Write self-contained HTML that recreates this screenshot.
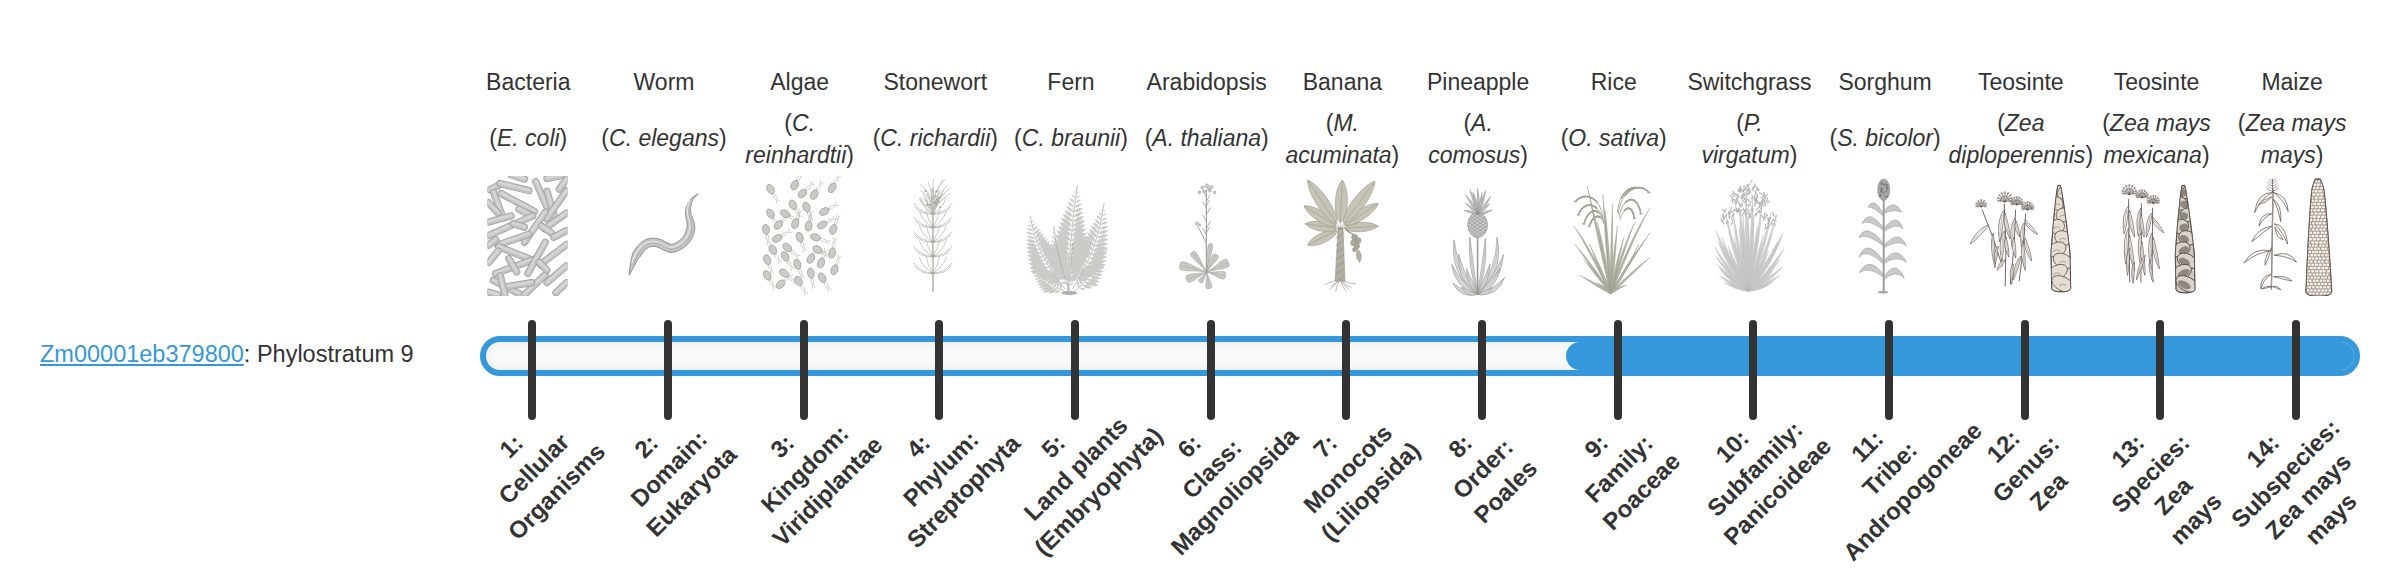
<!DOCTYPE html>
<html><head><meta charset="utf-8"><style>
html,body{margin:0;padding:0;background:#fff;width:2400px;height:580px;overflow:hidden;position:relative}
body{font-family:"Liberation Sans",sans-serif;color:#333}
.nm{position:absolute;top:66px;width:200px;margin-left:-100px;text-align:center;font-size:23px;line-height:32px;white-space:nowrap}
.sp{position:absolute;width:200px;margin-left:-100px;text-align:center;font-size:23px;line-height:32px;white-space:nowrap}
.sp i{font-style:italic}
.im{position:absolute;top:176px;width:136px;height:120px;margin-left:-68px}
.im svg{display:block}
.bar{position:absolute;left:480px;top:336px;width:1868px;height:28px;border:6px solid #3498db;border-radius:20px;background:#f9f9f9;box-shadow:inset 0 0 7px rgba(0,0,0,.09);overflow:hidden}
.fill{position:absolute;left:1080px;top:0;right:-2px;height:28px;background:#3498db;border-radius:14px 0 0 14px}
.tk{position:absolute;top:320px;width:8px;height:100px;margin-left:-4px;background:#333;border-radius:4px}
.lb{position:absolute;width:300px;text-align:center;font-size:24px;font-weight:bold;line-height:32px;white-space:nowrap;transform:rotate(-45deg);color:#333}
.gene{position:absolute;left:40px;top:338px;font-size:23.5px;line-height:32px;white-space:nowrap}
.gene a{color:#3498db;text-decoration:underline}
</style></head><body>
<div class="gene"><a>Zm00001eb379800</a>: Phylostratum 9</div>
<div class="nm" style="left:528.3px">Bacteria</div>
<div class="sp" style="left:528.3px;top:122px">(<i>E. coli</i>)</div>
<div class="im" style="left:528.3px"><svg width="136" height="120" viewBox="-68.0 0 136 120"><defs><clipPath id="cb"><rect x="-40.5" y="0" width="80" height="120"/></clipPath></defs><g clip-path="url(#cb)" stroke-linecap="round"><line x1="-16.9" y1="-1.1" x2="-3.5" y2="3.0" stroke="#9f9f9f" stroke-width="7.2"/><line x1="-16.9" y1="-1.1" x2="-3.5" y2="3.0" stroke="#c3c3c3" stroke-width="5.8"/><line x1="-16.9" y1="-1.7" x2="-3.5" y2="2.4" stroke="#d5d5d5" stroke-width="2.6"/><line x1="19.0" y1="2.5" x2="36.5" y2="-1.1" stroke="#9f9f9f" stroke-width="7.2"/><line x1="19.0" y1="2.5" x2="36.5" y2="-1.1" stroke="#c3c3c3" stroke-width="5.8"/><line x1="19.0" y1="1.9" x2="36.5" y2="-1.7" stroke="#d5d5d5" stroke-width="2.6"/><line x1="31.3" y1="13.1" x2="38.7" y2="3.0" stroke="#9f9f9f" stroke-width="7.2"/><line x1="31.3" y1="13.1" x2="38.7" y2="3.0" stroke="#c3c3c3" stroke-width="5.8"/><line x1="31.3" y1="12.5" x2="38.7" y2="2.4" stroke="#d5d5d5" stroke-width="2.6"/><line x1="-38.2" y1="13.7" x2="-29.2" y2="9.2" stroke="#9f9f9f" stroke-width="7.2"/><line x1="-38.2" y1="13.7" x2="-29.2" y2="9.2" stroke="#c3c3c3" stroke-width="5.8"/><line x1="-38.2" y1="13.1" x2="-29.2" y2="8.6" stroke="#d5d5d5" stroke-width="2.6"/><line x1="-28.1" y1="7.5" x2="1.0" y2="14.6" stroke="#9f9f9f" stroke-width="7.2"/><line x1="-28.1" y1="7.5" x2="1.0" y2="14.6" stroke="#c3c3c3" stroke-width="5.8"/><line x1="-28.1" y1="6.9" x2="1.0" y2="14.0" stroke="#d5d5d5" stroke-width="2.6"/><line x1="-34.4" y1="16.4" x2="-24.8" y2="42.2" stroke="#9f9f9f" stroke-width="7.2"/><line x1="-34.4" y1="16.4" x2="-24.8" y2="42.2" stroke="#c3c3c3" stroke-width="5.8"/><line x1="-34.4" y1="15.8" x2="-24.8" y2="41.6" stroke="#d5d5d5" stroke-width="2.6"/><line x1="-27.0" y1="17.5" x2="6.6" y2="35.5" stroke="#9f9f9f" stroke-width="7.2"/><line x1="-27.0" y1="17.5" x2="6.6" y2="35.5" stroke="#c3c3c3" stroke-width="5.8"/><line x1="-27.0" y1="16.9" x2="6.6" y2="34.9" stroke="#d5d5d5" stroke-width="2.6"/><line x1="-39.8" y1="26.5" x2="-29.9" y2="37.0" stroke="#9f9f9f" stroke-width="7.2"/><line x1="-39.8" y1="26.5" x2="-29.9" y2="37.0" stroke="#c3c3c3" stroke-width="5.8"/><line x1="-39.8" y1="25.9" x2="-29.9" y2="36.4" stroke="#d5d5d5" stroke-width="2.6"/><line x1="7.8" y1="5.7" x2="19.0" y2="31.0" stroke="#9f9f9f" stroke-width="7.2"/><line x1="7.8" y1="5.7" x2="19.0" y2="31.0" stroke="#c3c3c3" stroke-width="5.8"/><line x1="7.8" y1="5.1" x2="19.0" y2="30.4" stroke="#d5d5d5" stroke-width="2.6"/><line x1="19.0" y1="15.3" x2="26.1" y2="40.0" stroke="#9f9f9f" stroke-width="7.2"/><line x1="19.0" y1="15.3" x2="26.1" y2="40.0" stroke="#c3c3c3" stroke-width="5.8"/><line x1="19.0" y1="14.7" x2="26.1" y2="39.4" stroke="#d5d5d5" stroke-width="2.6"/><line x1="38.7" y1="14.6" x2="18.5" y2="42.9" stroke="#9f9f9f" stroke-width="7.2"/><line x1="38.7" y1="14.6" x2="18.5" y2="42.9" stroke="#c3c3c3" stroke-width="5.8"/><line x1="38.7" y1="14.0" x2="18.5" y2="42.3" stroke="#d5d5d5" stroke-width="2.6"/><line x1="-9.1" y1="33.2" x2="2.1" y2="38.8" stroke="#9f9f9f" stroke-width="7.2"/><line x1="-9.1" y1="33.2" x2="2.1" y2="38.8" stroke="#c3c3c3" stroke-width="5.8"/><line x1="-9.1" y1="32.6" x2="2.1" y2="38.2" stroke="#d5d5d5" stroke-width="2.6"/><line x1="-39.3" y1="46.0" x2="-16.9" y2="40.0" stroke="#9f9f9f" stroke-width="7.2"/><line x1="-39.3" y1="46.0" x2="-16.9" y2="40.0" stroke="#c3c3c3" stroke-width="5.8"/><line x1="-39.3" y1="45.4" x2="-16.9" y2="39.4" stroke="#d5d5d5" stroke-width="2.6"/><line x1="-39.3" y1="59.5" x2="4.6" y2="40.0" stroke="#9f9f9f" stroke-width="7.2"/><line x1="-39.3" y1="59.5" x2="4.6" y2="40.0" stroke="#c3c3c3" stroke-width="5.8"/><line x1="-39.3" y1="58.9" x2="4.6" y2="39.4" stroke="#d5d5d5" stroke-width="2.6"/><line x1="-3.5" y1="66.2" x2="17.2" y2="36.2" stroke="#9f9f9f" stroke-width="7.2"/><line x1="-3.5" y1="66.2" x2="17.2" y2="36.2" stroke="#c3c3c3" stroke-width="5.8"/><line x1="-3.5" y1="65.6" x2="17.2" y2="35.6" stroke="#d5d5d5" stroke-width="2.6"/><line x1="16.3" y1="52.7" x2="38.7" y2="37.0" stroke="#9f9f9f" stroke-width="7.2"/><line x1="16.3" y1="52.7" x2="38.7" y2="37.0" stroke="#c3c3c3" stroke-width="5.8"/><line x1="16.3" y1="52.1" x2="38.7" y2="36.4" stroke="#d5d5d5" stroke-width="2.6"/><line x1="13.4" y1="50.1" x2="23.9" y2="57.2" stroke="#9f9f9f" stroke-width="7.2"/><line x1="13.4" y1="50.1" x2="23.9" y2="57.2" stroke="#c3c3c3" stroke-width="5.8"/><line x1="13.4" y1="49.5" x2="23.9" y2="56.6" stroke="#d5d5d5" stroke-width="2.6"/><line x1="-30.4" y1="69.1" x2="0.6" y2="58.3" stroke="#9f9f9f" stroke-width="7.2"/><line x1="-30.4" y1="69.1" x2="0.6" y2="58.3" stroke="#c3c3c3" stroke-width="5.8"/><line x1="-30.4" y1="68.5" x2="0.6" y2="57.7" stroke="#d5d5d5" stroke-width="2.6"/><line x1="-39.3" y1="69.1" x2="-32.2" y2="63.5" stroke="#9f9f9f" stroke-width="7.2"/><line x1="-39.3" y1="69.1" x2="-32.2" y2="63.5" stroke="#c3c3c3" stroke-width="5.8"/><line x1="-39.3" y1="68.5" x2="-32.2" y2="62.9" stroke="#d5d5d5" stroke-width="2.6"/><line x1="-29.2" y1="70.7" x2="4.6" y2="84.1" stroke="#9f9f9f" stroke-width="7.2"/><line x1="-29.2" y1="70.7" x2="4.6" y2="84.1" stroke="#c3c3c3" stroke-width="5.8"/><line x1="-29.2" y1="70.1" x2="4.6" y2="83.5" stroke="#d5d5d5" stroke-width="2.6"/><line x1="-39.3" y1="86.4" x2="-29.9" y2="75.2" stroke="#9f9f9f" stroke-width="7.2"/><line x1="-39.3" y1="86.4" x2="-29.9" y2="75.2" stroke="#c3c3c3" stroke-width="5.8"/><line x1="-39.3" y1="85.8" x2="-29.9" y2="74.6" stroke="#d5d5d5" stroke-width="2.6"/><line x1="-32.6" y1="97.6" x2="6.9" y2="83.0" stroke="#9f9f9f" stroke-width="7.2"/><line x1="-32.6" y1="97.6" x2="6.9" y2="83.0" stroke="#c3c3c3" stroke-width="5.8"/><line x1="-32.6" y1="97.0" x2="6.9" y2="82.4" stroke="#d5d5d5" stroke-width="2.6"/><line x1="-0.1" y1="97.6" x2="17.2" y2="66.2" stroke="#9f9f9f" stroke-width="7.2"/><line x1="-0.1" y1="97.6" x2="17.2" y2="66.2" stroke="#c3c3c3" stroke-width="5.8"/><line x1="-0.1" y1="97.0" x2="17.2" y2="65.6" stroke="#d5d5d5" stroke-width="2.6"/><line x1="12.2" y1="88.6" x2="38.7" y2="68.4" stroke="#9f9f9f" stroke-width="7.2"/><line x1="12.2" y1="88.6" x2="38.7" y2="68.4" stroke="#c3c3c3" stroke-width="5.8"/><line x1="12.2" y1="88.0" x2="38.7" y2="67.8" stroke="#d5d5d5" stroke-width="2.6"/><line x1="19.0" y1="106.6" x2="38.7" y2="89.7" stroke="#9f9f9f" stroke-width="7.2"/><line x1="19.0" y1="106.6" x2="38.7" y2="89.7" stroke="#c3c3c3" stroke-width="5.8"/><line x1="19.0" y1="106.0" x2="38.7" y2="89.1" stroke="#d5d5d5" stroke-width="2.6"/><line x1="-34.8" y1="104.3" x2="-8.8" y2="117.8" stroke="#9f9f9f" stroke-width="7.2"/><line x1="-34.8" y1="104.3" x2="-8.8" y2="117.8" stroke="#c3c3c3" stroke-width="5.8"/><line x1="-34.8" y1="103.7" x2="-8.8" y2="117.2" stroke="#d5d5d5" stroke-width="2.6"/><line x1="-3.5" y1="118.7" x2="17.2" y2="98.7" stroke="#9f9f9f" stroke-width="7.2"/><line x1="-3.5" y1="118.7" x2="17.2" y2="98.7" stroke="#c3c3c3" stroke-width="5.8"/><line x1="-3.5" y1="118.1" x2="17.2" y2="98.1" stroke="#d5d5d5" stroke-width="2.6"/><line x1="-23.6" y1="111.0" x2="3.7" y2="106.6" stroke="#9f9f9f" stroke-width="7.2"/><line x1="-23.6" y1="111.0" x2="3.7" y2="106.6" stroke="#c3c3c3" stroke-width="5.8"/><line x1="-23.6" y1="110.4" x2="3.7" y2="106.0" stroke="#d5d5d5" stroke-width="2.6"/><line x1="27.9" y1="116.6" x2="38.7" y2="106.6" stroke="#9f9f9f" stroke-width="7.2"/><line x1="27.9" y1="116.6" x2="38.7" y2="106.6" stroke="#c3c3c3" stroke-width="5.8"/><line x1="27.9" y1="116.0" x2="38.7" y2="106.0" stroke="#d5d5d5" stroke-width="2.6"/><line x1="11.1" y1="86.4" x2="19.0" y2="94.2" stroke="#9f9f9f" stroke-width="7.2"/><line x1="11.1" y1="86.4" x2="19.0" y2="94.2" stroke="#c3c3c3" stroke-width="5.8"/><line x1="11.1" y1="85.8" x2="19.0" y2="93.6" stroke="#d5d5d5" stroke-width="2.6"/><line x1="-27.7" y1="99.8" x2="-23.2" y2="118.7" stroke="#9f9f9f" stroke-width="7.2"/><line x1="-27.7" y1="99.8" x2="-23.2" y2="118.7" stroke="#c3c3c3" stroke-width="5.8"/><line x1="-27.7" y1="99.2" x2="-23.2" y2="118.1" stroke="#d5d5d5" stroke-width="2.6"/><line x1="-39.3" y1="116.2" x2="-30.4" y2="118.7" stroke="#9f9f9f" stroke-width="7.2"/><line x1="-39.3" y1="116.2" x2="-30.4" y2="118.7" stroke="#c3c3c3" stroke-width="5.8"/><line x1="-39.3" y1="115.6" x2="-30.4" y2="118.1" stroke="#d5d5d5" stroke-width="2.6"/><line x1="-14.7" y1="47.8" x2="-3.5" y2="51.2" stroke="#9f9f9f" stroke-width="7.2"/><line x1="-14.7" y1="47.8" x2="-3.5" y2="51.2" stroke="#c3c3c3" stroke-width="5.8"/><line x1="-14.7" y1="47.2" x2="-3.5" y2="50.6" stroke="#d5d5d5" stroke-width="2.6"/><line x1="25.7" y1="61.3" x2="38.7" y2="54.5" stroke="#9f9f9f" stroke-width="7.2"/><line x1="25.7" y1="61.3" x2="38.7" y2="54.5" stroke="#c3c3c3" stroke-width="5.8"/><line x1="25.7" y1="60.7" x2="38.7" y2="53.9" stroke="#d5d5d5" stroke-width="2.6"/><line x1="-19.2" y1="82.6" x2="-11.3" y2="96.0" stroke="#9f9f9f" stroke-width="7.2"/><line x1="-19.2" y1="82.6" x2="-11.3" y2="96.0" stroke="#c3c3c3" stroke-width="5.8"/><line x1="-19.2" y1="82.0" x2="-11.3" y2="95.4" stroke="#d5d5d5" stroke-width="2.6"/></g></svg></div>
<div class="nm" style="left:664.0px">Worm</div>
<div class="sp" style="left:664.0px;top:122px">(<i>C. elegans</i>)</div>
<div class="im" style="left:664.0px"><svg width="136" height="120" viewBox="-68.0 0 136 120"><polygon points="-34.4,99.0 -34.0,97.8 -33.2,96.4 -32.2,94.7 -31.3,92.7 -30.2,90.7 -29.1,88.6 -28.0,86.5 -26.9,84.6 -25.8,83.0 -24.7,81.6 -23.7,80.5 -23.0,79.2 -22.2,78.0 -21.3,76.8 -20.5,75.8 -19.7,74.8 -18.8,73.9 -18.0,73.2 -17.2,72.5 -16.4,72.0 -15.7,71.5 -14.9,71.2 -14.2,70.9 -13.4,70.7 -12.7,70.6 -11.9,70.5 -11.0,70.4 -10.0,70.5 -8.9,70.5 -8.0,70.7 -7.1,70.9 -6.0,71.3 -4.7,71.9 -3.2,72.6 -1.6,73.5 0.1,74.3 1.9,75.1 3.8,75.8 5.9,76.3 8.1,76.4 10.2,76.1 12.1,75.6 13.9,75.0 15.6,74.1 17.3,73.2 18.9,72.2 20.4,71.1 21.8,69.9 23.1,68.7 24.3,67.5 25.4,66.2 26.4,64.7 27.3,63.3 28.1,61.7 28.9,60.2 29.5,58.5 30.0,56.9 30.4,55.2 30.7,53.5 30.8,51.7 30.7,49.8 30.4,47.9 29.9,46.2 29.4,44.5 28.8,42.8 28.2,41.3 27.7,39.8 27.2,38.5 26.9,37.3 26.7,36.2 26.6,35.1 26.5,33.9 26.6,32.8 26.6,31.7 26.8,30.6 26.9,29.5 27.2,28.4 27.4,27.4 27.7,26.4 28.1,25.5 28.4,24.6 29.0,23.7 29.6,22.9 30.3,22.0 31.0,21.1 31.8,20.3 32.5,19.6 33.2,19.0 33.8,18.6 34.2,18.1 33.7,17.6 33.2,17.9 32.7,18.4 32.0,19.0 31.1,19.5 30.2,20.2 29.2,20.8 28.3,21.6 27.4,22.4 26.5,23.3 25.8,24.2 25.2,25.2 24.6,26.2 24.0,27.3 23.5,28.4 23.0,29.6 22.6,30.8 22.2,32.1 21.9,33.4 21.6,34.8 21.5,36.3 21.5,38.0 21.6,39.7 21.9,41.3 22.2,43.0 22.5,44.6 22.9,46.2 23.1,47.7 23.2,49.0 23.2,50.1 23.0,51.1 22.8,52.2 22.5,53.4 22.1,54.6 21.8,55.8 21.3,57.0 20.8,58.1 20.2,59.2 19.6,60.2 18.9,61.1 18.2,62.0 17.3,62.8 16.4,63.7 15.3,64.6 14.2,65.4 13.0,66.2 11.9,66.9 10.7,67.4 9.6,67.8 8.6,68.1 7.8,68.2 7.0,68.2 6.1,68.0 5.0,67.5 3.6,66.9 2.1,66.2 0.5,65.4 -1.1,64.5 -2.8,63.7 -4.7,63.0 -6.5,62.6 -8.1,62.4 -9.6,62.3 -11.0,62.2 -12.5,62.3 -13.9,62.4 -15.3,62.7 -16.7,63.1 -18.1,63.6 -19.5,64.3 -20.8,65.1 -22.1,66.0 -23.4,67.0 -24.6,68.1 -25.7,69.3 -26.8,70.5 -27.9,71.9 -28.9,73.3 -29.9,74.8 -30.8,76.4 -31.5,78.2 -32.0,80.2 -32.5,82.4 -33.0,84.7 -33.4,87.1 -33.8,89.5 -34.2,91.8 -34.4,94.0 -34.6,96.0 -34.7,97.6 -35.1,98.8" fill="#c4c4c4" stroke="#8a8a8a" stroke-width="0.9"/><polyline points="-32.1,87.1 -31.3,84.8 -30.5,82.7 -29.7,80.8 -28.9,79.1 -28.1,77.6 -27.2,76.2 -26.3,74.8 -25.4,73.5 -24.5,72.3 -23.5,71.2 -22.5,70.2 -21.5,69.3 -20.5,68.4 -19.4,67.7 -18.4,67.1 -17.3,66.6 -16.3,66.2 -15.2,65.9 -14.1,65.7 -13.0,65.6 -11.8,65.5 -10.6,65.6 -9.3,65.7 -8.0,65.8 -6.7,66.1 -5.2,66.7 -3.7,67.4 -2.1,68.2 -0.6,69.0 1.0,69.8 2.6,70.5 4.2,71.1 5.7,71.4 7.1,71.5 8.6,71.3 10.0,70.9 11.5,70.4 13.0,69.7 14.4,68.9 15.8,68.0 17.1,67.0 18.3,66.0 19.4,65.0 20.4,63.9 21.3,62.8 22.2,61.7 23.0,60.4 23.7,59.1 24.3,57.8 24.8,56.4 25.3,54.9 25.7,53.5 25.9,52.1 26.1,50.6 26.2,49.2 26.0,47.7 25.7,46.1 25.3,44.5 24.9,42.9 24.4,41.3 24.0,39.8 23.6,38.3 23.4,36.8 23.3,35.5 23.3,34.1 23.4,32.9 23.6,31.6 23.8,30.4 24.1,29.3 24.4,28.1 24.8,27.0 25.2,26.0 25.6,25.0 26.1,24.1" fill="none" stroke="#e2e2e2" stroke-width="1.4"/><polyline points="-30.4,88.8 -29.6,86.5 -28.8,84.4 -28.0,82.5 -27.2,80.8 -26.4,79.3 -25.5,77.9 -24.6,76.5 -23.7,75.2 -22.8,74.0 -21.8,72.9 -20.8,71.9 -19.8,71.0 -18.8,70.1 -17.7,69.4 -16.7,68.8 -15.6,68.3 -14.6,67.9 -13.5,67.6 -12.4,67.4 -11.3,67.3 -10.1,67.2 -8.9,67.3 -7.6,67.4 -6.3,67.5 -5.0,67.8 -3.5,68.4 -2.0,69.1 -0.4,69.9 1.1,70.7 2.7,71.5 4.3,72.2 5.9,72.8 7.4,73.1 8.8,73.2 10.3,73.0 11.7,72.6 13.2,72.1 14.7,71.4 16.1,70.6 17.5,69.7 18.8,68.7 20.0,67.7 21.1,66.7 22.1,65.6 23.0,64.5 23.9,63.4 24.7,62.1 25.4,60.8 26.0,59.5 26.5,58.1 27.0,56.6 27.4,55.2 27.6,53.8 27.8,52.3 27.9,50.9 27.7,49.4 27.4,47.8 27.0,46.2 26.6,44.6 26.1,43.0 25.7,41.5 25.3,40.0 25.1,38.5 25.0,37.2 25.0,35.8 25.1,34.6 25.3,33.3 25.5,32.1 25.8,31.0 26.1,29.8 26.5,28.7 26.9,27.7 27.3,26.7 27.8,25.8" fill="none" stroke="#a8a8a8" stroke-width="0.8"/></svg></div>
<div class="nm" style="left:799.7px">Algae</div>
<div class="sp" style="left:799.7px;top:107px">(<i>C.</i><br><i>reinhardtii</i>)</div>
<div class="im" style="left:799.7px"><svg width="136" height="120" viewBox="-68.0 0 136 120"><path d="M-27.2 17.0C-22.2 18.7 -25.0 23.8 -20.0 25.5" fill="none" stroke="#a3a39f" stroke-width="0.55"/><path d="M-27.2 17.0C-28.3 22.2 -22.4 22.3 -23.5 27.5" fill="none" stroke="#a3a39f" stroke-width="0.55"/><path d="M-3.0 5.3C-4.0 0.1 1.8 0.0 0.8 -5.2" fill="none" stroke="#a3a39f" stroke-width="0.55"/><path d="M-3.0 5.3C2.0 3.6 -0.8 -1.5 4.2 -3.2" fill="none" stroke="#a3a39f" stroke-width="0.55"/><path d="M5.5 14.4C5.9 9.1 11.6 10.5 11.9 5.2" fill="none" stroke="#a3a39f" stroke-width="0.55"/><path d="M5.5 14.4C10.8 14.0 9.4 8.4 14.7 8.0" fill="none" stroke="#a3a39f" stroke-width="0.55"/><path d="M16.5 14.8C15.5 9.6 21.3 9.5 20.3 4.2" fill="none" stroke="#a3a39f" stroke-width="0.55"/><path d="M16.5 14.8C21.5 13.1 18.7 8.0 23.7 6.2" fill="none" stroke="#a3a39f" stroke-width="0.55"/><path d="M34.4 8.0C33.4 2.8 39.2 2.7 38.2 -2.5" fill="none" stroke="#a3a39f" stroke-width="0.55"/><path d="M34.4 8.0C39.5 6.3 36.6 1.2 41.7 -0.5" fill="none" stroke="#a3a39f" stroke-width="0.55"/><path d="M-4.8 32.7C0.2 34.4 -2.6 39.5 2.4 41.2" fill="none" stroke="#a3a39f" stroke-width="0.55"/><path d="M-4.8 32.7C-5.8 37.9 -0.0 38.0 -1.0 43.2" fill="none" stroke="#a3a39f" stroke-width="0.55"/><path d="M7.9 35.2C12.6 37.8 8.9 42.3 13.6 44.9" fill="none" stroke="#a3a39f" stroke-width="0.55"/><path d="M7.9 35.2C6.0 40.2 11.7 41.3 9.8 46.2" fill="none" stroke="#a3a39f" stroke-width="0.55"/><path d="M-27.2 41.6C-22.2 43.3 -25.0 48.4 -20.0 50.1" fill="none" stroke="#a3a39f" stroke-width="0.55"/><path d="M-27.2 41.6C-28.3 46.8 -22.4 46.9 -23.5 52.1" fill="none" stroke="#a3a39f" stroke-width="0.55"/><path d="M-11.0 40.0C-5.8 38.9 -5.7 44.8 -0.5 43.7" fill="none" stroke="#a3a39f" stroke-width="0.55"/><path d="M-11.0 40.0C-9.3 45.0 -4.2 42.2 -2.5 47.2" fill="none" stroke="#a3a39f" stroke-width="0.55"/><path d="M28.2 33.2C29.9 28.2 35.0 31.0 36.8 26.0" fill="none" stroke="#a3a39f" stroke-width="0.55"/><path d="M28.2 33.2C33.4 34.3 33.5 28.4 38.8 29.5" fill="none" stroke="#a3a39f" stroke-width="0.55"/><path d="M-18.5 45.8C-18.1 40.4 -12.4 41.9 -12.1 36.6" fill="none" stroke="#a3a39f" stroke-width="0.55"/><path d="M-18.5 45.8C-13.1 45.4 -14.6 39.7 -9.3 39.4" fill="none" stroke="#a3a39f" stroke-width="0.55"/><path d="M-3.3 43.6C-5.2 38.6 0.5 37.5 -1.4 32.6" fill="none" stroke="#a3a39f" stroke-width="0.55"/><path d="M-3.3 43.6C1.4 41.0 -2.3 36.5 2.4 33.9" fill="none" stroke="#a3a39f" stroke-width="0.55"/><path d="M9.4 45.6C6.7 41.1 12.1 39.0 9.4 34.4" fill="none" stroke="#a3a39f" stroke-width="0.55"/><path d="M9.4 45.6C13.6 42.3 9.2 38.5 13.3 35.1" fill="none" stroke="#a3a39f" stroke-width="0.55"/><path d="M26.0 46.7C27.7 41.7 32.8 44.5 34.5 39.5" fill="none" stroke="#a3a39f" stroke-width="0.55"/><path d="M26.0 46.7C31.2 47.7 31.3 41.9 36.5 42.9" fill="none" stroke="#a3a39f" stroke-width="0.55"/><path d="M34.8 49.2C32.9 44.2 38.6 43.1 36.7 38.2" fill="none" stroke="#a3a39f" stroke-width="0.55"/><path d="M34.8 49.2C39.5 46.6 35.8 42.1 40.5 39.5" fill="none" stroke="#a3a39f" stroke-width="0.55"/><path d="M-33.2 57.8C-29.0 61.2 -33.4 65.0 -29.3 68.3" fill="none" stroke="#a3a39f" stroke-width="0.55"/><path d="M-33.2 57.8C-35.9 62.4 -30.5 64.5 -33.2 69.0" fill="none" stroke="#a3a39f" stroke-width="0.55"/><path d="M-18.9 60.1C-17.1 55.1 -12.0 57.9 -10.3 52.9" fill="none" stroke="#a3a39f" stroke-width="0.55"/><path d="M-18.9 60.1C-13.6 61.2 -13.5 55.3 -8.3 56.4" fill="none" stroke="#a3a39f" stroke-width="0.55"/><path d="M1.2 65.5C5.9 68.1 2.2 72.6 6.8 75.1" fill="none" stroke="#a3a39f" stroke-width="0.55"/><path d="M1.2 65.5C-0.7 70.4 5.0 71.6 3.1 76.5" fill="none" stroke="#a3a39f" stroke-width="0.55"/><path d="M19.6 62.8C24.5 60.9 25.7 66.6 30.6 64.7" fill="none" stroke="#a3a39f" stroke-width="0.55"/><path d="M19.6 62.8C22.2 67.5 26.7 63.8 29.2 68.4" fill="none" stroke="#a3a39f" stroke-width="0.55"/><path d="M-25.0 77.5C-20.0 79.2 -22.8 84.3 -17.8 86.0" fill="none" stroke="#a3a39f" stroke-width="0.55"/><path d="M-25.0 77.5C-26.0 82.7 -20.2 82.8 -21.2 88.0" fill="none" stroke="#a3a39f" stroke-width="0.55"/><path d="M-9.2 74.2C-3.9 74.1 -4.8 79.9 0.5 79.8" fill="none" stroke="#a3a39f" stroke-width="0.55"/><path d="M-9.2 74.2C-8.4 79.5 -2.9 77.6 -2.1 82.8" fill="none" stroke="#a3a39f" stroke-width="0.55"/><path d="M21.5 75.8C26.7 74.8 26.8 80.6 32.0 79.6" fill="none" stroke="#a3a39f" stroke-width="0.55"/><path d="M21.5 75.8C23.2 80.9 28.3 78.0 30.0 83.1" fill="none" stroke="#a3a39f" stroke-width="0.55"/><path d="M33.0 72.5C30.2 68.0 35.7 65.9 32.9 61.3" fill="none" stroke="#a3a39f" stroke-width="0.55"/><path d="M33.0 72.5C37.1 69.2 32.7 65.4 36.8 62.0" fill="none" stroke="#a3a39f" stroke-width="0.55"/><path d="M-12.7 84.2C-7.6 85.9 -10.5 91.0 -5.4 92.7" fill="none" stroke="#a3a39f" stroke-width="0.55"/><path d="M-12.7 84.2C-13.7 89.4 -7.9 89.5 -8.9 94.7" fill="none" stroke="#a3a39f" stroke-width="0.55"/><path d="M13.1 78.7C12.1 73.5 17.9 73.4 16.9 68.1" fill="none" stroke="#a3a39f" stroke-width="0.55"/><path d="M13.1 78.7C18.2 77.0 15.3 71.9 20.4 70.1" fill="none" stroke="#a3a39f" stroke-width="0.55"/><path d="M-31.3 87.9C-26.6 90.5 -30.3 95.0 -25.7 97.6" fill="none" stroke="#a3a39f" stroke-width="0.55"/><path d="M-31.3 87.9C-33.2 92.9 -27.5 94.0 -29.4 98.9" fill="none" stroke="#a3a39f" stroke-width="0.55"/><path d="M-1.0 92.4C3.6 95.0 -0.1 99.5 4.6 102.1" fill="none" stroke="#a3a39f" stroke-width="0.55"/><path d="M-1.0 92.4C-3.0 97.4 2.8 98.5 0.8 103.4" fill="none" stroke="#a3a39f" stroke-width="0.55"/><path d="M22.5 82.8C20.6 77.9 26.3 76.8 24.4 71.8" fill="none" stroke="#a3a39f" stroke-width="0.55"/><path d="M22.5 82.8C27.2 80.3 23.5 75.7 28.1 73.2" fill="none" stroke="#a3a39f" stroke-width="0.55"/><path d="M36.0 89.5C34.0 84.6 39.8 83.5 37.8 78.5" fill="none" stroke="#a3a39f" stroke-width="0.55"/><path d="M36.0 89.5C40.6 87.0 36.9 82.5 41.6 79.9" fill="none" stroke="#a3a39f" stroke-width="0.55"/><path d="M-12.6 100.0C-7.3 99.9 -8.2 105.7 -2.9 105.6" fill="none" stroke="#a3a39f" stroke-width="0.55"/><path d="M-12.6 100.0C-11.8 105.3 -6.3 103.4 -5.4 108.6" fill="none" stroke="#a3a39f" stroke-width="0.55"/><path d="M11.7 101.6C15.8 104.9 11.4 108.7 15.5 112.1" fill="none" stroke="#a3a39f" stroke-width="0.55"/><path d="M11.7 101.6C8.9 106.1 14.4 108.2 11.6 112.8" fill="none" stroke="#a3a39f" stroke-width="0.55"/><path d="M-30.6 103.3C-25.6 105.0 -28.4 110.1 -23.4 111.8" fill="none" stroke="#a3a39f" stroke-width="0.55"/><path d="M-30.6 103.3C-31.6 108.5 -25.8 108.6 -26.8 113.8" fill="none" stroke="#a3a39f" stroke-width="0.55"/><path d="M0.8 108.9C5.8 110.6 3.0 115.7 8.0 117.4" fill="none" stroke="#a3a39f" stroke-width="0.55"/><path d="M0.8 108.9C-0.2 114.1 5.6 114.2 4.6 119.4" fill="none" stroke="#a3a39f" stroke-width="0.55"/><path d="M24.3 105.5C29.4 107.2 26.5 112.3 31.6 114.0" fill="none" stroke="#a3a39f" stroke-width="0.55"/><path d="M24.3 105.5C23.3 110.7 29.1 110.8 28.1 116.0" fill="none" stroke="#a3a39f" stroke-width="0.55"/><path d="M-16.2 105.2C-15.9 99.9 -10.2 101.3 -9.8 96.0" fill="none" stroke="#a3a39f" stroke-width="0.55"/><path d="M-16.2 105.2C-10.9 104.8 -12.3 99.2 -7.0 98.8" fill="none" stroke="#a3a39f" stroke-width="0.55"/><ellipse cx="-29.5" cy="13.1" rx="5.1" ry="3.4" transform="rotate(60 -29.5 13.1)" fill="#cbcbc6" stroke="#8f8f8a" stroke-width="0.6"/><ellipse cx="-5.3" cy="9.2" rx="5.1" ry="3.4" transform="rotate(120 -5.3 9.2)" fill="#cbcbc6" stroke="#8f8f8a" stroke-width="0.6"/><ellipse cx="2.4" cy="17.5" rx="5.1" ry="3.4" transform="rotate(135 2.4 17.5)" fill="#cbcbc6" stroke="#8f8f8a" stroke-width="0.6"/><ellipse cx="14.2" cy="18.7" rx="5.1" ry="3.4" transform="rotate(120 14.2 18.7)" fill="#cbcbc6" stroke="#8f8f8a" stroke-width="0.6"/><ellipse cx="32.2" cy="11.9" rx="5.1" ry="3.4" transform="rotate(120 32.2 11.9)" fill="#cbcbc6" stroke="#8f8f8a" stroke-width="0.6"/><ellipse cx="-7.1" cy="28.8" rx="5.1" ry="3.4" transform="rotate(60 -7.1 28.8)" fill="#cbcbc6" stroke="#8f8f8a" stroke-width="0.6"/><ellipse cx="6.4" cy="31.0" rx="5.1" ry="3.4" transform="rotate(70 6.4 31.0)" fill="#cbcbc6" stroke="#8f8f8a" stroke-width="0.6"/><ellipse cx="-29.5" cy="37.7" rx="5.1" ry="3.4" transform="rotate(60 -29.5 37.7)" fill="#cbcbc6" stroke="#8f8f8a" stroke-width="0.6"/><ellipse cx="-14.9" cy="37.7" rx="5.1" ry="3.4" transform="rotate(30 -14.9 37.7)" fill="#cbcbc6" stroke="#8f8f8a" stroke-width="0.6"/><ellipse cx="24.3" cy="35.5" rx="5.1" ry="3.4" transform="rotate(150 24.3 35.5)" fill="#cbcbc6" stroke="#8f8f8a" stroke-width="0.6"/><ellipse cx="-21.6" cy="48.9" rx="5.1" ry="3.4" transform="rotate(135 -21.6 48.9)" fill="#cbcbc6" stroke="#8f8f8a" stroke-width="0.6"/><ellipse cx="-4.8" cy="47.8" rx="5.1" ry="3.4" transform="rotate(110 -4.8 47.8)" fill="#cbcbc6" stroke="#8f8f8a" stroke-width="0.6"/><ellipse cx="8.6" cy="50.1" rx="5.1" ry="3.4" transform="rotate(100 8.6 50.1)" fill="#cbcbc6" stroke="#8f8f8a" stroke-width="0.6"/><ellipse cx="22.1" cy="48.9" rx="5.1" ry="3.4" transform="rotate(150 22.1 48.9)" fill="#cbcbc6" stroke="#8f8f8a" stroke-width="0.6"/><ellipse cx="33.3" cy="53.4" rx="5.1" ry="3.4" transform="rotate(110 33.3 53.4)" fill="#cbcbc6" stroke="#8f8f8a" stroke-width="0.6"/><ellipse cx="-34.0" cy="53.4" rx="5.1" ry="3.4" transform="rotate(80 -34.0 53.4)" fill="#cbcbc6" stroke="#8f8f8a" stroke-width="0.6"/><ellipse cx="-22.8" cy="62.4" rx="5.1" ry="3.4" transform="rotate(150 -22.8 62.4)" fill="#cbcbc6" stroke="#8f8f8a" stroke-width="0.6"/><ellipse cx="-0.3" cy="61.3" rx="5.1" ry="3.4" transform="rotate(70 -0.3 61.3)" fill="#cbcbc6" stroke="#8f8f8a" stroke-width="0.6"/><ellipse cx="15.4" cy="61.3" rx="5.1" ry="3.4" transform="rotate(20 15.4 61.3)" fill="#cbcbc6" stroke="#8f8f8a" stroke-width="0.6"/><ellipse cx="-27.2" cy="73.6" rx="5.1" ry="3.4" transform="rotate(60 -27.2 73.6)" fill="#cbcbc6" stroke="#8f8f8a" stroke-width="0.6"/><ellipse cx="-12.7" cy="71.4" rx="5.1" ry="3.4" transform="rotate(40 -12.7 71.4)" fill="#cbcbc6" stroke="#8f8f8a" stroke-width="0.6"/><ellipse cx="17.6" cy="73.6" rx="5.1" ry="3.4" transform="rotate(30 17.6 73.6)" fill="#cbcbc6" stroke="#8f8f8a" stroke-width="0.6"/><ellipse cx="32.2" cy="77.0" rx="5.1" ry="3.4" transform="rotate(100 32.2 77.0)" fill="#cbcbc6" stroke="#8f8f8a" stroke-width="0.6"/><ellipse cx="-14.9" cy="80.3" rx="5.1" ry="3.4" transform="rotate(60 -14.9 80.3)" fill="#cbcbc6" stroke="#8f8f8a" stroke-width="0.6"/><ellipse cx="10.9" cy="82.6" rx="5.1" ry="3.4" transform="rotate(120 10.9 82.6)" fill="#cbcbc6" stroke="#8f8f8a" stroke-width="0.6"/><ellipse cx="-32.8" cy="83.7" rx="5.1" ry="3.4" transform="rotate(70 -32.8 83.7)" fill="#cbcbc6" stroke="#8f8f8a" stroke-width="0.6"/><ellipse cx="-2.6" cy="88.2" rx="5.1" ry="3.4" transform="rotate(70 -2.6 88.2)" fill="#cbcbc6" stroke="#8f8f8a" stroke-width="0.6"/><ellipse cx="21.0" cy="87.0" rx="5.1" ry="3.4" transform="rotate(110 21.0 87.0)" fill="#cbcbc6" stroke="#8f8f8a" stroke-width="0.6"/><ellipse cx="34.4" cy="93.8" rx="5.1" ry="3.4" transform="rotate(110 34.4 93.8)" fill="#cbcbc6" stroke="#8f8f8a" stroke-width="0.6"/><ellipse cx="-16.0" cy="97.1" rx="5.1" ry="3.4" transform="rotate(40 -16.0 97.1)" fill="#cbcbc6" stroke="#8f8f8a" stroke-width="0.6"/><ellipse cx="10.9" cy="97.1" rx="5.1" ry="3.4" transform="rotate(80 10.9 97.1)" fill="#cbcbc6" stroke="#8f8f8a" stroke-width="0.6"/><ellipse cx="-32.8" cy="99.4" rx="5.1" ry="3.4" transform="rotate(60 -32.8 99.4)" fill="#cbcbc6" stroke="#8f8f8a" stroke-width="0.6"/><ellipse cx="-1.5" cy="105.0" rx="5.1" ry="3.4" transform="rotate(60 -1.5 105.0)" fill="#cbcbc6" stroke="#8f8f8a" stroke-width="0.6"/><ellipse cx="22.1" cy="101.6" rx="5.1" ry="3.4" transform="rotate(60 22.1 101.6)" fill="#cbcbc6" stroke="#8f8f8a" stroke-width="0.6"/><ellipse cx="-19.4" cy="108.3" rx="5.1" ry="3.4" transform="rotate(135 -19.4 108.3)" fill="#cbcbc6" stroke="#8f8f8a" stroke-width="0.6"/></svg></div>
<div class="nm" style="left:935.3px">Stonewort</div>
<div class="sp" style="left:935.3px;top:122px">(<i>C. richardii</i>)</div>
<div class="im" style="left:935.3px"><svg width="136" height="120" viewBox="-68.0 0 136 120"><path d="M-2.1 115.1Q-2.1 71.4 -2.1 27.6" fill="none" stroke="#c3c3bb" stroke-width="2.0" stroke-linecap="round" opacity="1.0"/><path d="M-2.1 97.1Q-14.2 96.9 -21.2 87.0" fill="none" stroke="#c3c3bb" stroke-width="0.9" stroke-linecap="round" opacity="1.0"/><path d="M-2.1 97.1Q-12.0 92.0 -15.6 81.4" fill="none" stroke="#c3c3bb" stroke-width="0.9" stroke-linecap="round" opacity="1.0"/><path d="M-2.1 97.1Q-7.5 89.5 -8.9 80.3" fill="none" stroke="#c3c3bb" stroke-width="0.9" stroke-linecap="round" opacity="1.0"/><path d="M-2.1 97.1Q3.2 89.5 4.6 80.3" fill="none" stroke="#c3c3bb" stroke-width="0.9" stroke-linecap="round" opacity="1.0"/><path d="M-2.1 97.1Q7.7 92.0 11.3 81.4" fill="none" stroke="#c3c3bb" stroke-width="0.9" stroke-linecap="round" opacity="1.0"/><path d="M-2.1 97.1Q9.9 96.9 16.9 87.0" fill="none" stroke="#c3c3bb" stroke-width="0.9" stroke-linecap="round" opacity="1.0"/><path d="M-2.1 97.1Q-13.1 99.2 -20.1 90.4" fill="none" stroke="#c3c3bb" stroke-width="0.9" stroke-linecap="round" opacity="1.0"/><path d="M-2.1 97.1Q8.9 99.2 15.8 90.4" fill="none" stroke="#c3c3bb" stroke-width="0.9" stroke-linecap="round" opacity="1.0"/><ellipse cx="-2.1" cy="97.1" rx="2.6" ry="1.2" fill="#aaa9a2"/><path d="M-2.1 80.3Q-14.2 80.0 -21.2 70.2" fill="none" stroke="#c3c3bb" stroke-width="0.9" stroke-linecap="round" opacity="1.0"/><path d="M-2.1 80.3Q-12.0 75.2 -15.6 64.6" fill="none" stroke="#c3c3bb" stroke-width="0.9" stroke-linecap="round" opacity="1.0"/><path d="M-2.1 80.3Q-7.5 72.7 -8.9 63.5" fill="none" stroke="#c3c3bb" stroke-width="0.9" stroke-linecap="round" opacity="1.0"/><path d="M-2.1 80.3Q3.2 72.7 4.6 63.5" fill="none" stroke="#c3c3bb" stroke-width="0.9" stroke-linecap="round" opacity="1.0"/><path d="M-2.1 80.3Q7.7 75.2 11.3 64.6" fill="none" stroke="#c3c3bb" stroke-width="0.9" stroke-linecap="round" opacity="1.0"/><path d="M-2.1 80.3Q9.9 80.0 16.9 70.2" fill="none" stroke="#c3c3bb" stroke-width="0.9" stroke-linecap="round" opacity="1.0"/><path d="M-2.1 80.3Q-13.1 82.3 -20.1 73.6" fill="none" stroke="#c3c3bb" stroke-width="0.9" stroke-linecap="round" opacity="1.0"/><path d="M-2.1 80.3Q8.9 82.3 15.8 73.6" fill="none" stroke="#c3c3bb" stroke-width="0.9" stroke-linecap="round" opacity="1.0"/><ellipse cx="-2.1" cy="80.3" rx="2.6" ry="1.2" fill="#aaa9a2"/><path d="M-2.1 65.7Q-14.2 65.5 -21.2 55.7" fill="none" stroke="#c3c3bb" stroke-width="0.9" stroke-linecap="round" opacity="1.0"/><path d="M-2.1 65.7Q-12.0 60.6 -15.6 50.1" fill="none" stroke="#c3c3bb" stroke-width="0.9" stroke-linecap="round" opacity="1.0"/><path d="M-2.1 65.7Q-7.5 58.1 -8.9 48.9" fill="none" stroke="#c3c3bb" stroke-width="0.9" stroke-linecap="round" opacity="1.0"/><path d="M-2.1 65.7Q3.2 58.1 4.6 48.9" fill="none" stroke="#c3c3bb" stroke-width="0.9" stroke-linecap="round" opacity="1.0"/><path d="M-2.1 65.7Q7.7 60.6 11.3 50.1" fill="none" stroke="#c3c3bb" stroke-width="0.9" stroke-linecap="round" opacity="1.0"/><path d="M-2.1 65.7Q9.9 65.5 16.9 55.7" fill="none" stroke="#c3c3bb" stroke-width="0.9" stroke-linecap="round" opacity="1.0"/><path d="M-2.1 65.7Q-13.1 67.8 -20.1 59.0" fill="none" stroke="#c3c3bb" stroke-width="0.9" stroke-linecap="round" opacity="1.0"/><path d="M-2.1 65.7Q8.9 67.8 15.8 59.0" fill="none" stroke="#c3c3bb" stroke-width="0.9" stroke-linecap="round" opacity="1.0"/><ellipse cx="-2.1" cy="65.7" rx="2.6" ry="1.2" fill="#aaa9a2"/><path d="M-2.1 51.2Q-14.2 50.9 -21.2 41.1" fill="none" stroke="#c3c3bb" stroke-width="0.9" stroke-linecap="round" opacity="1.0"/><path d="M-2.1 51.2Q-12.0 46.0 -15.6 35.5" fill="none" stroke="#c3c3bb" stroke-width="0.9" stroke-linecap="round" opacity="1.0"/><path d="M-2.1 51.2Q-7.5 43.6 -8.9 34.4" fill="none" stroke="#c3c3bb" stroke-width="0.9" stroke-linecap="round" opacity="1.0"/><path d="M-2.1 51.2Q3.2 43.6 4.6 34.4" fill="none" stroke="#c3c3bb" stroke-width="0.9" stroke-linecap="round" opacity="1.0"/><path d="M-2.1 51.2Q7.7 46.0 11.3 35.5" fill="none" stroke="#c3c3bb" stroke-width="0.9" stroke-linecap="round" opacity="1.0"/><path d="M-2.1 51.2Q9.9 50.9 16.9 41.1" fill="none" stroke="#c3c3bb" stroke-width="0.9" stroke-linecap="round" opacity="1.0"/><path d="M-2.1 51.2Q-13.1 53.2 -20.1 44.4" fill="none" stroke="#c3c3bb" stroke-width="0.9" stroke-linecap="round" opacity="1.0"/><path d="M-2.1 51.2Q8.9 53.2 15.8 44.4" fill="none" stroke="#c3c3bb" stroke-width="0.9" stroke-linecap="round" opacity="1.0"/><ellipse cx="-2.1" cy="51.2" rx="2.6" ry="1.2" fill="#aaa9a2"/><path d="M-2.1 37.7Q-14.2 37.4 -21.2 27.6" fill="none" stroke="#c3c3bb" stroke-width="0.9" stroke-linecap="round" opacity="1.0"/><path d="M-2.1 37.7Q-12.0 32.6 -15.6 22.0" fill="none" stroke="#c3c3bb" stroke-width="0.9" stroke-linecap="round" opacity="1.0"/><path d="M-2.1 37.7Q-7.5 30.1 -8.9 20.9" fill="none" stroke="#c3c3bb" stroke-width="0.9" stroke-linecap="round" opacity="1.0"/><path d="M-2.1 37.7Q3.2 30.1 4.6 20.9" fill="none" stroke="#c3c3bb" stroke-width="0.9" stroke-linecap="round" opacity="1.0"/><path d="M-2.1 37.7Q7.7 32.6 11.3 22.0" fill="none" stroke="#c3c3bb" stroke-width="0.9" stroke-linecap="round" opacity="1.0"/><path d="M-2.1 37.7Q9.9 37.4 16.9 27.6" fill="none" stroke="#c3c3bb" stroke-width="0.9" stroke-linecap="round" opacity="1.0"/><path d="M-2.1 37.7Q-13.1 39.7 -20.1 31.0" fill="none" stroke="#c3c3bb" stroke-width="0.9" stroke-linecap="round" opacity="1.0"/><path d="M-2.1 37.7Q8.9 39.7 15.8 31.0" fill="none" stroke="#c3c3bb" stroke-width="0.9" stroke-linecap="round" opacity="1.0"/><ellipse cx="-2.1" cy="37.7" rx="2.6" ry="1.2" fill="#aaa9a2"/><path d="M-0.9 34.3Q2.7 24.4 3.5 14.0" fill="none" stroke="#b9b9b1" stroke-width="0.7" stroke-linecap="round" opacity="1.0"/><path d="M-0.9 28.7Q2.8 25.4 5.9 21.5" fill="none" stroke="#b9b9b1" stroke-width="0.7" stroke-linecap="round" opacity="1.0"/><path d="M-2.8 28.8Q1.0 24.7 4.5 20.4" fill="none" stroke="#b9b9b1" stroke-width="0.7" stroke-linecap="round" opacity="1.0"/><path d="M-2.7 24.6Q-0.8 19.6 -1.4 14.4" fill="none" stroke="#b9b9b1" stroke-width="0.7" stroke-linecap="round" opacity="1.0"/><path d="M-3.1 34.3Q0.0 29.1 2.4 23.5" fill="none" stroke="#b9b9b1" stroke-width="0.7" stroke-linecap="round" opacity="1.0"/><path d="M-2.9 35.6Q-6.6 32.3 -8.9 27.9" fill="none" stroke="#b9b9b1" stroke-width="0.7" stroke-linecap="round" opacity="1.0"/><path d="M-0.9 25.8Q7.5 19.1 15.5 12.1" fill="none" stroke="#b9b9b1" stroke-width="0.7" stroke-linecap="round" opacity="1.0"/><path d="M-1.6 36.7Q2.1 31.1 2.3 24.4" fill="none" stroke="#b9b9b1" stroke-width="0.7" stroke-linecap="round" opacity="1.0"/><path d="M-3.0 27.0Q0.3 20.8 5.9 16.5" fill="none" stroke="#b9b9b1" stroke-width="0.7" stroke-linecap="round" opacity="1.0"/><path d="M-3.5 31.0Q-7.8 25.7 -13.1 21.3" fill="none" stroke="#b9b9b1" stroke-width="0.7" stroke-linecap="round" opacity="1.0"/><path d="M-2.2 34.7Q-5.0 27.9 -6.2 20.8" fill="none" stroke="#b9b9b1" stroke-width="0.7" stroke-linecap="round" opacity="1.0"/><path d="M-0.9 21.9Q-3.8 12.7 -1.5 3.4" fill="none" stroke="#b9b9b1" stroke-width="0.7" stroke-linecap="round" opacity="1.0"/><path d="M-1.4 21.2Q2.6 11.9 7.9 3.4" fill="none" stroke="#b9b9b1" stroke-width="0.7" stroke-linecap="round" opacity="1.0"/><path d="M-3.0 21.7Q-0.9 16.8 -1.6 11.6" fill="none" stroke="#b9b9b1" stroke-width="0.7" stroke-linecap="round" opacity="1.0"/><path d="M-0.9 36.5Q-7.0 28.2 -11.4 18.9" fill="none" stroke="#b9b9b1" stroke-width="0.7" stroke-linecap="round" opacity="1.0"/><path d="M-3.2 33.9Q-4.1 25.1 -7.6 16.9" fill="none" stroke="#b9b9b1" stroke-width="0.7" stroke-linecap="round" opacity="1.0"/><path d="M-0.9 21.5Q2.3 11.1 10.1 3.4" fill="none" stroke="#b9b9b1" stroke-width="0.7" stroke-linecap="round" opacity="1.0"/><path d="M-2.6 36.3Q-2.8 26.6 -7.7 18.2" fill="none" stroke="#b9b9b1" stroke-width="0.7" stroke-linecap="round" opacity="1.0"/><path d="M-3.0 26.2Q-4.3 18.8 -1.9 11.6" fill="none" stroke="#b9b9b1" stroke-width="0.7" stroke-linecap="round" opacity="1.0"/><path d="M-3.0 37.7Q-10.8 31.3 -14.4 21.9" fill="none" stroke="#b9b9b1" stroke-width="0.7" stroke-linecap="round" opacity="1.0"/><path d="M-2.8 27.7Q3.9 22.8 10.1 17.1" fill="none" stroke="#b9b9b1" stroke-width="0.7" stroke-linecap="round" opacity="1.0"/><path d="M-3.3 28.0Q2.8 22.3 5.5 14.4" fill="none" stroke="#b9b9b1" stroke-width="0.7" stroke-linecap="round" opacity="1.0"/><path d="M-3.1 35.0Q-8.5 28.8 -15.3 24.2" fill="none" stroke="#b9b9b1" stroke-width="0.7" stroke-linecap="round" opacity="1.0"/><path d="M-3.2 34.2Q3.2 27.6 10.0 21.6" fill="none" stroke="#b9b9b1" stroke-width="0.7" stroke-linecap="round" opacity="1.0"/><path d="M-2.3 25.9Q-5.9 15.2 -14.8 8.4" fill="none" stroke="#b9b9b1" stroke-width="0.7" stroke-linecap="round" opacity="1.0"/><path d="M-2.2 28.5Q6.0 20.0 11.5 9.6" fill="none" stroke="#b9b9b1" stroke-width="0.7" stroke-linecap="round" opacity="1.0"/><path d="M-3.1 27.7Q-3.9 20.6 -3.6 13.4" fill="none" stroke="#b9b9b1" stroke-width="0.7" stroke-linecap="round" opacity="1.0"/><path d="M-2.1 31.4Q5.9 23.5 15.3 17.2" fill="none" stroke="#b9b9b1" stroke-width="0.7" stroke-linecap="round" opacity="1.0"/><path d="M-1.1 34.1Q-6.0 29.5 -10.1 24.1" fill="none" stroke="#b9b9b1" stroke-width="0.7" stroke-linecap="round" opacity="1.0"/><path d="M-1.7 32.6Q4.8 24.2 8.4 14.3" fill="none" stroke="#b9b9b1" stroke-width="0.7" stroke-linecap="round" opacity="1.0"/><path d="M-2.2 25.6Q-3.0 15.4 -6.9 6.0" fill="none" stroke="#b9b9b1" stroke-width="0.7" stroke-linecap="round" opacity="1.0"/><path d="M-1.7 36.8Q0.9 30.2 2.9 23.4" fill="none" stroke="#b9b9b1" stroke-width="0.7" stroke-linecap="round" opacity="1.0"/><path d="M-1.7 25.1Q-8.3 19.9 -14.8 14.4" fill="none" stroke="#b9b9b1" stroke-width="0.7" stroke-linecap="round" opacity="1.0"/><path d="M-2.5 34.3Q3.2 26.7 7.5 18.3" fill="none" stroke="#b9b9b1" stroke-width="0.7" stroke-linecap="round" opacity="1.0"/><circle cx="1.6" cy="28.6" r="1.1" fill="#a9a9a2"/><circle cx="-4.5" cy="28.9" r="1.1" fill="#a9a9a2"/><circle cx="3.7" cy="25.8" r="1.1" fill="#a9a9a2"/><circle cx="5.3" cy="31.2" r="1.1" fill="#a9a9a2"/><circle cx="-1.8" cy="22.6" r="1.1" fill="#a9a9a2"/><circle cx="-7.4" cy="28.8" r="1.1" fill="#a9a9a2"/><circle cx="4.7" cy="21.6" r="1.1" fill="#a9a9a2"/><circle cx="0.9" cy="26.5" r="1.1" fill="#a9a9a2"/><circle cx="1.5" cy="15.4" r="1.1" fill="#a9a9a2"/><circle cx="2.3" cy="23.7" r="1.1" fill="#a9a9a2"/><circle cx="0.5" cy="20.4" r="1.1" fill="#a9a9a2"/><circle cx="-0.2" cy="27.6" r="1.1" fill="#a9a9a2"/><circle cx="0.0" cy="26.5" r="1.1" fill="#a9a9a2"/><circle cx="-9.5" cy="15.2" r="1.1" fill="#a9a9a2"/></svg></div>
<div class="nm" style="left:1071.0px">Fern</div>
<div class="sp" style="left:1071.0px;top:122px">(<i>C. braunii</i>)</div>
<div class="im" style="left:1071.0px"><svg width="136" height="120" viewBox="-68.0 0 136 120"><path d="M-5.1 116.2Q-26.0 106.4 -40.3 88.2" fill="none" stroke="#a6a7a2" stroke-width="0.7" stroke-linecap="round" opacity="1.0"/><path d="M-10.0 113.7Q-8.1 109.9 -10.5 106.5Q-12.4 110.2 -10.0 113.7Z" fill="#cbccc7" stroke="none" stroke-width="0.5" opacity="1"/><path d="M-10.0 113.7Q-14.2 113.6 -16.3 117.3Q-12.1 117.4 -10.0 113.7Z" fill="#cbccc7" stroke="none" stroke-width="0.5" opacity="1"/><path d="M-12.8 112.2Q-9.6 106.5 -13.2 101.1Q-16.3 106.8 -12.8 112.2Z" fill="#cbccc7" stroke="none" stroke-width="0.5" opacity="1"/><path d="M-12.8 112.2Q-19.2 111.8 -22.6 117.4Q-16.1 117.7 -12.8 112.2Z" fill="#cbccc7" stroke="none" stroke-width="0.5" opacity="1"/><path d="M-15.5 110.5Q-11.3 103.5 -15.5 96.4Q-19.7 103.5 -15.5 110.5Z" fill="#cbccc7" stroke="none" stroke-width="0.5" opacity="1"/><path d="M-15.5 110.5Q-23.7 109.8 -28.2 116.7Q-20.0 117.4 -15.5 110.5Z" fill="#cbccc7" stroke="none" stroke-width="0.5" opacity="1"/><path d="M-18.2 108.8Q-14.0 102.4 -17.7 95.8Q-21.9 102.2 -18.2 108.8Z" fill="#cbccc7" stroke="none" stroke-width="0.5" opacity="1"/><path d="M-18.2 108.8Q-25.7 107.9 -30.0 114.1Q-22.5 115.0 -18.2 108.8Z" fill="#cbccc7" stroke="none" stroke-width="0.5" opacity="1"/><path d="M-20.8 107.0Q-16.8 101.3 -20.0 95.1Q-23.9 100.8 -20.8 107.0Z" fill="#cbccc7" stroke="none" stroke-width="0.5" opacity="1"/><path d="M-20.8 107.0Q-27.6 106.0 -31.8 111.5Q-24.9 112.6 -20.8 107.0Z" fill="#cbccc7" stroke="none" stroke-width="0.5" opacity="1"/><path d="M-23.3 105.1Q-19.5 100.1 -22.2 94.4Q-26.0 99.4 -23.3 105.1Z" fill="#cbccc7" stroke="none" stroke-width="0.5" opacity="1"/><path d="M-23.3 105.1Q-29.5 104.0 -33.4 108.9Q-27.2 110.0 -23.3 105.1Z" fill="#cbccc7" stroke="none" stroke-width="0.5" opacity="1"/><path d="M-25.7 103.2Q-22.2 98.8 -24.5 93.6Q-28.0 98.0 -25.7 103.2Z" fill="#cbccc7" stroke="none" stroke-width="0.5" opacity="1"/><path d="M-25.7 103.2Q-31.2 101.9 -34.9 106.2Q-29.4 107.4 -25.7 103.2Z" fill="#cbccc7" stroke="none" stroke-width="0.5" opacity="1"/><path d="M-28.1 101.1Q-24.9 97.4 -26.7 92.8Q-29.9 96.5 -28.1 101.1Z" fill="#cbccc7" stroke="none" stroke-width="0.5" opacity="1"/><path d="M-28.1 101.1Q-32.9 99.9 -36.2 103.5Q-31.5 104.7 -28.1 101.1Z" fill="#cbccc7" stroke="none" stroke-width="0.5" opacity="1"/><path d="M-30.5 99.0Q-27.6 95.9 -29.0 91.9Q-31.9 95.0 -30.5 99.0Z" fill="#cbccc7" stroke="none" stroke-width="0.5" opacity="1"/><path d="M-30.5 99.0Q-34.5 97.8 -37.4 100.8Q-33.4 102.0 -30.5 99.0Z" fill="#cbccc7" stroke="none" stroke-width="0.5" opacity="1"/><path d="M-32.7 96.8Q-30.3 94.3 -31.4 91.0Q-33.8 93.5 -32.7 96.8Z" fill="#cbccc7" stroke="none" stroke-width="0.5" opacity="1"/><path d="M-32.7 96.8Q-36.0 95.7 -38.5 98.1Q-35.2 99.1 -32.7 96.8Z" fill="#cbccc7" stroke="none" stroke-width="0.5" opacity="1"/><path d="M-34.9 94.5Q-33.0 92.6 -33.7 90.1Q-35.6 91.9 -34.9 94.5Z" fill="#cbccc7" stroke="none" stroke-width="0.5" opacity="1"/><path d="M-34.9 94.5Q-37.4 93.5 -39.4 95.3Q-36.9 96.2 -34.9 94.5Z" fill="#cbccc7" stroke="none" stroke-width="0.5" opacity="1"/><path d="M-37.0 92.1Q-35.7 90.9 -36.1 89.1Q-37.5 90.3 -37.0 92.1Z" fill="#cbccc7" stroke="none" stroke-width="0.5" opacity="1"/><path d="M-37.0 92.1Q-38.7 91.4 -40.1 92.6Q-38.4 93.2 -37.0 92.1Z" fill="#cbccc7" stroke="none" stroke-width="0.5" opacity="1"/><path d="M-39.1 89.6Q-38.5 89.1 -38.7 88.3Q-39.3 88.8 -39.1 89.6Z" fill="#cbccc7" stroke="none" stroke-width="0.5" opacity="1"/><path d="M-39.1 89.6Q-39.8 89.3 -40.5 89.8Q-39.7 90.1 -39.1 89.6Z" fill="#cbccc7" stroke="none" stroke-width="0.5" opacity="1"/><path d="M2.8 116.2Q24.6 98.5 36.0 72.9" fill="none" stroke="#a6a7a2" stroke-width="0.7" stroke-linecap="round" opacity="1.0"/><path d="M7.9 111.8Q10.8 114.9 14.9 113.8Q12.0 110.7 7.9 111.8Z" fill="#cbccc7" stroke="none" stroke-width="0.5" opacity="1"/><path d="M7.9 111.8Q9.4 107.9 6.6 104.7Q5.1 108.6 7.9 111.8Z" fill="#cbccc7" stroke="none" stroke-width="0.5" opacity="1"/><path d="M10.7 109.2Q15.3 113.8 21.4 111.9Q16.9 107.3 10.7 109.2Z" fill="#cbccc7" stroke="none" stroke-width="0.5" opacity="1"/><path d="M10.7 109.2Q12.8 103.1 8.4 98.4Q6.3 104.5 10.7 109.2Z" fill="#cbccc7" stroke="none" stroke-width="0.5" opacity="1"/><path d="M13.4 106.5Q19.4 112.1 27.2 109.4Q21.2 103.8 13.4 106.5Z" fill="#cbccc7" stroke="none" stroke-width="0.5" opacity="1"/><path d="M13.4 106.5Q15.8 98.6 10.0 92.8Q7.6 100.7 13.4 106.5Z" fill="#cbccc7" stroke="none" stroke-width="0.5" opacity="1"/><path d="M16.0 103.7Q21.8 108.7 28.9 106.0Q23.1 101.0 16.0 103.7Z" fill="#cbccc7" stroke="none" stroke-width="0.5" opacity="1"/><path d="M16.0 103.7Q18.0 96.3 12.5 91.2Q10.5 98.5 16.0 103.7Z" fill="#cbccc7" stroke="none" stroke-width="0.5" opacity="1"/><path d="M18.6 100.8Q23.9 105.2 30.4 102.5Q25.0 98.1 18.6 100.8Z" fill="#cbccc7" stroke="none" stroke-width="0.5" opacity="1"/><path d="M18.6 100.8Q20.1 94.0 14.9 89.4Q13.3 96.2 18.6 100.8Z" fill="#cbccc7" stroke="none" stroke-width="0.5" opacity="1"/><path d="M21.0 97.8Q26.0 101.7 31.7 99.0Q26.7 95.2 21.0 97.8Z" fill="#cbccc7" stroke="none" stroke-width="0.5" opacity="1"/><path d="M21.0 97.8Q22.2 91.7 17.3 87.7Q16.1 93.9 21.0 97.8Z" fill="#cbccc7" stroke="none" stroke-width="0.5" opacity="1"/><path d="M23.3 94.8Q27.9 98.1 32.9 95.5Q28.3 92.3 23.3 94.8Z" fill="#cbccc7" stroke="none" stroke-width="0.5" opacity="1"/><path d="M23.3 94.8Q24.2 89.3 19.7 85.8Q18.8 91.4 23.3 94.8Z" fill="#cbccc7" stroke="none" stroke-width="0.5" opacity="1"/><path d="M25.5 91.7Q29.6 94.4 33.9 92.1Q29.8 89.3 25.5 91.7Z" fill="#cbccc7" stroke="none" stroke-width="0.5" opacity="1"/><path d="M25.5 91.7Q26.1 86.8 22.1 84.0Q21.5 88.8 25.5 91.7Z" fill="#cbccc7" stroke="none" stroke-width="0.5" opacity="1"/><path d="M27.6 88.5Q31.2 90.7 34.8 88.6Q31.2 86.4 27.6 88.5Z" fill="#cbccc7" stroke="none" stroke-width="0.5" opacity="1"/><path d="M27.6 88.5Q28.0 84.3 24.5 82.0Q24.1 86.2 27.6 88.5Z" fill="#cbccc7" stroke="none" stroke-width="0.5" opacity="1"/><path d="M29.6 85.2Q32.6 86.9 35.5 85.1Q32.5 83.4 29.6 85.2Z" fill="#cbccc7" stroke="none" stroke-width="0.5" opacity="1"/><path d="M29.6 85.2Q29.8 81.8 26.9 80.0Q26.7 83.4 29.6 85.2Z" fill="#cbccc7" stroke="none" stroke-width="0.5" opacity="1"/><path d="M31.5 81.9Q33.9 83.1 36.1 81.6Q33.7 80.4 31.5 81.9Z" fill="#cbccc7" stroke="none" stroke-width="0.5" opacity="1"/><path d="M31.5 81.9Q31.6 79.2 29.3 77.9Q29.2 80.6 31.5 81.9Z" fill="#cbccc7" stroke="none" stroke-width="0.5" opacity="1"/><path d="M33.3 78.5Q35.0 79.2 36.4 78.2Q34.8 77.4 33.3 78.5Z" fill="#cbccc7" stroke="none" stroke-width="0.5" opacity="1"/><path d="M33.3 78.5Q33.3 76.7 31.8 75.8Q31.8 77.6 33.3 78.5Z" fill="#cbccc7" stroke="none" stroke-width="0.5" opacity="1"/><path d="M35.0 75.0Q35.8 75.3 36.4 74.8Q35.7 74.5 35.0 75.0Z" fill="#cbccc7" stroke="none" stroke-width="0.5" opacity="1"/><path d="M35.0 75.0Q35.0 74.2 34.3 73.8Q34.3 74.6 35.0 75.0Z" fill="#cbccc7" stroke="none" stroke-width="0.5" opacity="1"/><path d="M-6.2 112.8Q-34.5 81.6 -40.9 40.0" fill="none" stroke="#a6a7a2" stroke-width="0.7" stroke-linecap="round" opacity="1.0"/><path d="M-12.7 105.2Q-7.7 101.1 -9.0 94.9Q-13.9 98.9 -12.7 105.2Z" fill="#cbccc7" stroke="none" stroke-width="0.5" opacity="1"/><path d="M-12.7 105.2Q-18.4 102.5 -23.5 106.4Q-17.7 109.1 -12.7 105.2Z" fill="#cbccc7" stroke="none" stroke-width="0.5" opacity="1"/><path d="M-15.2 101.9Q-8.2 96.5 -9.7 87.9Q-16.6 93.3 -15.2 101.9Z" fill="#cbccc7" stroke="none" stroke-width="0.5" opacity="1"/><path d="M-15.2 101.9Q-23.0 98.0 -30.2 103.2Q-22.3 107.0 -15.2 101.9Z" fill="#cbccc7" stroke="none" stroke-width="0.5" opacity="1"/><path d="M-17.6 98.6Q-8.7 92.2 -10.3 81.3Q-19.1 87.8 -17.6 98.6Z" fill="#cbccc7" stroke="none" stroke-width="0.5" opacity="1"/><path d="M-17.6 98.6Q-27.2 93.5 -36.3 99.6Q-26.6 104.7 -17.6 98.6Z" fill="#cbccc7" stroke="none" stroke-width="0.5" opacity="1"/><path d="M-19.9 95.2Q-9.8 88.3 -11.1 76.2Q-21.2 83.1 -19.9 95.2Z" fill="#cbccc7" stroke="none" stroke-width="0.5" opacity="1"/><path d="M-19.9 95.2Q-30.5 89.2 -40.8 95.7Q-30.2 101.7 -19.9 95.2Z" fill="#cbccc7" stroke="none" stroke-width="0.5" opacity="1"/><path d="M-22.1 91.8Q-12.4 85.6 -13.3 74.1Q-23.0 80.3 -22.1 91.8Z" fill="#cbccc7" stroke="none" stroke-width="0.5" opacity="1"/><path d="M-22.1 91.8Q-31.9 85.8 -41.8 91.7Q-32.0 97.7 -22.1 91.8Z" fill="#cbccc7" stroke="none" stroke-width="0.5" opacity="1"/><path d="M-24.1 88.3Q-14.8 82.7 -15.4 71.9Q-24.7 77.5 -24.1 88.3Z" fill="#cbccc7" stroke="none" stroke-width="0.5" opacity="1"/><path d="M-24.1 88.3Q-33.2 82.4 -42.7 87.6Q-33.6 93.5 -24.1 88.3Z" fill="#cbccc7" stroke="none" stroke-width="0.5" opacity="1"/><path d="M-26.1 84.8Q-17.2 79.8 -17.5 69.7Q-26.3 74.6 -26.1 84.8Z" fill="#cbccc7" stroke="none" stroke-width="0.5" opacity="1"/><path d="M-26.1 84.8Q-34.4 79.0 -43.5 83.6Q-35.1 89.4 -26.1 84.8Z" fill="#cbccc7" stroke="none" stroke-width="0.5" opacity="1"/><path d="M-28.0 81.2Q-19.6 76.8 -19.5 67.4Q-27.9 71.7 -28.0 81.2Z" fill="#cbccc7" stroke="none" stroke-width="0.5" opacity="1"/><path d="M-28.0 81.2Q-35.6 75.6 -44.1 79.6Q-36.5 85.2 -28.0 81.2Z" fill="#cbccc7" stroke="none" stroke-width="0.5" opacity="1"/><path d="M-29.7 77.5Q-21.9 73.7 -21.5 65.0Q-29.4 68.8 -29.7 77.5Z" fill="#cbccc7" stroke="none" stroke-width="0.5" opacity="1"/><path d="M-29.7 77.5Q-36.6 72.2 -44.5 75.7Q-37.7 81.1 -29.7 77.5Z" fill="#cbccc7" stroke="none" stroke-width="0.5" opacity="1"/><path d="M-31.3 73.9Q-24.1 70.6 -23.5 62.6Q-30.8 65.9 -31.3 73.9Z" fill="#cbccc7" stroke="none" stroke-width="0.5" opacity="1"/><path d="M-31.3 73.9Q-37.5 68.7 -44.9 71.7Q-38.7 76.9 -31.3 73.9Z" fill="#cbccc7" stroke="none" stroke-width="0.5" opacity="1"/><path d="M-32.9 70.1Q-26.2 67.4 -25.5 60.2Q-32.2 62.9 -32.9 70.1Z" fill="#cbccc7" stroke="none" stroke-width="0.5" opacity="1"/><path d="M-32.9 70.1Q-38.3 65.3 -45.1 67.8Q-39.7 72.6 -32.9 70.1Z" fill="#cbccc7" stroke="none" stroke-width="0.5" opacity="1"/><path d="M-34.3 66.3Q-28.3 64.0 -27.4 57.6Q-33.5 59.9 -34.3 66.3Z" fill="#cbccc7" stroke="none" stroke-width="0.5" opacity="1"/><path d="M-34.3 66.3Q-39.0 61.9 -45.1 64.0Q-40.4 68.4 -34.3 66.3Z" fill="#cbccc7" stroke="none" stroke-width="0.5" opacity="1"/><path d="M-35.6 62.5Q-30.2 60.6 -29.4 55.0Q-34.7 56.9 -35.6 62.5Z" fill="#cbccc7" stroke="none" stroke-width="0.5" opacity="1"/><path d="M-35.6 62.5Q-39.6 58.5 -45.0 60.1Q-41.0 64.1 -35.6 62.5Z" fill="#cbccc7" stroke="none" stroke-width="0.5" opacity="1"/><path d="M-36.8 58.6Q-32.2 57.1 -31.3 52.4Q-35.9 53.8 -36.8 58.6Z" fill="#cbccc7" stroke="none" stroke-width="0.5" opacity="1"/><path d="M-36.8 58.6Q-40.1 55.0 -44.8 56.3Q-41.5 59.8 -36.8 58.6Z" fill="#cbccc7" stroke="none" stroke-width="0.5" opacity="1"/><path d="M-37.9 54.6Q-34.1 53.5 -33.2 49.7Q-37.0 50.7 -37.9 54.6Z" fill="#cbccc7" stroke="none" stroke-width="0.5" opacity="1"/><path d="M-37.9 54.6Q-40.5 51.6 -44.4 52.6Q-41.8 55.6 -37.9 54.6Z" fill="#cbccc7" stroke="none" stroke-width="0.5" opacity="1"/><path d="M-38.9 50.6Q-35.9 49.9 -35.2 46.9Q-38.1 47.6 -38.9 50.6Z" fill="#cbccc7" stroke="none" stroke-width="0.5" opacity="1"/><path d="M-38.9 50.6Q-40.9 48.3 -43.9 48.9Q-41.9 51.3 -38.9 50.6Z" fill="#cbccc7" stroke="none" stroke-width="0.5" opacity="1"/><path d="M-39.8 46.6Q-37.7 46.1 -37.2 44.1Q-39.2 44.6 -39.8 46.6Z" fill="#cbccc7" stroke="none" stroke-width="0.5" opacity="1"/><path d="M-39.8 46.6Q-41.1 44.9 -43.1 45.3Q-41.8 46.9 -39.8 46.6Z" fill="#cbccc7" stroke="none" stroke-width="0.5" opacity="1"/><path d="M-40.5 42.5Q-39.6 42.3 -39.3 41.4Q-40.2 41.5 -40.5 42.5Z" fill="#cbccc7" stroke="none" stroke-width="0.5" opacity="1"/><path d="M-40.5 42.5Q-41.1 41.7 -42.0 41.8Q-41.5 42.6 -40.5 42.5Z" fill="#cbccc7" stroke="none" stroke-width="0.5" opacity="1"/><path d="M1.7 112.8Q27.6 74.0 33.1 27.6" fill="none" stroke="#a6a7a2" stroke-width="0.7" stroke-linecap="round" opacity="1.0"/><path d="M7.6 103.4Q12.9 106.4 18.1 103.1Q12.8 100.1 7.6 103.4Z" fill="#cbccc7" stroke="none" stroke-width="0.5" opacity="1"/><path d="M7.6 103.4Q8.0 97.3 2.8 94.1Q2.4 100.2 7.6 103.4Z" fill="#cbccc7" stroke="none" stroke-width="0.5" opacity="1"/><path d="M9.9 99.4Q17.3 103.4 24.3 98.7Q16.9 94.7 9.9 99.4Z" fill="#cbccc7" stroke="none" stroke-width="0.5" opacity="1"/><path d="M9.9 99.4Q10.2 91.0 2.9 86.8Q2.6 95.2 9.9 99.4Z" fill="#cbccc7" stroke="none" stroke-width="0.5" opacity="1"/><path d="M12.1 95.4Q21.4 100.1 30.0 94.1Q20.7 89.4 12.1 95.4Z" fill="#cbccc7" stroke="none" stroke-width="0.5" opacity="1"/><path d="M12.1 95.4Q12.2 84.9 3.1 79.8Q2.9 90.3 12.1 95.4Z" fill="#cbccc7" stroke="none" stroke-width="0.5" opacity="1"/><path d="M14.2 91.3Q24.7 96.3 34.1 89.4Q23.6 84.4 14.2 91.3Z" fill="#cbccc7" stroke="none" stroke-width="0.5" opacity="1"/><path d="M14.2 91.3Q14.1 79.6 3.7 74.2Q3.8 85.9 14.2 91.3Z" fill="#cbccc7" stroke="none" stroke-width="0.5" opacity="1"/><path d="M16.2 87.2Q26.2 91.7 35.0 85.0Q24.9 80.4 16.2 87.2Z" fill="#cbccc7" stroke="none" stroke-width="0.5" opacity="1"/><path d="M16.2 87.2Q15.8 76.2 5.9 71.3Q6.3 82.3 16.2 87.2Z" fill="#cbccc7" stroke="none" stroke-width="0.5" opacity="1"/><path d="M18.1 83.1Q27.6 87.1 35.7 80.5Q26.1 76.5 18.1 83.1Z" fill="#cbccc7" stroke="none" stroke-width="0.5" opacity="1"/><path d="M18.1 83.1Q17.5 72.7 8.0 68.3Q8.6 78.7 18.1 83.1Z" fill="#cbccc7" stroke="none" stroke-width="0.5" opacity="1"/><path d="M19.8 78.9Q28.9 82.4 36.3 76.1Q27.2 72.6 19.8 78.9Z" fill="#cbccc7" stroke="none" stroke-width="0.5" opacity="1"/><path d="M19.8 78.9Q19.1 69.2 10.1 65.3Q10.9 75.0 19.8 78.9Z" fill="#cbccc7" stroke="none" stroke-width="0.5" opacity="1"/><path d="M21.5 74.7Q30.0 77.8 36.8 71.7Q28.3 68.6 21.5 74.7Z" fill="#cbccc7" stroke="none" stroke-width="0.5" opacity="1"/><path d="M21.5 74.7Q20.6 65.7 12.2 62.3Q13.1 71.3 21.5 74.7Z" fill="#cbccc7" stroke="none" stroke-width="0.5" opacity="1"/><path d="M23.1 70.4Q31.0 73.1 37.1 67.3Q29.2 64.7 23.1 70.4Z" fill="#cbccc7" stroke="none" stroke-width="0.5" opacity="1"/><path d="M23.1 70.4Q22.0 62.1 14.2 59.2Q15.3 67.5 23.1 70.4Z" fill="#cbccc7" stroke="none" stroke-width="0.5" opacity="1"/><path d="M24.6 66.1Q31.9 68.4 37.3 63.0Q30.0 60.7 24.6 66.1Z" fill="#cbccc7" stroke="none" stroke-width="0.5" opacity="1"/><path d="M24.6 66.1Q23.4 58.6 16.2 56.0Q17.4 63.6 24.6 66.1Z" fill="#cbccc7" stroke="none" stroke-width="0.5" opacity="1"/><path d="M26.0 61.8Q32.6 63.7 37.4 58.7Q30.8 56.8 26.0 61.8Z" fill="#cbccc7" stroke="none" stroke-width="0.5" opacity="1"/><path d="M26.0 61.8Q24.7 55.0 18.1 52.8Q19.4 59.6 26.0 61.8Z" fill="#cbccc7" stroke="none" stroke-width="0.5" opacity="1"/><path d="M27.2 57.4Q33.2 59.0 37.4 54.4Q31.4 52.9 27.2 57.4Z" fill="#cbccc7" stroke="none" stroke-width="0.5" opacity="1"/><path d="M27.2 57.4Q26.0 51.3 20.1 49.6Q21.3 55.6 27.2 57.4Z" fill="#cbccc7" stroke="none" stroke-width="0.5" opacity="1"/><path d="M28.4 53.0Q33.7 54.2 37.3 50.2Q32.0 48.9 28.4 53.0Z" fill="#cbccc7" stroke="none" stroke-width="0.5" opacity="1"/><path d="M28.4 53.0Q27.2 47.7 21.9 46.3Q23.2 51.6 28.4 53.0Z" fill="#cbccc7" stroke="none" stroke-width="0.5" opacity="1"/><path d="M29.5 48.6Q34.0 49.5 37.0 46.0Q32.4 45.0 29.5 48.6Z" fill="#cbccc7" stroke="none" stroke-width="0.5" opacity="1"/><path d="M29.5 48.6Q28.3 44.1 23.8 43.0Q25.0 47.5 29.5 48.6Z" fill="#cbccc7" stroke="none" stroke-width="0.5" opacity="1"/><path d="M30.4 44.1Q34.2 44.8 36.6 41.8Q32.8 41.1 30.4 44.1Z" fill="#cbccc7" stroke="none" stroke-width="0.5" opacity="1"/><path d="M30.4 44.1Q29.4 40.4 25.7 39.6Q26.7 43.3 30.4 44.1Z" fill="#cbccc7" stroke="none" stroke-width="0.5" opacity="1"/><path d="M31.3 39.6Q34.2 40.0 36.0 37.7Q33.1 37.2 31.3 39.6Z" fill="#cbccc7" stroke="none" stroke-width="0.5" opacity="1"/><path d="M31.3 39.6Q30.4 36.7 27.6 36.2Q28.4 39.0 31.3 39.6Z" fill="#cbccc7" stroke="none" stroke-width="0.5" opacity="1"/><path d="M32.1 35.0Q34.0 35.3 35.2 33.7Q33.2 33.4 32.1 35.0Z" fill="#cbccc7" stroke="none" stroke-width="0.5" opacity="1"/><path d="M32.1 35.0Q31.4 33.1 29.5 32.8Q30.1 34.7 32.1 35.0Z" fill="#cbccc7" stroke="none" stroke-width="0.5" opacity="1"/><path d="M32.7 30.4Q33.6 30.5 34.1 29.8Q33.2 29.7 32.7 30.4Z" fill="#cbccc7" stroke="none" stroke-width="0.5" opacity="1"/><path d="M32.7 30.4Q32.4 29.6 31.5 29.4Q31.8 30.3 32.7 30.4Z" fill="#cbccc7" stroke="none" stroke-width="0.5" opacity="1"/><path d="M-2.8 116.2Q-1.5 62.7 6.2 9.7" fill="none" stroke="#a6a7a2" stroke-width="0.7" stroke-linecap="round" opacity="1.0"/><path d="M-2.4 103.4Q4.8 103.5 8.3 97.2Q1.1 97.1 -2.4 103.4Z" fill="#cbccc7" stroke="none" stroke-width="0.5" opacity="1"/><path d="M-2.4 103.4Q-5.4 96.9 -12.6 96.4Q-9.6 103.0 -2.4 103.4Z" fill="#cbccc7" stroke="none" stroke-width="0.5" opacity="1"/><path d="M-2.2 98.6Q7.4 98.8 12.2 90.4Q2.5 90.2 -2.2 98.6Z" fill="#cbccc7" stroke="none" stroke-width="0.5" opacity="1"/><path d="M-2.2 98.6Q-6.2 89.8 -15.8 89.2Q-11.8 98.0 -2.2 98.6Z" fill="#cbccc7" stroke="none" stroke-width="0.5" opacity="1"/><path d="M-2.0 93.7Q9.8 94.1 15.7 83.8Q3.9 83.5 -2.0 93.7Z" fill="#cbccc7" stroke="none" stroke-width="0.5" opacity="1"/><path d="M-2.0 93.7Q-6.8 82.9 -18.7 82.1Q-13.8 92.9 -2.0 93.7Z" fill="#cbccc7" stroke="none" stroke-width="0.5" opacity="1"/><path d="M-1.7 88.9Q12.1 89.4 19.0 77.5Q5.2 77.0 -1.7 88.9Z" fill="#cbccc7" stroke="none" stroke-width="0.5" opacity="1"/><path d="M-1.7 88.9Q-7.3 76.3 -21.1 75.3Q-15.5 87.9 -1.7 88.9Z" fill="#cbccc7" stroke="none" stroke-width="0.5" opacity="1"/><path d="M-1.5 84.1Q11.8 84.7 18.5 73.3Q5.3 72.7 -1.5 84.1Z" fill="#cbccc7" stroke="none" stroke-width="0.5" opacity="1"/><path d="M-1.5 84.1Q-6.8 72.0 -20.0 70.9Q-14.7 83.1 -1.5 84.1Z" fill="#cbccc7" stroke="none" stroke-width="0.5" opacity="1"/><path d="M-1.2 79.3Q11.4 79.9 17.8 69.1Q5.3 68.5 -1.2 79.3Z" fill="#cbccc7" stroke="none" stroke-width="0.5" opacity="1"/><path d="M-1.2 79.3Q-6.1 67.8 -18.7 66.7Q-13.7 78.3 -1.2 79.3Z" fill="#cbccc7" stroke="none" stroke-width="0.5" opacity="1"/><path d="M-0.8 74.5Q11.0 75.2 17.2 65.0Q5.3 64.4 -0.8 74.5Z" fill="#cbccc7" stroke="none" stroke-width="0.5" opacity="1"/><path d="M-0.8 74.5Q-5.5 63.6 -17.3 62.5Q-12.7 73.5 -0.8 74.5Z" fill="#cbccc7" stroke="none" stroke-width="0.5" opacity="1"/><path d="M-0.5 69.7Q10.7 70.4 16.5 60.8Q5.3 60.2 -0.5 69.7Z" fill="#cbccc7" stroke="none" stroke-width="0.5" opacity="1"/><path d="M-0.5 69.7Q-4.8 59.4 -15.9 58.4Q-11.6 68.7 -0.5 69.7Z" fill="#cbccc7" stroke="none" stroke-width="0.5" opacity="1"/><path d="M-0.1 64.9Q10.3 65.6 15.8 56.7Q5.4 56.0 -0.1 64.9Z" fill="#cbccc7" stroke="none" stroke-width="0.5" opacity="1"/><path d="M-0.1 64.9Q-4.1 55.3 -14.5 54.2Q-10.5 63.9 -0.1 64.9Z" fill="#cbccc7" stroke="none" stroke-width="0.5" opacity="1"/><path d="M0.3 60.1Q10.0 60.8 15.2 52.6Q5.5 51.9 0.3 60.1Z" fill="#cbccc7" stroke="none" stroke-width="0.5" opacity="1"/><path d="M0.3 60.1Q-3.4 51.1 -13.0 50.1Q-9.4 59.1 0.3 60.1Z" fill="#cbccc7" stroke="none" stroke-width="0.5" opacity="1"/><path d="M0.7 55.4Q9.7 56.0 14.5 48.4Q5.5 47.8 0.7 55.4Z" fill="#cbccc7" stroke="none" stroke-width="0.5" opacity="1"/><path d="M0.7 55.4Q-2.6 47.0 -11.5 46.0Q-8.2 54.4 0.7 55.4Z" fill="#cbccc7" stroke="none" stroke-width="0.5" opacity="1"/><path d="M1.2 50.6Q9.4 51.2 13.8 44.3Q5.6 43.6 1.2 50.6Z" fill="#cbccc7" stroke="none" stroke-width="0.5" opacity="1"/><path d="M1.2 50.6Q-1.8 42.9 -10.0 42.0Q-7.0 49.6 1.2 50.6Z" fill="#cbccc7" stroke="none" stroke-width="0.5" opacity="1"/><path d="M1.7 45.8Q9.1 46.4 13.1 40.2Q5.7 39.5 1.7 45.8Z" fill="#cbccc7" stroke="none" stroke-width="0.5" opacity="1"/><path d="M1.7 45.8Q-1.0 38.8 -8.4 37.9Q-5.7 44.9 1.7 45.8Z" fill="#cbccc7" stroke="none" stroke-width="0.5" opacity="1"/><path d="M2.2 41.0Q8.8 41.6 12.4 36.0Q5.8 35.4 2.2 41.0Z" fill="#cbccc7" stroke="none" stroke-width="0.5" opacity="1"/><path d="M2.2 41.0Q-0.2 34.8 -6.8 33.9Q-4.4 40.2 2.2 41.0Z" fill="#cbccc7" stroke="none" stroke-width="0.5" opacity="1"/><path d="M2.7 36.2Q8.5 36.8 11.7 31.9Q5.9 31.4 2.7 36.2Z" fill="#cbccc7" stroke="none" stroke-width="0.5" opacity="1"/><path d="M2.7 36.2Q0.7 30.8 -5.1 30.0Q-3.1 35.5 2.7 36.2Z" fill="#cbccc7" stroke="none" stroke-width="0.5" opacity="1"/><path d="M3.3 31.4Q8.2 31.9 11.0 27.8Q6.0 27.3 3.3 31.4Z" fill="#cbccc7" stroke="none" stroke-width="0.5" opacity="1"/><path d="M3.3 31.4Q1.6 26.8 -3.4 26.1Q-1.6 30.8 3.3 31.4Z" fill="#cbccc7" stroke="none" stroke-width="0.5" opacity="1"/><path d="M3.9 26.7Q7.9 27.1 10.2 23.7Q6.2 23.3 3.9 26.7Z" fill="#cbccc7" stroke="none" stroke-width="0.5" opacity="1"/><path d="M3.9 26.7Q2.5 22.8 -1.6 22.3Q-0.2 26.1 3.9 26.7Z" fill="#cbccc7" stroke="none" stroke-width="0.5" opacity="1"/><path d="M4.5 21.9Q7.6 22.2 9.4 19.7Q6.2 19.3 4.5 21.9Z" fill="#cbccc7" stroke="none" stroke-width="0.5" opacity="1"/><path d="M4.5 21.9Q3.4 18.9 0.3 18.5Q1.4 21.4 4.5 21.9Z" fill="#cbccc7" stroke="none" stroke-width="0.5" opacity="1"/><path d="M5.1 17.1Q7.2 17.4 8.4 15.6Q6.3 15.4 5.1 17.1Z" fill="#cbccc7" stroke="none" stroke-width="0.5" opacity="1"/><path d="M5.1 17.1Q4.4 15.1 2.3 14.8Q3.0 16.8 5.1 17.1Z" fill="#cbccc7" stroke="none" stroke-width="0.5" opacity="1"/><path d="M5.8 12.3Q6.7 12.5 7.2 11.7Q6.3 11.6 5.8 12.3Z" fill="#cbccc7" stroke="none" stroke-width="0.5" opacity="1"/><path d="M5.8 12.3Q5.5 11.5 4.6 11.3Q4.9 12.2 5.8 12.3Z" fill="#cbccc7" stroke="none" stroke-width="0.5" opacity="1"/><path d="M-3.9 115.1Q1.3 91.3 1.7 66.9" fill="none" stroke="#a6a7a2" stroke-width="0.7" stroke-linecap="round" opacity="1.0"/><path d="M-2.8 109.4Q0.9 110.0 3.2 107.1Q-0.5 106.4 -2.8 109.4Z" fill="#cbccc7" stroke="none" stroke-width="0.5" opacity="1"/><path d="M-2.8 109.4Q-3.8 105.8 -7.4 105.0Q-6.4 108.6 -2.8 109.4Z" fill="#cbccc7" stroke="none" stroke-width="0.5" opacity="1"/><path d="M-2.0 105.5Q3.8 106.4 7.3 101.7Q1.5 100.8 -2.0 105.5Z" fill="#cbccc7" stroke="none" stroke-width="0.5" opacity="1"/><path d="M-2.0 105.5Q-3.8 99.9 -9.5 98.8Q-7.8 104.4 -2.0 105.5Z" fill="#cbccc7" stroke="none" stroke-width="0.5" opacity="1"/><path d="M-1.4 101.7Q5.6 102.7 9.7 97.0Q2.8 96.0 -1.4 101.7Z" fill="#cbccc7" stroke="none" stroke-width="0.5" opacity="1"/><path d="M-1.4 101.7Q-3.6 95.0 -10.5 93.8Q-8.3 100.4 -1.4 101.7Z" fill="#cbccc7" stroke="none" stroke-width="0.5" opacity="1"/><path d="M-0.8 97.9Q5.5 98.7 9.2 93.4Q2.9 92.6 -0.8 97.9Z" fill="#cbccc7" stroke="none" stroke-width="0.5" opacity="1"/><path d="M-0.8 97.9Q-2.9 91.8 -9.2 90.8Q-7.1 96.8 -0.8 97.9Z" fill="#cbccc7" stroke="none" stroke-width="0.5" opacity="1"/><path d="M-0.3 94.0Q5.4 94.6 8.7 89.9Q3.0 89.3 -0.3 94.0Z" fill="#cbccc7" stroke="none" stroke-width="0.5" opacity="1"/><path d="M-0.3 94.0Q-2.2 88.6 -7.9 87.7Q-6.0 93.2 -0.3 94.0Z" fill="#cbccc7" stroke="none" stroke-width="0.5" opacity="1"/><path d="M0.2 90.1Q5.2 90.6 8.1 86.4Q3.0 85.9 0.2 90.1Z" fill="#cbccc7" stroke="none" stroke-width="0.5" opacity="1"/><path d="M0.2 90.1Q-1.6 85.4 -6.7 84.7Q-4.9 89.5 0.2 90.1Z" fill="#cbccc7" stroke="none" stroke-width="0.5" opacity="1"/><path d="M0.6 86.3Q5.0 86.6 7.3 82.9Q2.9 82.6 0.6 86.3Z" fill="#cbccc7" stroke="none" stroke-width="0.5" opacity="1"/><path d="M0.6 86.3Q-1.0 82.2 -5.4 81.7Q-3.8 85.8 0.6 86.3Z" fill="#cbccc7" stroke="none" stroke-width="0.5" opacity="1"/><path d="M0.9 82.4Q4.6 82.6 6.5 79.5Q2.9 79.3 0.9 82.4Z" fill="#cbccc7" stroke="none" stroke-width="0.5" opacity="1"/><path d="M0.9 82.4Q-0.5 79.0 -4.1 78.7Q-2.7 82.1 0.9 82.4Z" fill="#cbccc7" stroke="none" stroke-width="0.5" opacity="1"/><path d="M1.2 78.5Q4.1 78.7 5.6 76.2Q2.7 76.0 1.2 78.5Z" fill="#cbccc7" stroke="none" stroke-width="0.5" opacity="1"/><path d="M1.2 78.5Q0.0 75.9 -2.9 75.6Q-1.7 78.3 1.2 78.5Z" fill="#cbccc7" stroke="none" stroke-width="0.5" opacity="1"/><path d="M1.4 74.7Q3.5 74.7 4.6 72.9Q2.5 72.8 1.4 74.7Z" fill="#cbccc7" stroke="none" stroke-width="0.5" opacity="1"/><path d="M1.4 74.7Q0.6 72.7 -1.6 72.6Q-0.7 74.5 1.4 74.7Z" fill="#cbccc7" stroke="none" stroke-width="0.5" opacity="1"/><path d="M1.6 70.8Q2.8 70.8 3.4 69.7Q2.2 69.7 1.6 70.8Z" fill="#cbccc7" stroke="none" stroke-width="0.5" opacity="1"/><path d="M1.6 70.8Q1.1 69.7 -0.2 69.6Q0.4 70.7 1.6 70.8Z" fill="#cbccc7" stroke="none" stroke-width="0.5" opacity="1"/><path d="M-0.6 115.1Q-14.2 83.9 -17.4 50.1" fill="none" stroke="#a6a7a2" stroke-width="0.7" stroke-linecap="round" opacity="1.0"/><path d="M-3.7 107.6Q0.2 105.9 0.7 101.7Q-3.3 103.3 -3.7 107.6Z" fill="#cbccc7" stroke="none" stroke-width="0.5" opacity="1"/><path d="M-3.7 107.6Q-6.9 104.7 -10.9 106.2Q-7.7 109.0 -3.7 107.6Z" fill="#cbccc7" stroke="none" stroke-width="0.5" opacity="1"/><path d="M-5.4 103.1Q0.6 100.8 1.4 94.4Q-4.6 96.7 -5.4 103.1Z" fill="#cbccc7" stroke="none" stroke-width="0.5" opacity="1"/><path d="M-5.4 103.1Q-10.1 98.8 -16.2 100.9Q-11.5 105.2 -5.4 103.1Z" fill="#cbccc7" stroke="none" stroke-width="0.5" opacity="1"/><path d="M-6.9 98.7Q0.8 95.9 1.9 87.7Q-5.8 90.6 -6.9 98.7Z" fill="#cbccc7" stroke="none" stroke-width="0.5" opacity="1"/><path d="M-6.9 98.7Q-12.9 93.0 -20.7 95.5Q-14.8 101.2 -6.9 98.7Z" fill="#cbccc7" stroke="none" stroke-width="0.5" opacity="1"/><path d="M-8.4 94.2Q-1.2 91.8 0.0 84.3Q-7.2 86.7 -8.4 94.2Z" fill="#cbccc7" stroke="none" stroke-width="0.5" opacity="1"/><path d="M-8.4 94.2Q-13.8 88.8 -21.0 91.0Q-15.7 96.4 -8.4 94.2Z" fill="#cbccc7" stroke="none" stroke-width="0.5" opacity="1"/><path d="M-9.8 89.7Q-3.2 87.6 -1.9 80.8Q-8.5 82.9 -9.8 89.7Z" fill="#cbccc7" stroke="none" stroke-width="0.5" opacity="1"/><path d="M-9.8 89.7Q-14.6 84.7 -21.3 86.5Q-16.5 91.5 -9.8 89.7Z" fill="#cbccc7" stroke="none" stroke-width="0.5" opacity="1"/><path d="M-11.1 85.2Q-5.0 83.4 -3.7 77.3Q-9.8 79.0 -11.1 85.2Z" fill="#cbccc7" stroke="none" stroke-width="0.5" opacity="1"/><path d="M-11.1 85.2Q-15.3 80.5 -21.4 82.0Q-17.2 86.7 -11.1 85.2Z" fill="#cbccc7" stroke="none" stroke-width="0.5" opacity="1"/><path d="M-12.2 80.6Q-6.8 79.2 -5.5 73.7Q-10.9 75.2 -12.2 80.6Z" fill="#cbccc7" stroke="none" stroke-width="0.5" opacity="1"/><path d="M-12.2 80.6Q-15.9 76.4 -21.4 77.6Q-17.7 81.9 -12.2 80.6Z" fill="#cbccc7" stroke="none" stroke-width="0.5" opacity="1"/><path d="M-13.3 76.1Q-8.5 74.9 -7.3 70.1Q-12.1 71.3 -13.3 76.1Z" fill="#cbccc7" stroke="none" stroke-width="0.5" opacity="1"/><path d="M-13.3 76.1Q-16.4 72.3 -21.3 73.2Q-18.1 77.0 -13.3 76.1Z" fill="#cbccc7" stroke="none" stroke-width="0.5" opacity="1"/><path d="M-14.3 71.4Q-10.2 70.6 -9.0 66.5Q-13.1 67.4 -14.3 71.4Z" fill="#cbccc7" stroke="none" stroke-width="0.5" opacity="1"/><path d="M-14.3 71.4Q-16.9 68.1 -21.0 68.9Q-18.4 72.2 -14.3 71.4Z" fill="#cbccc7" stroke="none" stroke-width="0.5" opacity="1"/><path d="M-15.1 66.8Q-11.7 66.2 -10.7 62.9Q-14.1 63.5 -15.1 66.8Z" fill="#cbccc7" stroke="none" stroke-width="0.5" opacity="1"/><path d="M-15.1 66.8Q-17.2 64.1 -20.6 64.6Q-18.5 67.3 -15.1 66.8Z" fill="#cbccc7" stroke="none" stroke-width="0.5" opacity="1"/><path d="M-15.9 62.2Q-13.3 61.7 -12.4 59.2Q-15.1 59.6 -15.9 62.2Z" fill="#cbccc7" stroke="none" stroke-width="0.5" opacity="1"/><path d="M-15.9 62.2Q-17.4 60.0 -20.1 60.4Q-18.5 62.5 -15.9 62.2Z" fill="#cbccc7" stroke="none" stroke-width="0.5" opacity="1"/><path d="M-16.6 57.5Q-14.8 57.2 -14.2 55.5Q-16.0 55.8 -16.6 57.5Z" fill="#cbccc7" stroke="none" stroke-width="0.5" opacity="1"/><path d="M-16.6 57.5Q-17.6 56.0 -19.3 56.2Q-18.3 57.7 -16.6 57.5Z" fill="#cbccc7" stroke="none" stroke-width="0.5" opacity="1"/><path d="M-17.1 52.8Q-16.3 52.7 -16.0 51.9Q-16.8 52.0 -17.1 52.8Z" fill="#cbccc7" stroke="none" stroke-width="0.5" opacity="1"/><path d="M-17.1 52.8Q-17.6 52.1 -18.3 52.2Q-17.9 52.8 -17.1 52.8Z" fill="#cbccc7" stroke="none" stroke-width="0.5" opacity="1"/><ellipse cx="-1.7" cy="116.9" rx="8" ry="2" fill="#aeafa9"/></svg></div>
<div class="nm" style="left:1206.7px">Arabidopsis</div>
<div class="sp" style="left:1206.7px;top:122px">(<i>A. thaliana</i>)</div>
<div class="im" style="left:1206.7px"><svg width="136" height="120" viewBox="-68.0 0 136 120"><path d="M-0.6 96.0Q-0.6 55.3 -0.6 14.6" fill="none" stroke="#a5a5a0" stroke-width="1.3" stroke-linecap="round" opacity="1.0"/><path d="M-0.6 68.0Q-4.2 58.6 -9.5 50.1" fill="none" stroke="#a5a5a0" stroke-width="1.0" stroke-linecap="round" opacity="1.0"/><line x1="-0.6" y1="20.9" x2="-4.0" y2="14.6" stroke="#9e9e99" stroke-width="0.8"/><line x1="-0.6" y1="25.4" x2="3.1" y2="18.7" stroke="#9e9e99" stroke-width="0.8"/><line x1="-0.6" y1="32.1" x2="-4.3" y2="25.4" stroke="#9e9e99" stroke-width="0.8"/><line x1="-0.6" y1="38.8" x2="3.4" y2="31.7" stroke="#9e9e99" stroke-width="0.8"/><line x1="-0.6" y1="45.6" x2="-4.3" y2="38.8" stroke="#9e9e99" stroke-width="0.8"/><line x1="-0.6" y1="52.3" x2="3.6" y2="44.7" stroke="#9e9e99" stroke-width="0.8"/><line x1="-0.6" y1="59.0" x2="-4.5" y2="51.8" stroke="#9e9e99" stroke-width="0.8"/><line x1="-0.6" y1="29.9" x2="2.6" y2="24.0" stroke="#9e9e99" stroke-width="0.8"/><line x1="-0.6" y1="56.8" x2="2.9" y2="50.5" stroke="#9e9e99" stroke-width="0.8"/><circle cx="-4.6" cy="11.5" r="1.6" fill="#cfcfca" stroke="#8e8e89" stroke-width="0.5"/><circle cx="-0.1" cy="9.7" r="1.8" fill="#cfcfca" stroke="#8e8e89" stroke-width="0.5"/><circle cx="4.4" cy="11.0" r="1.6" fill="#cfcfca" stroke="#8e8e89" stroke-width="0.5"/><circle cx="-2.8" cy="15.3" r="1.3" fill="#cfcfca" stroke="#8e8e89" stroke-width="0.5"/><circle cx="3.0" cy="14.9" r="1.3" fill="#cfcfca" stroke="#8e8e89" stroke-width="0.5"/><circle cx="7.7" cy="16.4" r="1.3" fill="#cfcfca" stroke="#8e8e89" stroke-width="0.5"/><circle cx="-7.5" cy="16.4" r="1.3" fill="#cfcfca" stroke="#8e8e89" stroke-width="0.5"/><circle cx="-10.0" cy="47.4" r="1.6" fill="#cfcfca" stroke="#8e8e89" stroke-width="0.5"/><circle cx="-7.3" cy="49.2" r="1.1" fill="#cfcfca" stroke="#8e8e89" stroke-width="0.5"/><circle cx="1.7" cy="13.1" r="1.3" fill="#cfcfca" stroke="#8e8e89" stroke-width="0.5"/><path d="M-0.1 96.0C-12.0 92.2 -27.5 79.9 -27.0 89.3C-31.9 97.3 -12.4 93.8 -0.1 96.0Z" fill="#c9c9c4" stroke="#9a9a95" stroke-width="0.5" opacity="1.0"/><path d="M-0.1 96.0Q-13.6 92.7 -27.0 89.3" fill="none" stroke="#a9a9a4" stroke-width="0.5" stroke-linecap="round" opacity="1.0"/><path d="M-0.1 96.0C9.8 92.4 27.0 93.6 21.2 86.4C19.6 77.2 9.1 90.9 -0.1 96.0Z" fill="#c9c9c4" stroke="#9a9a95" stroke-width="0.5" opacity="1.0"/><path d="M-0.1 96.0Q10.5 91.2 21.2 86.4" fill="none" stroke="#a9a9a4" stroke-width="0.5" stroke-linecap="round" opacity="1.0"/><path d="M-0.1 96.0C-9.5 98.6 -25.1 96.5 -20.3 103.4C-19.5 111.8 -9.0 100.1 -0.1 96.0Z" fill="#c9c9c4" stroke="#9a9a95" stroke-width="0.5" opacity="1.0"/><path d="M-0.1 96.0Q-10.2 99.7 -20.3 103.4" fill="none" stroke="#a9a9a4" stroke-width="0.5" stroke-linecap="round" opacity="1.0"/><path d="M-0.1 96.0C8.0 98.5 18.4 108.2 18.3 99.8C21.8 92.2 8.3 97.0 -0.1 96.0Z" fill="#c9c9c4" stroke="#9a9a95" stroke-width="0.5" opacity="1.0"/><path d="M-0.1 96.0Q9.1 97.9 18.3 99.8" fill="none" stroke="#a9a9a4" stroke-width="0.5" stroke-linecap="round" opacity="1.0"/><path d="M-0.1 96.0C0.3 103.5 -4.1 114.9 2.1 112.4C8.8 113.1 1.5 103.3 -0.1 96.0Z" fill="#c9c9c4" stroke="#9a9a95" stroke-width="0.5" opacity="1.0"/><path d="M-0.1 96.0Q1.0 104.2 2.1 112.4" fill="none" stroke="#a9a9a4" stroke-width="0.5" stroke-linecap="round" opacity="1.0"/><path d="M-0.1 96.0C-6.2 86.9 -10.9 70.7 -14.7 76.5C-21.4 78.5 -7.2 87.6 -0.1 96.0Z" fill="#c9c9c4" stroke="#9a9a95" stroke-width="0.5" opacity="1.0"/><path d="M-0.1 96.0Q-7.4 86.3 -14.7 76.5" fill="none" stroke="#a9a9a4" stroke-width="0.5" stroke-linecap="round" opacity="1.0"/><path d="M-0.1 96.0C4.6 88.5 16.0 80.2 9.3 78.8C4.5 73.9 3.6 88.0 -0.1 96.0Z" fill="#c9c9c4" stroke="#9a9a95" stroke-width="0.5" opacity="1.0"/><path d="M-0.1 96.0Q4.6 87.4 9.3 78.8" fill="none" stroke="#a9a9a4" stroke-width="0.5" stroke-linecap="round" opacity="1.0"/><path d="M-0.1 96.0C2.0 83.5 8.9 65.8 3.7 68.0C-0.8 64.5 1.1 83.3 -0.1 96.0Z" fill="#c9c9c4" stroke="#9a9a95" stroke-width="0.5" opacity="1.0"/><path d="M-0.1 96.0Q1.8 82.0 3.7 68.0" fill="none" stroke="#a9a9a4" stroke-width="0.5" stroke-linecap="round" opacity="1.0"/><path d="M-0.1 96.0C-3.5 100.3 -11.6 104.4 -6.9 106.1C-3.5 109.8 -2.8 100.8 -0.1 96.0Z" fill="#c9c9c4" stroke="#9a9a95" stroke-width="0.5" opacity="1.0"/><path d="M-0.1 96.0Q-3.5 101.1 -6.9 106.1" fill="none" stroke="#a9a9a4" stroke-width="0.5" stroke-linecap="round" opacity="1.0"/></svg></div>
<div class="nm" style="left:1342.4px">Banana</div>
<div class="sp" style="left:1342.4px;top:107px">(<i>M.</i><br><i>acuminata</i>)</div>
<div class="im" style="left:1342.4px"><svg width="136" height="120" viewBox="-68.0 0 136 120"><path d="M-1.9 103.9Q-9.7 104.7 -16.5 108.3" fill="none" stroke="#8f8c82" stroke-width="0.6" stroke-linecap="round" opacity="1.0"/><path d="M-1.9 103.9Q-7.9 107.6 -12.0 113.3" fill="none" stroke="#8f8c82" stroke-width="0.6" stroke-linecap="round" opacity="1.0"/><path d="M-1.9 103.9Q-5.3 109.0 -6.4 115.1" fill="none" stroke="#8f8c82" stroke-width="0.6" stroke-linecap="round" opacity="1.0"/><path d="M-1.9 103.9Q-0.2 109.8 3.7 114.6" fill="none" stroke="#8f8c82" stroke-width="0.6" stroke-linecap="round" opacity="1.0"/><path d="M-1.9 103.9Q2.9 108.9 9.3 111.7" fill="none" stroke="#8f8c82" stroke-width="0.6" stroke-linecap="round" opacity="1.0"/><path d="M-1.9 103.9Q5.5 107.5 13.8 107.9" fill="none" stroke="#8f8c82" stroke-width="0.6" stroke-linecap="round" opacity="1.0"/><path d="M-1.9 103.9Q-6.5 106.4 -9.8 110.6" fill="none" stroke="#8f8c82" stroke-width="0.6" stroke-linecap="round" opacity="1.0"/><path d="M-1.9 103.9Q1.3 109.2 6.4 112.8" fill="none" stroke="#8f8c82" stroke-width="0.6" stroke-linecap="round" opacity="1.0"/><polygon points="-6.9,105.0 3.0,105.0 1.0,51.8 -3.9,51.8" fill="#b2afa3" stroke="#8f8c81" stroke-width="0.5"/><path d="M-5.7 61.7Q-1.7 60.2 1.4 57.2" fill="none" stroke="#8e8b80" stroke-width="0.6" stroke-linecap="round" opacity="1.0"/><path d="M-5.7 68.9Q-1.7 67.4 1.4 64.4" fill="none" stroke="#8e8b80" stroke-width="0.6" stroke-linecap="round" opacity="1.0"/><path d="M-5.7 76.1Q-1.7 74.5 1.4 71.6" fill="none" stroke="#8e8b80" stroke-width="0.6" stroke-linecap="round" opacity="1.0"/><path d="M-5.7 83.2Q-1.7 81.7 1.4 78.8" fill="none" stroke="#8e8b80" stroke-width="0.6" stroke-linecap="round" opacity="1.0"/><path d="M-5.7 90.4Q-1.7 88.9 1.4 85.9" fill="none" stroke="#8e8b80" stroke-width="0.6" stroke-linecap="round" opacity="1.0"/><path d="M-5.7 97.6Q-1.7 96.1 1.4 93.1" fill="none" stroke="#8e8b80" stroke-width="0.6" stroke-linecap="round" opacity="1.0"/><path d="M-5.7 104.8Q-1.7 103.2 1.4 100.3" fill="none" stroke="#8e8b80" stroke-width="0.6" stroke-linecap="round" opacity="1.0"/><path d="M-5.0 55.1C-11.3 50.8 -31.4 60.4 -34.4 69.1C-25.7 72.2 -5.7 62.7 -5.0 55.1Z" fill="#c6c3b7" stroke="#8f8c81" stroke-width="0.5" opacity="1.0"/><path d="M-1.9 52.7Q-18.2 60.9 -34.4 69.1" fill="none" stroke="#9a978b" stroke-width="0.6" stroke-linecap="round" opacity="1.0"/><path d="M-5.5 53.0C-8.2 46.2 -29.4 42.7 -36.7 47.8C-31.5 55.0 -10.2 58.6 -5.5 53.0Z" fill="#c6c3b7" stroke="#8f8c81" stroke-width="0.5" opacity="1.0"/><path d="M-1.9 52.7Q-19.3 50.3 -36.7 47.8" fill="none" stroke="#9a978b" stroke-width="0.6" stroke-linecap="round" opacity="1.0"/><path d="M2.1 52.0C6.6 58.1 29.7 56.7 36.2 50.1C29.0 44.2 5.8 45.5 2.1 52.0Z" fill="#c6c3b7" stroke="#8f8c81" stroke-width="0.5" opacity="1.0"/><path d="M-1.9 52.7Q17.1 51.4 36.2 50.1" fill="none" stroke="#9a978b" stroke-width="0.6" stroke-linecap="round" opacity="1.0"/><path d="M-6.0 50.0C-6.1 41.8 -27.8 28.1 -37.8 29.9C-35.1 39.7 -13.5 53.4 -6.0 50.0Z" fill="#c6c3b7" stroke="#8f8c81" stroke-width="0.5" opacity="1.0"/><path d="M-1.9 52.7Q-19.9 41.3 -37.8 29.9" fill="none" stroke="#9a978b" stroke-width="0.6" stroke-linecap="round" opacity="1.0"/><path d="M2.6 49.0C10.3 52.2 33.2 37.7 36.2 27.6C25.8 26.1 3.0 40.7 2.6 49.0Z" fill="#c6c3b7" stroke="#8f8c81" stroke-width="0.5" opacity="1.0"/><path d="M-1.9 52.7Q17.1 40.2 36.2 27.6" fill="none" stroke="#9a978b" stroke-width="0.6" stroke-linecap="round" opacity="1.0"/><path d="M-5.5 47.5C-2.2 37.8 -22.0 8.3 -34.4 4.1C-35.3 17.2 -15.6 46.8 -5.5 47.5Z" fill="#c6c3b7" stroke="#8f8c81" stroke-width="0.5" opacity="1.0"/><path d="M-1.9 52.7Q-18.2 28.4 -34.4 4.1" fill="none" stroke="#9a978b" stroke-width="0.6" stroke-linecap="round" opacity="1.0"/><path d="M1.6 47.0C11.8 46.8 33.0 18.4 32.8 5.2C20.1 8.7 -1.1 37.2 1.6 47.0Z" fill="#c6c3b7" stroke="#8f8c81" stroke-width="0.5" opacity="1.0"/><path d="M-1.9 52.7Q15.4 29.0 32.8 5.2" fill="none" stroke="#9a978b" stroke-width="0.6" stroke-linecap="round" opacity="1.0"/><path d="M-1.6 46.5C6.6 41.8 8.0 12.9 0.3 4.1C-8.1 12.2 -9.4 41.0 -1.6 46.5Z" fill="#c6c3b7" stroke="#8f8c81" stroke-width="0.5" opacity="1.0"/><path d="M-1.9 52.7Q-0.8 28.4 0.3 4.1" fill="none" stroke="#9a978b" stroke-width="0.6" stroke-linecap="round" opacity="1.0"/><path d="M3.7 53.4Q7.6 57.1 12.6 59.0" fill="none" stroke="#8d8a7f" stroke-width="1.2" stroke-linecap="round" opacity="1.0"/><circle cx="12.6" cy="61.3" r="3.1" fill="#a9a69a" stroke="#8f8c81" stroke-width="0.4"/><circle cx="16.0" cy="64.6" r="3.1" fill="#a9a69a" stroke="#8f8c81" stroke-width="0.4"/><circle cx="11.5" cy="66.9" r="2.9" fill="#a9a69a" stroke="#8f8c81" stroke-width="0.4"/><circle cx="14.9" cy="70.2" r="2.7" fill="#a9a69a" stroke="#8f8c81" stroke-width="0.4"/><circle cx="12.6" cy="73.6" r="2.2" fill="#a9a69a" stroke="#8f8c81" stroke-width="0.4"/><path d="M16.0 73.6Q11.9 80.6 17.6 86.4Q21.7 79.4 16.0 73.6Z" fill="#b4b1a5" stroke="#8f8c81" stroke-width="0.5" opacity="1.0"/></svg></div>
<div class="nm" style="left:1478.1px">Pineapple</div>
<div class="sp" style="left:1478.1px;top:107px">(<i>A.</i><br><i>comosus</i>)</div>
<div class="im" style="left:1478.1px"><svg width="136" height="120" viewBox="-68.0 0 136 120"><defs><clipPath id="pcl"><ellipse cx="-0.4" cy="48.9" rx="9.9" ry="12.6"/></clipPath></defs><path d="M-0.4 118.4Q-0.4 89.9 -0.4 61.3" fill="none" stroke="#9a9a98" stroke-width="1.6" stroke-linecap="round" opacity="1.0"/><path d="M-0.4 118.4Q-20.5 94.8 -23.9 64.0Q-28.6 98.3 -0.4 118.4Z" fill="#dddddb" stroke="#858583" stroke-width="0.5" opacity="1.0"/><path d="M-0.4 118.4Q-24.6 96.6 -23.9 64.0" fill="none" stroke="#a0a09e" stroke-width="0.4" stroke-linecap="round" opacity="1.0"/><path d="M-0.4 118.4Q26.6 95.7 19.1 61.3Q18.3 92.9 -0.4 118.4Z" fill="#dddddb" stroke="#858583" stroke-width="0.5" opacity="1.0"/><path d="M-0.4 118.4Q22.4 94.3 19.1 61.3" fill="none" stroke="#a0a09e" stroke-width="0.4" stroke-linecap="round" opacity="1.0"/><path d="M-0.4 118.4Q-13.6 100.0 -19.4 78.1Q-21.5 103.7 -0.4 118.4Z" fill="#dddddb" stroke="#858583" stroke-width="0.5" opacity="1.0"/><path d="M-0.4 118.4Q-17.6 101.9 -19.4 78.1" fill="none" stroke="#a0a09e" stroke-width="0.4" stroke-linecap="round" opacity="1.0"/><path d="M-0.4 118.4Q23.7 105.9 25.4 78.8Q16.4 101.1 -0.4 118.4Z" fill="#dddddb" stroke="#858583" stroke-width="0.5" opacity="1.0"/><path d="M-0.4 118.4Q20.1 103.5 25.4 78.8" fill="none" stroke="#a0a09e" stroke-width="0.4" stroke-linecap="round" opacity="1.0"/><path d="M-0.4 118.4Q-16.8 106.5 -26.2 88.6Q-23.4 112.3 -0.4 118.4Z" fill="#dddddb" stroke="#858583" stroke-width="0.5" opacity="1.0"/><path d="M-0.4 118.4Q-20.1 109.4 -26.2 88.6" fill="none" stroke="#a0a09e" stroke-width="0.4" stroke-linecap="round" opacity="1.0"/><path d="M-0.4 118.4Q19.9 120.9 26.5 101.6Q15.2 113.5 -0.4 118.4Z" fill="#dddddb" stroke="#858583" stroke-width="0.5" opacity="1.0"/><path d="M-0.4 118.4Q17.6 117.2 26.5 101.6" fill="none" stroke="#a0a09e" stroke-width="0.4" stroke-linecap="round" opacity="1.0"/><path d="M-0.4 118.4Q-14.0 115.7 -25.0 107.2Q-17.4 123.1 -0.4 118.4Z" fill="#dddddb" stroke="#858583" stroke-width="0.5" opacity="1.0"/><path d="M-0.4 118.4Q-15.7 119.4 -25.0 107.2" fill="none" stroke="#a0a09e" stroke-width="0.4" stroke-linecap="round" opacity="1.0"/><path d="M-0.4 118.4Q18.8 112.5 22.1 92.7Q12.7 107.1 -0.4 118.4Z" fill="#dddddb" stroke="#858583" stroke-width="0.5" opacity="1.0"/><path d="M-0.4 118.4Q15.7 109.8 22.1 92.7" fill="none" stroke="#a0a09e" stroke-width="0.4" stroke-linecap="round" opacity="1.0"/><path d="M-0.4 118.4Q-8.4 115.2 -16.1 111.0Q-11.4 121.5 -0.4 118.4Z" fill="#dddddb" stroke="#858583" stroke-width="0.5" opacity="1.0"/><path d="M-0.4 118.4Q-9.9 118.3 -16.1 111.0" fill="none" stroke="#a0a09e" stroke-width="0.4" stroke-linecap="round" opacity="1.0"/><path d="M-0.4 118.4Q10.0 121.4 14.2 111.5Q7.0 115.1 -0.4 118.4Z" fill="#dddddb" stroke="#858583" stroke-width="0.5" opacity="1.0"/><path d="M-0.4 118.4Q8.5 118.3 14.2 111.5" fill="none" stroke="#a0a09e" stroke-width="0.4" stroke-linecap="round" opacity="1.0"/><path d="M-0.4 118.4Q-4.4 89.9 -8.2 61.3Q-10.7 90.7 -0.4 118.4Z" fill="#dddddb" stroke="#858583" stroke-width="0.5" opacity="1.0"/><path d="M-0.4 118.4Q-7.6 90.3 -8.2 61.3" fill="none" stroke="#a0a09e" stroke-width="0.4" stroke-linecap="round" opacity="1.0"/><path d="M-0.4 118.4Q9.9 91.3 7.5 62.4Q3.6 90.4 -0.4 118.4Z" fill="#dddddb" stroke="#858583" stroke-width="0.5" opacity="1.0"/><path d="M-0.4 118.4Q6.7 90.9 7.5 62.4" fill="none" stroke="#a0a09e" stroke-width="0.4" stroke-linecap="round" opacity="1.0"/><path d="M-0.4 118.4Q-5.2 105.2 -11.6 92.7Q-11.6 108.0 -0.4 118.4Z" fill="#dddddb" stroke="#858583" stroke-width="0.5" opacity="1.0"/><path d="M-0.4 118.4Q-8.4 106.6 -11.6 92.7" fill="none" stroke="#a0a09e" stroke-width="0.4" stroke-linecap="round" opacity="1.0"/><path d="M-0.4 118.4Q11.9 105.8 12.0 88.2Q5.4 103.2 -0.4 118.4Z" fill="#dddddb" stroke="#858583" stroke-width="0.5" opacity="1.0"/><path d="M-0.4 118.4Q8.7 104.5 12.0 88.2" fill="none" stroke="#a0a09e" stroke-width="0.4" stroke-linecap="round" opacity="1.0"/><ellipse cx="-0.4" cy="48.9" rx="9.9" ry="12.6" fill="#cacac8" stroke="#858583" stroke-width="0.6"/><line x1="-13.8" y1="25.6" x2="13.1" y2="43.6" stroke="#8a8a88" stroke-width="0.5" clip-path="url(#pcl)"/><line x1="13.1" y1="25.6" x2="-13.8" y2="43.6" stroke="#8a8a88" stroke-width="0.5" clip-path="url(#pcl)"/><line x1="-13.8" y1="29.2" x2="13.1" y2="47.1" stroke="#8a8a88" stroke-width="0.5" clip-path="url(#pcl)"/><line x1="13.1" y1="29.2" x2="-13.8" y2="47.1" stroke="#8a8a88" stroke-width="0.5" clip-path="url(#pcl)"/><line x1="-13.8" y1="32.8" x2="13.1" y2="50.7" stroke="#8a8a88" stroke-width="0.5" clip-path="url(#pcl)"/><line x1="13.1" y1="32.8" x2="-13.8" y2="50.7" stroke="#8a8a88" stroke-width="0.5" clip-path="url(#pcl)"/><line x1="-13.8" y1="36.4" x2="13.1" y2="54.3" stroke="#8a8a88" stroke-width="0.5" clip-path="url(#pcl)"/><line x1="13.1" y1="36.4" x2="-13.8" y2="54.3" stroke="#8a8a88" stroke-width="0.5" clip-path="url(#pcl)"/><line x1="-13.8" y1="40.0" x2="13.1" y2="57.9" stroke="#8a8a88" stroke-width="0.5" clip-path="url(#pcl)"/><line x1="13.1" y1="40.0" x2="-13.8" y2="57.9" stroke="#8a8a88" stroke-width="0.5" clip-path="url(#pcl)"/><line x1="-13.8" y1="43.6" x2="13.1" y2="61.5" stroke="#8a8a88" stroke-width="0.5" clip-path="url(#pcl)"/><line x1="13.1" y1="43.6" x2="-13.8" y2="61.5" stroke="#8a8a88" stroke-width="0.5" clip-path="url(#pcl)"/><line x1="-13.8" y1="47.1" x2="13.1" y2="65.1" stroke="#8a8a88" stroke-width="0.5" clip-path="url(#pcl)"/><line x1="13.1" y1="47.1" x2="-13.8" y2="65.1" stroke="#8a8a88" stroke-width="0.5" clip-path="url(#pcl)"/><line x1="-13.8" y1="50.7" x2="13.1" y2="68.7" stroke="#8a8a88" stroke-width="0.5" clip-path="url(#pcl)"/><line x1="13.1" y1="50.7" x2="-13.8" y2="68.7" stroke="#8a8a88" stroke-width="0.5" clip-path="url(#pcl)"/><line x1="-13.8" y1="54.3" x2="13.1" y2="72.3" stroke="#8a8a88" stroke-width="0.5" clip-path="url(#pcl)"/><line x1="13.1" y1="54.3" x2="-13.8" y2="72.3" stroke="#8a8a88" stroke-width="0.5" clip-path="url(#pcl)"/><path d="M-0.4 38.4Q-3.8 26.8 -12.7 18.7Q-7.3 29.0 -0.4 38.4Z" fill="#c4c4c2" stroke="#858583" stroke-width="0.45" opacity="1.0"/><path d="M-0.4 38.4Q-1.1 25.1 -8.2 13.7Q-5.0 26.3 -0.4 38.4Z" fill="#c4c4c2" stroke="#858583" stroke-width="0.45" opacity="1.0"/><path d="M-0.4 38.4Q3.0 25.4 -0.4 12.4Q-1.1 25.4 -0.4 38.4Z" fill="#c4c4c2" stroke="#858583" stroke-width="0.45" opacity="1.0"/><path d="M-0.4 38.4Q6.7 27.5 7.5 14.6Q2.8 26.3 -0.4 38.4Z" fill="#c4c4c2" stroke="#858583" stroke-width="0.45" opacity="1.0"/><path d="M-0.4 38.4Q8.6 31.2 12.4 20.5Q5.3 28.9 -0.4 38.4Z" fill="#c4c4c2" stroke="#858583" stroke-width="0.45" opacity="1.0"/><path d="M-0.4 38.4Q-4.4 30.9 -12.3 27.6Q-7.1 33.9 -0.4 38.4Z" fill="#c4c4c2" stroke="#858583" stroke-width="0.45" opacity="1.0"/><path d="M-0.4 38.4Q7.5 35.1 11.5 27.6Q4.7 32.1 -0.4 38.4Z" fill="#c4c4c2" stroke="#858583" stroke-width="0.45" opacity="1.0"/><path d="M-0.4 38.4Q-6.3 33.7 -13.8 34.4Q-7.5 37.7 -0.4 38.4Z" fill="#c4c4c2" stroke="#858583" stroke-width="0.45" opacity="1.0"/><path d="M-0.4 38.4Q7.7 38.8 14.2 33.9Q6.5 34.9 -0.4 38.4Z" fill="#c4c4c2" stroke="#858583" stroke-width="0.45" opacity="1.0"/><path d="M-0.4 38.4Q0.5 26.8 -4.9 16.4Q-3.5 27.6 -0.4 38.4Z" fill="#c4c4c2" stroke="#858583" stroke-width="0.45" opacity="1.0"/><path d="M-0.4 38.4Q5.0 28.0 4.1 16.4Q1.0 27.2 -0.4 38.4Z" fill="#c4c4c2" stroke="#858583" stroke-width="0.45" opacity="1.0"/></svg></div>
<div class="nm" style="left:1613.7px">Rice</div>
<div class="sp" style="left:1613.7px;top:122px">(<i>O. sativa</i>)</div>
<div class="im" style="left:1613.7px"><svg width="136" height="120" viewBox="-68.0 0 136 120"><polygon points="-2.8,117.2 -5.0,106.2 -7.1,95.7 -9.1,85.8 -11.1,76.3 -13.1,67.4 -14.9,58.9 -16.7,51.0 -18.5,43.6 -20.1,36.7 -21.7,30.3 -23.1,24.4 -24.5,19.0 -25.8,14.1 -26.8,9.7 -26.8,9.7 -25.8,14.1 -24.9,19.1 -23.8,24.5 -22.7,30.5 -21.4,36.9 -20.0,43.9 -18.4,51.4 -16.8,59.3 -15.0,67.8 -13.0,76.7 -10.9,86.1 -8.7,96.1 -6.3,106.5 -3.8,117.4" fill="#b3b3a6" stroke="#8c8c7e" stroke-width="0.35"/><polygon points="-2.8,117.3 -3.4,107.8 -4.0,98.8 -4.6,90.1 -5.3,81.7 -5.9,73.8 -6.6,66.2 -7.2,59.0 -7.8,52.1 -8.5,45.6 -9.1,39.5 -9.7,33.7 -10.2,28.3 -10.8,23.3 -11.1,18.7 -11.1,18.7 -10.8,23.3 -10.6,28.4 -10.4,33.8 -10.1,39.6 -9.7,45.7 -9.4,52.2 -8.9,59.1 -8.4,66.3 -7.8,73.9 -7.2,81.9 -6.5,90.2 -5.7,98.9 -4.8,107.9 -3.8,117.4" fill="#b3b3a6" stroke="#8c8c7e" stroke-width="0.35"/><polygon points="-2.8,117.3 -2.4,109.4 -2.0,101.8 -1.8,94.3 -1.6,87.1 -1.4,80.2 -1.3,73.4 -1.3,66.9 -1.3,60.6 -1.3,54.5 -1.3,48.7 -1.4,43.1 -1.6,37.7 -1.7,32.6 -1.7,27.6 -1.7,27.6 -1.7,32.6 -1.9,37.7 -2.1,43.1 -2.4,48.7 -2.6,54.5 -2.8,60.6 -3.0,66.9 -3.2,73.4 -3.3,80.1 -3.5,87.1 -3.6,94.3 -3.7,101.7 -3.8,109.4 -3.8,117.3" fill="#b3b3a6" stroke="#8c8c7e" stroke-width="0.35"/><polygon points="-2.9,117.5 0.7,109.1 4.1,101.1 7.3,93.4 10.4,86.0 13.4,79.0 16.3,72.4 19.1,66.1 21.7,60.2 24.3,54.6 26.8,49.4 29.2,44.5 31.5,40.0 33.7,35.8 35.9,32.1 35.9,32.1 33.7,35.8 31.1,39.8 28.5,44.2 25.9,48.9 23.2,54.0 20.4,59.5 17.5,65.4 14.6,71.6 11.6,78.3 8.6,85.3 5.6,92.7 2.5,100.4 -0.6,108.6 -3.7,117.1" fill="#b3b3a6" stroke="#8c8c7e" stroke-width="0.35"/><polygon points="-2.9,117.1 -6.0,110.1 -9.1,103.5 -12.1,97.2 -15.1,91.3 -18.0,85.6 -20.8,80.4 -23.6,75.4 -26.2,70.8 -28.8,66.5 -31.3,62.6 -33.8,59.0 -36.1,55.7 -38.3,52.8 -40.3,50.1 -40.3,50.1 -38.3,52.8 -36.4,55.9 -34.4,59.4 -32.2,63.1 -29.9,67.2 -27.6,71.6 -25.1,76.3 -22.4,81.2 -19.7,86.5 -16.8,92.1 -13.7,98.0 -10.6,104.2 -7.2,110.7 -3.7,117.5" fill="#b3b3a6" stroke="#8c8c7e" stroke-width="0.35"/><polygon points="-2.9,117.0 -6.0,112.2 -9.1,107.6 -12.1,103.2 -15.0,99.0 -17.9,95.0 -20.7,91.2 -23.3,87.7 -25.9,84.3 -28.4,81.1 -30.8,78.1 -33.1,75.3 -35.3,72.7 -37.3,70.3 -39.2,68.0 -39.2,68.0 -37.3,70.3 -35.6,73.0 -33.6,75.8 -31.6,78.7 -29.4,81.9 -27.1,85.2 -24.7,88.7 -22.2,92.3 -19.5,96.1 -16.6,100.1 -13.6,104.3 -10.5,108.6 -7.2,113.0 -3.7,117.6" fill="#b3b3a6" stroke="#8c8c7e" stroke-width="0.35"/><polygon points="-2.9,117.0 -5.1,113.8 -7.3,110.6 -9.5,107.7 -11.6,104.8 -13.7,102.1 -15.7,99.6 -17.8,97.2 -19.7,94.9 -21.6,92.7 -23.5,90.7 -25.3,88.8 -27.0,87.0 -28.7,85.3 -30.2,83.7 -30.2,83.7 -28.7,85.3 -27.3,87.2 -25.8,89.2 -24.3,91.3 -22.6,93.5 -20.9,95.8 -19.1,98.2 -17.2,100.7 -15.2,103.3 -13.1,106.0 -10.9,108.8 -8.6,111.7 -6.2,114.6 -3.7,117.6" fill="#b3b3a6" stroke="#8c8c7e" stroke-width="0.35"/><polygon points="-3.1,116.9 -5.6,115.1 -8.2,113.5 -10.6,111.9 -13.1,110.4 -15.5,109.0 -17.8,107.7 -20.1,106.5 -22.3,105.3 -24.4,104.2 -26.5,103.2 -28.5,102.2 -30.4,101.2 -32.3,100.4 -34.0,99.4 -34.0,99.4 -32.3,100.4 -30.6,101.6 -28.9,102.8 -27.0,104.0 -25.1,105.3 -23.0,106.6 -20.9,108.0 -18.7,109.3 -16.5,110.7 -14.1,112.1 -11.6,113.5 -9.0,114.9 -6.3,116.3 -3.5,117.7" fill="#b3b3a6" stroke="#8c8c7e" stroke-width="0.35"/><polygon points="-2.9,117.6 0.6,112.3 4.0,107.2 7.2,102.2 10.3,97.3 13.3,92.6 16.2,88.0 19.0,83.6 21.7,79.3 24.3,75.1 26.8,71.2 29.2,67.3 31.5,63.6 33.7,60.1 35.9,56.8 35.9,56.8 33.7,60.1 31.1,63.4 28.6,66.9 25.9,70.6 23.2,74.4 20.4,78.5 17.6,82.7 14.7,87.0 11.7,91.6 8.7,96.3 5.7,101.2 2.6,106.3 -0.6,111.6 -3.7,117.1" fill="#b3b3a6" stroke="#8c8c7e" stroke-width="0.35"/><polygon points="-3.0,117.7 0.8,114.4 4.4,111.2 7.8,108.0 11.1,105.0 14.2,102.1 17.2,99.3 20.0,96.6 22.7,94.1 25.2,91.6 27.6,89.3 29.8,87.1 32.0,85.1 34.0,83.1 35.9,81.4 35.9,81.4 34.0,83.1 31.7,84.8 29.4,86.6 26.9,88.6 24.3,90.7 21.6,93.0 18.8,95.4 15.9,98.0 12.9,100.7 9.8,103.6 6.6,106.7 3.2,109.9 -0.1,113.4 -3.6,117.0" fill="#b3b3a6" stroke="#8c8c7e" stroke-width="0.35"/><polygon points="-3.0,117.0 -4.0,115.8 -5.0,114.8 -6.0,113.8 -7.1,112.9 -8.2,112.0 -9.2,111.2 -10.3,110.5 -11.4,109.8 -12.5,109.1 -13.6,108.4 -14.7,107.8 -15.8,107.3 -16.9,106.8 -17.9,106.1 -17.9,106.1 -16.9,106.8 -16.0,107.6 -15.1,108.4 -14.2,109.3 -13.3,110.1 -12.4,111.0 -11.4,111.8 -10.4,112.7 -9.4,113.6 -8.3,114.4 -7.2,115.3 -6.0,116.1 -4.9,116.9 -3.6,117.7" fill="#b3b3a6" stroke="#8c8c7e" stroke-width="0.35"/><polygon points="-3.0,117.7 -1.6,116.9 -0.3,116.2 1.0,115.5 2.2,114.8 3.3,114.1 4.4,113.4 5.5,112.8 6.5,112.1 7.6,111.6 8.6,111.0 9.5,110.5 10.5,110.1 11.4,109.7 12.4,109.5 12.4,109.5 11.4,109.7 10.4,109.7 9.3,109.9 8.2,110.1 7.1,110.4 5.9,110.8 4.7,111.2 3.5,111.8 2.3,112.4 1.1,113.1 -0.1,113.9 -1.2,114.8 -2.4,115.8 -3.6,116.9" fill="#b3b3a6" stroke="#8c8c7e" stroke-width="0.35"/><polygon points="-2.8,117.4 -0.6,110.3 1.6,103.5 3.6,96.9 5.6,90.7 7.5,84.8 9.3,79.2 11.0,73.9 12.6,68.9 14.2,64.2 15.7,59.8 17.2,55.8 18.6,52.1 19.9,48.6 21.4,45.6 21.4,45.6 19.9,48.6 18.2,51.9 16.5,55.5 14.8,59.5 13.0,63.8 11.2,68.4 9.4,73.3 7.5,78.6 5.6,84.2 3.7,90.1 1.9,96.4 -0.0,103.0 -1.9,109.9 -3.7,117.2" fill="#b3b3a6" stroke="#8c8c7e" stroke-width="0.35"/><polygon points="-2.8,117.2 -3.9,110.0 -4.9,103.1 -6.0,96.5 -7.1,90.2 -8.2,84.3 -9.2,78.7 -10.3,73.4 -11.3,68.5 -12.3,63.9 -13.3,59.6 -14.3,55.6 -15.2,51.9 -16.1,48.6 -16.7,45.6 -16.7,45.6 -16.1,48.6 -15.6,52.0 -15.0,55.7 -14.3,59.8 -13.6,64.1 -12.8,68.8 -12.0,73.8 -11.1,79.1 -10.1,84.7 -9.0,90.6 -7.8,96.8 -6.6,103.4 -5.2,110.2 -3.8,117.4" fill="#b3b3a6" stroke="#8c8c7e" stroke-width="0.35"/><polygon points="-2.8,117.4 -1.5,112.1 -0.3,107.0 0.9,102.1 2.0,97.4 3.0,92.9 3.9,88.6 4.8,84.4 5.7,80.5 6.5,76.8 7.3,73.3 8.0,70.0 8.7,66.9 9.3,63.9 10.2,61.3 10.2,61.3 9.3,63.9 8.3,66.7 7.3,69.8 6.3,73.0 5.3,76.5 4.2,80.2 3.2,84.0 2.1,88.1 1.1,92.5 0.1,97.0 -0.9,101.7 -1.9,106.7 -2.9,111.8 -3.8,117.2" fill="#b3b3a6" stroke="#8c8c7e" stroke-width="0.35"/><polygon points="-2.8,117.3 -3.1,109.4 -3.4,101.8 -3.8,94.6 -4.2,87.6 -4.6,80.9 -5.0,74.6 -5.5,68.5 -6.0,62.7 -6.5,57.3 -7.0,52.1 -7.5,47.2 -8.0,42.6 -8.6,38.4 -8.9,34.4 -8.9,34.4 -8.6,38.4 -8.4,42.7 -8.2,47.3 -8.0,52.1 -7.8,57.3 -7.5,62.8 -7.2,68.6 -6.9,74.7 -6.5,81.1 -6.1,87.7 -5.6,94.7 -5.1,101.9 -4.5,109.5 -3.8,117.3" fill="#b3b3a6" stroke="#8c8c7e" stroke-width="0.35"/><polygon points="-2.8,117.4 -2.0,110.8 -1.2,104.5 -0.5,98.5 0.1,92.7 0.6,87.2 1.1,82.0 1.5,77.0 1.9,72.4 2.2,68.0 2.5,63.8 2.7,60.0 2.9,56.4 3.1,53.1 3.4,50.1 3.4,50.1 3.1,53.1 2.6,56.3 2.0,59.9 1.5,63.7 0.9,67.8 0.3,72.2 -0.2,76.9 -0.8,81.8 -1.3,87.0 -1.9,92.5 -2.4,98.3 -2.9,104.3 -3.4,110.7 -3.8,117.3" fill="#b3b3a6" stroke="#8c8c7e" stroke-width="0.35"/><polygon points="-2.9,117.1 -4.4,112.9 -6.0,108.8 -7.6,104.9 -9.2,101.0 -10.8,97.3 -12.4,93.6 -14.0,90.1 -15.6,86.6 -17.2,83.3 -18.7,80.1 -20.3,76.9 -21.8,73.9 -23.3,70.9 -24.6,68.0 -24.6,68.0 -23.3,70.9 -22.1,74.0 -20.9,77.2 -19.7,80.5 -18.3,83.8 -17.0,87.2 -15.6,90.8 -14.1,94.3 -12.6,98.0 -11.0,101.8 -9.3,105.6 -7.5,109.5 -5.7,113.5 -3.7,117.5" fill="#b3b3a6" stroke="#8c8c7e" stroke-width="0.35"/><polygon points="-2.9,117.6 -0.3,114.2 2.1,110.7 4.4,107.2 6.7,103.7 8.8,100.2 10.9,96.6 12.9,93.1 14.8,89.5 16.6,85.9 18.3,82.3 20.0,78.7 21.6,75.1 23.1,71.5 24.7,68.0 24.7,68.0 23.1,71.5 21.2,75.0 19.4,78.4 17.4,81.9 15.5,85.3 13.4,88.8 11.4,92.2 9.3,95.7 7.2,99.2 5.0,102.7 2.9,106.3 0.7,109.8 -1.5,113.4 -3.7,117.1" fill="#b3b3a6" stroke="#8c8c7e" stroke-width="0.35"/><path d="M-11.1 42.2C-13.4 20.9 -29.1 15.3 -38.5 25.4" fill="none" stroke="#9d9d8f" stroke-width="0.8"/><ellipse cx="-17.6" cy="25.6" rx="1.7" ry="0.9" transform="rotate(-133 -17.6 25.6)" fill="#a3a394"/><ellipse cx="-19.0" cy="24.2" rx="1.7" ry="0.9" transform="rotate(-140 -19.0 24.2)" fill="#a3a394"/><ellipse cx="-20.5" cy="23.0" rx="1.7" ry="0.9" transform="rotate(-147 -20.5 23.0)" fill="#a3a394"/><ellipse cx="-22.1" cy="22.0" rx="1.7" ry="0.9" transform="rotate(-154 -22.1 22.0)" fill="#a3a394"/><ellipse cx="-23.8" cy="21.3" rx="1.7" ry="0.9" transform="rotate(-161 -23.8 21.3)" fill="#a3a394"/><ellipse cx="-25.4" cy="20.8" rx="1.7" ry="0.9" transform="rotate(-169 -25.4 20.8)" fill="#a3a394"/><ellipse cx="-27.1" cy="20.6" rx="1.7" ry="0.9" transform="rotate(-177 -27.1 20.6)" fill="#a3a394"/><ellipse cx="-28.9" cy="20.5" rx="1.7" ry="0.9" transform="rotate(175 -28.9 20.5)" fill="#a3a394"/><ellipse cx="-30.6" cy="20.8" rx="1.7" ry="0.9" transform="rotate(167 -30.6 20.8)" fill="#a3a394"/><ellipse cx="-32.2" cy="21.2" rx="1.7" ry="0.9" transform="rotate(160 -32.2 21.2)" fill="#a3a394"/><ellipse cx="-33.9" cy="21.9" rx="1.7" ry="0.9" transform="rotate(152 -33.9 21.9)" fill="#a3a394"/><ellipse cx="-35.5" cy="22.8" rx="1.7" ry="0.9" transform="rotate(145 -35.5 22.8)" fill="#a3a394"/><ellipse cx="-37.0" cy="24.0" rx="1.7" ry="0.9" transform="rotate(138 -37.0 24.0)" fill="#a3a394"/><ellipse cx="-38.5" cy="25.4" rx="1.7" ry="0.9" transform="rotate(0 -38.5 25.4)" fill="#a3a394"/><path d="M-11.1 44.4C-14.5 27.6 -29.1 23.1 -35.8 38.8" fill="none" stroke="#9d9d8f" stroke-width="0.8"/><ellipse cx="-18.0" cy="31.7" rx="1.7" ry="0.9" transform="rotate(-142 -18.0 31.7)" fill="#a3a394"/><ellipse cx="-19.3" cy="30.7" rx="1.7" ry="0.9" transform="rotate(-150 -19.3 30.7)" fill="#a3a394"/><ellipse cx="-20.8" cy="30.0" rx="1.7" ry="0.9" transform="rotate(-158 -20.8 30.0)" fill="#a3a394"/><ellipse cx="-22.2" cy="29.5" rx="1.7" ry="0.9" transform="rotate(-167 -22.2 29.5)" fill="#a3a394"/><ellipse cx="-23.7" cy="29.2" rx="1.7" ry="0.9" transform="rotate(-177 -23.7 29.2)" fill="#a3a394"/><ellipse cx="-25.2" cy="29.2" rx="1.7" ry="0.9" transform="rotate(173 -25.2 29.2)" fill="#a3a394"/><ellipse cx="-26.7" cy="29.4" rx="1.7" ry="0.9" transform="rotate(164 -26.7 29.4)" fill="#a3a394"/><ellipse cx="-28.1" cy="30.0" rx="1.7" ry="0.9" transform="rotate(154 -28.1 30.0)" fill="#a3a394"/><ellipse cx="-29.6" cy="30.7" rx="1.7" ry="0.9" transform="rotate(145 -29.6 30.7)" fill="#a3a394"/><ellipse cx="-31.0" cy="31.8" rx="1.7" ry="0.9" transform="rotate(137 -31.0 31.8)" fill="#a3a394"/><ellipse cx="-32.3" cy="33.1" rx="1.7" ry="0.9" transform="rotate(130 -32.3 33.1)" fill="#a3a394"/><ellipse cx="-33.6" cy="34.7" rx="1.7" ry="0.9" transform="rotate(123 -33.6 34.7)" fill="#a3a394"/><ellipse cx="-34.7" cy="36.6" rx="1.7" ry="0.9" transform="rotate(117 -34.7 36.6)" fill="#a3a394"/><ellipse cx="-35.8" cy="38.8" rx="1.7" ry="0.9" transform="rotate(0 -35.8 38.8)" fill="#a3a394"/><path d="M-10.0 46.7C-13.4 32.1 -24.6 29.9 -30.2 47.8" fill="none" stroke="#9d9d8f" stroke-width="0.8"/><ellipse cx="-15.9" cy="36.3" rx="1.7" ry="0.9" transform="rotate(-147 -15.9 36.3)" fill="#a3a394"/><ellipse cx="-17.0" cy="35.6" rx="1.7" ry="0.9" transform="rotate(-157 -17.0 35.6)" fill="#a3a394"/><ellipse cx="-18.1" cy="35.2" rx="1.7" ry="0.9" transform="rotate(-169 -18.1 35.2)" fill="#a3a394"/><ellipse cx="-19.3" cy="35.1" rx="1.7" ry="0.9" transform="rotate(180 -19.3 35.1)" fill="#a3a394"/><ellipse cx="-20.5" cy="35.1" rx="1.7" ry="0.9" transform="rotate(168 -20.5 35.1)" fill="#a3a394"/><ellipse cx="-21.6" cy="35.5" rx="1.7" ry="0.9" transform="rotate(157 -21.6 35.5)" fill="#a3a394"/><ellipse cx="-22.8" cy="36.1" rx="1.7" ry="0.9" transform="rotate(147 -22.8 36.1)" fill="#a3a394"/><ellipse cx="-24.0" cy="36.9" rx="1.7" ry="0.9" transform="rotate(138 -24.0 36.9)" fill="#a3a394"/><ellipse cx="-25.2" cy="38.0" rx="1.7" ry="0.9" transform="rotate(131 -25.2 38.0)" fill="#a3a394"/><ellipse cx="-26.3" cy="39.4" rx="1.7" ry="0.9" transform="rotate(124 -26.3 39.4)" fill="#a3a394"/><ellipse cx="-27.3" cy="41.1" rx="1.7" ry="0.9" transform="rotate(119 -27.3 41.1)" fill="#a3a394"/><ellipse cx="-28.4" cy="43.0" rx="1.7" ry="0.9" transform="rotate(114 -28.4 43.0)" fill="#a3a394"/><ellipse cx="-29.3" cy="45.3" rx="1.7" ry="0.9" transform="rotate(110 -29.3 45.3)" fill="#a3a394"/><ellipse cx="-30.2" cy="47.8" rx="1.7" ry="0.9" transform="rotate(0 -30.2 47.8)" fill="#a3a394"/><path d="M-10.0 47.8C-12.3 38.8 -20.1 36.6 -24.6 50.1" fill="none" stroke="#9d9d8f" stroke-width="0.8"/><ellipse cx="-14.0" cy="41.3" rx="1.7" ry="0.9" transform="rotate(-150 -14.0 41.3)" fill="#a3a394"/><ellipse cx="-14.8" cy="40.9" rx="1.7" ry="0.9" transform="rotate(-160 -14.8 40.9)" fill="#a3a394"/><ellipse cx="-15.6" cy="40.6" rx="1.7" ry="0.9" transform="rotate(-171 -15.6 40.6)" fill="#a3a394"/><ellipse cx="-16.5" cy="40.5" rx="1.7" ry="0.9" transform="rotate(178 -16.5 40.5)" fill="#a3a394"/><ellipse cx="-17.3" cy="40.6" rx="1.7" ry="0.9" transform="rotate(166 -17.3 40.6)" fill="#a3a394"/><ellipse cx="-18.2" cy="40.9" rx="1.7" ry="0.9" transform="rotate(156 -18.2 40.9)" fill="#a3a394"/><ellipse cx="-19.0" cy="41.3" rx="1.7" ry="0.9" transform="rotate(146 -19.0 41.3)" fill="#a3a394"/><ellipse cx="-19.9" cy="41.9" rx="1.7" ry="0.9" transform="rotate(138 -19.9 41.9)" fill="#a3a394"/><ellipse cx="-20.7" cy="42.8" rx="1.7" ry="0.9" transform="rotate(131 -20.7 42.8)" fill="#a3a394"/><ellipse cx="-21.6" cy="43.8" rx="1.7" ry="0.9" transform="rotate(125 -21.6 43.8)" fill="#a3a394"/><ellipse cx="-22.4" cy="45.0" rx="1.7" ry="0.9" transform="rotate(120 -22.4 45.0)" fill="#a3a394"/><ellipse cx="-23.2" cy="46.5" rx="1.7" ry="0.9" transform="rotate(115 -23.2 46.5)" fill="#a3a394"/><ellipse cx="-23.9" cy="48.2" rx="1.7" ry="0.9" transform="rotate(111 -23.9 48.2)" fill="#a3a394"/><ellipse cx="-24.6" cy="50.1" rx="1.7" ry="0.9" transform="rotate(0 -24.6 50.1)" fill="#a3a394"/><path d="M4.1 38.8C6.8 14.2 24.7 5.2 34.8 16.4" fill="none" stroke="#9d9d8f" stroke-width="0.8"/><ellipse cx="11.5" cy="18.9" rx="1.7" ry="0.9" transform="rotate(-50 11.5 18.9)" fill="#a3a394"/><ellipse cx="13.2" cy="17.1" rx="1.7" ry="0.9" transform="rotate(-44 13.2 17.1)" fill="#a3a394"/><ellipse cx="14.9" cy="15.5" rx="1.7" ry="0.9" transform="rotate(-38 14.9 15.5)" fill="#a3a394"/><ellipse cx="16.7" cy="14.2" rx="1.7" ry="0.9" transform="rotate(-31 16.7 14.2)" fill="#a3a394"/><ellipse cx="18.5" cy="13.1" rx="1.7" ry="0.9" transform="rotate(-24 18.5 13.1)" fill="#a3a394"/><ellipse cx="20.4" cy="12.4" rx="1.7" ry="0.9" transform="rotate(-17 20.4 12.4)" fill="#a3a394"/><ellipse cx="22.3" cy="11.9" rx="1.7" ry="0.9" transform="rotate(-9 22.3 11.9)" fill="#a3a394"/><ellipse cx="24.2" cy="11.7" rx="1.7" ry="0.9" transform="rotate(-1 24.2 11.7)" fill="#a3a394"/><ellipse cx="26.1" cy="11.7" rx="1.7" ry="0.9" transform="rotate(8 26.1 11.7)" fill="#a3a394"/><ellipse cx="28.0" cy="12.1" rx="1.7" ry="0.9" transform="rotate(17 28.0 12.1)" fill="#a3a394"/><ellipse cx="29.8" cy="12.7" rx="1.7" ry="0.9" transform="rotate(26 29.8 12.7)" fill="#a3a394"/><ellipse cx="31.6" cy="13.7" rx="1.7" ry="0.9" transform="rotate(34 31.6 13.7)" fill="#a3a394"/><ellipse cx="33.3" cy="14.9" rx="1.7" ry="0.9" transform="rotate(42 33.3 14.9)" fill="#a3a394"/><ellipse cx="34.8" cy="16.4" rx="1.7" ry="0.9" transform="rotate(0 34.8 16.4)" fill="#a3a394"/><path d="M5.0 41.1C9.0 20.9 22.5 16.4 27.0 37.7" fill="none" stroke="#9d9d8f" stroke-width="0.8"/><ellipse cx="11.9" cy="26.1" rx="1.7" ry="0.9" transform="rotate(-42 11.9 26.1)" fill="#a3a394"/><ellipse cx="13.2" cy="25.0" rx="1.7" ry="0.9" transform="rotate(-33 13.2 25.0)" fill="#a3a394"/><ellipse cx="14.5" cy="24.3" rx="1.7" ry="0.9" transform="rotate(-22 14.5 24.3)" fill="#a3a394"/><ellipse cx="15.8" cy="23.8" rx="1.7" ry="0.9" transform="rotate(-10 15.8 23.8)" fill="#a3a394"/><ellipse cx="17.2" cy="23.7" rx="1.7" ry="0.9" transform="rotate(4 17.2 23.7)" fill="#a3a394"/><ellipse cx="18.5" cy="23.9" rx="1.7" ry="0.9" transform="rotate(17 18.5 23.9)" fill="#a3a394"/><ellipse cx="19.8" cy="24.4" rx="1.7" ry="0.9" transform="rotate(30 19.8 24.4)" fill="#a3a394"/><ellipse cx="21.0" cy="25.2" rx="1.7" ry="0.9" transform="rotate(41 21.0 25.2)" fill="#a3a394"/><ellipse cx="22.2" cy="26.4" rx="1.7" ry="0.9" transform="rotate(51 22.2 26.4)" fill="#a3a394"/><ellipse cx="23.4" cy="28.0" rx="1.7" ry="0.9" transform="rotate(59 23.4 28.0)" fill="#a3a394"/><ellipse cx="24.4" cy="29.8" rx="1.7" ry="0.9" transform="rotate(65 24.4 29.8)" fill="#a3a394"/><ellipse cx="25.4" cy="32.1" rx="1.7" ry="0.9" transform="rotate(70 25.4 32.1)" fill="#a3a394"/><ellipse cx="26.2" cy="34.7" rx="1.7" ry="0.9" transform="rotate(75 26.2 34.7)" fill="#a3a394"/><ellipse cx="27.0" cy="37.7" rx="1.7" ry="0.9" transform="rotate(0 27.0 37.7)" fill="#a3a394"/><path d="M5.7 44.4C10.2 29.9 18.0 27.6 20.3 42.2" fill="none" stroke="#9d9d8f" stroke-width="0.8"/><ellipse cx="11.2" cy="33.9" rx="1.7" ry="0.9" transform="rotate(-42 11.2 33.9)" fill="#a3a394"/><ellipse cx="12.1" cy="33.2" rx="1.7" ry="0.9" transform="rotate(-33 12.1 33.2)" fill="#a3a394"/><ellipse cx="13.0" cy="32.7" rx="1.7" ry="0.9" transform="rotate(-22 13.0 32.7)" fill="#a3a394"/><ellipse cx="13.8" cy="32.4" rx="1.7" ry="0.9" transform="rotate(-8 13.8 32.4)" fill="#a3a394"/><ellipse cx="14.6" cy="32.3" rx="1.7" ry="0.9" transform="rotate(7 14.6 32.3)" fill="#a3a394"/><ellipse cx="15.4" cy="32.5" rx="1.7" ry="0.9" transform="rotate(22 15.4 32.5)" fill="#a3a394"/><ellipse cx="16.2" cy="32.9" rx="1.7" ry="0.9" transform="rotate(36 16.2 32.9)" fill="#a3a394"/><ellipse cx="17.0" cy="33.5" rx="1.7" ry="0.9" transform="rotate(48 17.0 33.5)" fill="#a3a394"/><ellipse cx="17.7" cy="34.4" rx="1.7" ry="0.9" transform="rotate(57 17.7 34.4)" fill="#a3a394"/><ellipse cx="18.3" cy="35.4" rx="1.7" ry="0.9" transform="rotate(64 18.3 35.4)" fill="#a3a394"/><ellipse cx="18.9" cy="36.8" rx="1.7" ry="0.9" transform="rotate(70 18.9 36.8)" fill="#a3a394"/><ellipse cx="19.4" cy="38.3" rx="1.7" ry="0.9" transform="rotate(75 19.4 38.3)" fill="#a3a394"/><ellipse cx="19.9" cy="40.1" rx="1.7" ry="0.9" transform="rotate(79 19.9 40.1)" fill="#a3a394"/><ellipse cx="20.3" cy="42.2" rx="1.7" ry="0.9" transform="rotate(0 20.3 42.2)" fill="#a3a394"/><path d="M3.4 36.6C4.6 18.7 15.8 9.7 23.6 11.9" fill="none" stroke="#9d9d8f" stroke-width="0.8"/><ellipse cx="7.7" cy="21.2" rx="1.7" ry="0.9" transform="rotate(-59 7.7 21.2)" fill="#a3a394"/><ellipse cx="8.8" cy="19.5" rx="1.7" ry="0.9" transform="rotate(-55 8.8 19.5)" fill="#a3a394"/><ellipse cx="9.9" cy="18.0" rx="1.7" ry="0.9" transform="rotate(-51 9.9 18.0)" fill="#a3a394"/><ellipse cx="11.0" cy="16.7" rx="1.7" ry="0.9" transform="rotate(-46 11.0 16.7)" fill="#a3a394"/><ellipse cx="12.2" cy="15.5" rx="1.7" ry="0.9" transform="rotate(-41 12.2 15.5)" fill="#a3a394"/><ellipse cx="13.4" cy="14.5" rx="1.7" ry="0.9" transform="rotate(-36 13.4 14.5)" fill="#a3a394"/><ellipse cx="14.7" cy="13.6" rx="1.7" ry="0.9" transform="rotate(-31 14.7 13.6)" fill="#a3a394"/><ellipse cx="16.0" cy="12.9" rx="1.7" ry="0.9" transform="rotate(-25 16.0 12.9)" fill="#a3a394"/><ellipse cx="17.3" cy="12.3" rx="1.7" ry="0.9" transform="rotate(-19 17.3 12.3)" fill="#a3a394"/><ellipse cx="18.6" cy="11.9" rx="1.7" ry="0.9" transform="rotate(-13 18.6 11.9)" fill="#a3a394"/><ellipse cx="19.9" cy="11.7" rx="1.7" ry="0.9" transform="rotate(-6 19.9 11.7)" fill="#a3a394"/><ellipse cx="21.2" cy="11.6" rx="1.7" ry="0.9" transform="rotate(2 21.2 11.6)" fill="#a3a394"/><ellipse cx="22.4" cy="11.7" rx="1.7" ry="0.9" transform="rotate(9 22.4 11.7)" fill="#a3a394"/><ellipse cx="23.6" cy="11.9" rx="1.7" ry="0.9" transform="rotate(0 23.6 11.9)" fill="#a3a394"/></svg></div>
<div class="nm" style="left:1749.4px">Switchgrass</div>
<div class="sp" style="left:1749.4px;top:107px">(<i>P.</i><br><i>virgatum</i>)</div>
<div class="im" style="left:1749.4px"><svg width="136" height="120" viewBox="-68.0 0 136 120"><path d="M-0.6 115.1Q-18.9 85.9 -33.1 54.5Q-23.6 88.4 -0.6 115.1Z" fill="#cacaca" stroke="#b3b3b3" stroke-width="0.3" opacity="0.92"/><path d="M-0.6 115.1Q-18.6 94.1 -34.2 71.4Q-22.8 97.3 -0.6 115.1Z" fill="#cacaca" stroke="#b3b3b3" stroke-width="0.3" opacity="0.92"/><path d="M-0.6 115.1Q-17.5 98.3 -33.1 80.3Q-21.3 101.8 -0.6 115.1Z" fill="#cacaca" stroke="#b3b3b3" stroke-width="0.3" opacity="0.92"/><path d="M-0.6 115.1Q-16.5 101.8 -32.0 88.2Q-19.9 105.8 -0.6 115.1Z" fill="#cacaca" stroke="#b3b3b3" stroke-width="0.3" opacity="0.92"/><path d="M-0.6 115.1Q-15.0 106.8 -29.8 99.4Q-17.4 111.4 -0.6 115.1Z" fill="#cacaca" stroke="#b3b3b3" stroke-width="0.3" opacity="0.92"/><path d="M-0.6 115.1Q-12.5 109.5 -25.3 106.1Q-14.3 114.4 -0.6 115.1Z" fill="#cacaca" stroke="#b3b3b3" stroke-width="0.3" opacity="0.92"/><path d="M-0.6 115.1Q-8.9 110.0 -18.5 108.3Q-10.8 114.9 -0.6 115.1Z" fill="#cacaca" stroke="#b3b3b3" stroke-width="0.3" opacity="0.92"/><path d="M-0.6 115.1Q23.5 90.0 34.1 56.8Q19.0 87.3 -0.6 115.1Z" fill="#cacaca" stroke="#b3b3b3" stroke-width="0.3" opacity="0.92"/><path d="M-0.6 115.1Q22.7 98.3 35.3 72.5Q18.7 95.0 -0.6 115.1Z" fill="#cacaca" stroke="#b3b3b3" stroke-width="0.3" opacity="0.92"/><path d="M-0.6 115.1Q20.2 107.6 34.1 90.4Q17.2 103.3 -0.6 115.1Z" fill="#cacaca" stroke="#b3b3b3" stroke-width="0.3" opacity="0.92"/><path d="M-0.6 115.1Q17.4 111.8 30.8 99.4Q15.0 107.1 -0.6 115.1Z" fill="#cacaca" stroke="#b3b3b3" stroke-width="0.3" opacity="0.92"/><path d="M-0.6 115.1Q13.1 114.4 24.1 106.1Q11.3 109.5 -0.6 115.1Z" fill="#cacaca" stroke="#b3b3b3" stroke-width="0.3" opacity="0.92"/><path d="M-0.6 115.1Q9.4 115.5 17.3 109.5Q7.8 110.5 -0.6 115.1Z" fill="#cacaca" stroke="#b3b3b3" stroke-width="0.3" opacity="0.92"/><path d="M-0.6 115.1Q-13.1 77.3 -23.0 38.8Q-18.1 78.8 -0.6 115.1Z" fill="#cacaca" stroke="#b3b3b3" stroke-width="0.3" opacity="0.92"/><path d="M-0.6 115.1Q-8.7 74.8 -16.3 34.4Q-13.9 75.8 -0.6 115.1Z" fill="#cacaca" stroke="#b3b3b3" stroke-width="0.3" opacity="0.92"/><path d="M-0.6 115.1Q-4.2 71.3 -9.6 27.6Q-9.5 71.8 -0.6 115.1Z" fill="#cacaca" stroke="#b3b3b3" stroke-width="0.3" opacity="0.92"/><path d="M-0.6 115.1Q0.4 64.6 -2.9 14.2Q-4.9 64.7 -0.6 115.1Z" fill="#cacaca" stroke="#b3b3b3" stroke-width="0.3" opacity="0.92"/><path d="M-0.6 115.1Q5.2 68.2 3.9 20.9Q-0.0 67.9 -0.6 115.1Z" fill="#cacaca" stroke="#b3b3b3" stroke-width="0.3" opacity="0.92"/><path d="M-0.6 115.1Q11.3 72.2 12.8 27.6Q6.1 71.4 -0.6 115.1Z" fill="#cacaca" stroke="#b3b3b3" stroke-width="0.3" opacity="0.92"/><path d="M-0.6 115.1Q17.0 77.7 21.8 36.6Q12.0 76.2 -0.6 115.1Z" fill="#cacaca" stroke="#b3b3b3" stroke-width="0.3" opacity="0.92"/><path d="M-0.6 115.1Q19.6 81.7 26.3 43.3Q14.7 79.9 -0.6 115.1Z" fill="#cacaca" stroke="#b3b3b3" stroke-width="0.3" opacity="0.92"/><path d="M-0.6 115.1Q-14.9 88.6 -27.5 61.3Q-19.6 91.0 -0.6 115.1Z" fill="#cacaca" stroke="#b3b3b3" stroke-width="0.3" opacity="0.92"/><path d="M-0.6 115.1Q19.4 93.6 28.5 65.7Q14.9 91.0 -0.6 115.1Z" fill="#cacaca" stroke="#b3b3b3" stroke-width="0.3" opacity="0.92"/><path d="M-0.6 115.1Q-10.3 92.5 -20.8 70.2Q-15.1 94.6 -0.6 115.1Z" fill="#cacaca" stroke="#b3b3b3" stroke-width="0.3" opacity="0.92"/><path d="M-0.6 115.1Q13.6 97.0 19.6 74.7Q9.0 94.6 -0.6 115.1Z" fill="#cacaca" stroke="#b3b3b3" stroke-width="0.3" opacity="0.92"/><path d="M-0.6 115.1Q-3.8 83.5 -9.6 52.3Q-8.9 84.2 -0.6 115.1Z" fill="#cacaca" stroke="#b3b3b3" stroke-width="0.3" opacity="0.92"/><path d="M-0.6 115.1Q7.8 83.1 8.4 50.1Q2.6 82.4 -0.6 115.1Z" fill="#cacaca" stroke="#b3b3b3" stroke-width="0.3" opacity="0.92"/><path d="M-0.6 115.1Q-1.7 76.8 -6.2 38.8Q-7.0 77.2 -0.6 115.1Z" fill="#cacaca" stroke="#b3b3b3" stroke-width="0.3" opacity="0.92"/><path d="M-0.6 115.1Q5.8 77.2 5.0 38.8Q0.5 76.8 -0.6 115.1Z" fill="#cacaca" stroke="#b3b3b3" stroke-width="0.3" opacity="0.92"/><path d="M-0.6 115.1Q-16.8 91.1 -30.9 65.7Q-21.3 93.8 -0.6 115.1Z" fill="#cacaca" stroke="#b3b3b3" stroke-width="0.3" opacity="0.92"/><path d="M-0.6 115.1Q21.8 91.9 31.9 61.3Q17.3 89.2 -0.6 115.1Z" fill="#cacaca" stroke="#b3b3b3" stroke-width="0.3" opacity="0.92"/><path d="M-0.6 115.1Q-15.0 103.7 -29.8 92.7Q-18.2 107.8 -0.6 115.1Z" fill="#cacaca" stroke="#b3b3b3" stroke-width="0.3" opacity="0.92"/><path d="M-0.6 115.1Q19.1 103.4 30.8 83.7Q15.4 99.7 -0.6 115.1Z" fill="#cacaca" stroke="#b3b3b3" stroke-width="0.3" opacity="0.92"/><path d="M-0.6 115.1Q-11.1 106.2 -23.0 99.4Q-14.1 110.5 -0.6 115.1Z" fill="#cacaca" stroke="#b3b3b3" stroke-width="0.3" opacity="0.92"/><path d="M-0.6 115.1Q14.5 108.4 24.1 94.9Q11.2 104.3 -0.6 115.1Z" fill="#cacaca" stroke="#b3b3b3" stroke-width="0.3" opacity="0.92"/><path d="M-0.6 115.1Q-7.1 88.0 -15.2 61.3Q-12.2 89.3 -0.6 115.1Z" fill="#cacaca" stroke="#b3b3b3" stroke-width="0.3" opacity="0.92"/><path d="M-0.6 115.1Q11.0 88.2 14.0 59.0Q6.0 86.9 -0.6 115.1Z" fill="#cacaca" stroke="#b3b3b3" stroke-width="0.3" opacity="0.92"/><path d="M-0.6 115.1Q-4.5 100.9 -11.8 88.2Q-9.3 102.9 -0.6 115.1Z" fill="#cacaca" stroke="#b3b3b3" stroke-width="0.3" opacity="0.92"/><path d="M-0.6 115.1Q8.0 104.1 10.6 90.4Q3.2 101.9 -0.6 115.1Z" fill="#cacaca" stroke="#b3b3b3" stroke-width="0.3" opacity="0.92"/><path d="M-0.6 115.1Q2.0 80.3 -0.6 45.6Q-3.2 80.3 -0.6 115.1Z" fill="#cacaca" stroke="#b3b3b3" stroke-width="0.3" opacity="0.92"/><line x1="-10.2" y1="27.0" x2="-12.4" y2="23.2" stroke="#b5b5b5" stroke-width="1.1"/><line x1="13.2" y1="24.8" x2="15.7" y2="22.8" stroke="#b5b5b5" stroke-width="1.1"/><line x1="-12.8" y1="19.3" x2="-15.6" y2="16.6" stroke="#b5b5b5" stroke-width="1.1"/><line x1="-3.0" y1="12.0" x2="-1.5" y2="9.9" stroke="#b5b5b5" stroke-width="1.1"/><line x1="1.0" y1="30.6" x2="1.0" y2="26.7" stroke="#b5b5b5" stroke-width="1.1"/><line x1="-11.0" y1="35.3" x2="-13.5" y2="32.8" stroke="#b5b5b5" stroke-width="1.1"/><line x1="-4.2" y1="26.9" x2="-5.6" y2="24.7" stroke="#b5b5b5" stroke-width="1.1"/><line x1="-2.6" y1="41.1" x2="-4.5" y2="37.3" stroke="#b5b5b5" stroke-width="1.1"/><line x1="3.6" y1="21.2" x2="2.8" y2="18.3" stroke="#b5b5b5" stroke-width="1.1"/><line x1="12.1" y1="26.1" x2="14.6" y2="24.1" stroke="#b5b5b5" stroke-width="1.1"/><line x1="-4.6" y1="20.5" x2="-4.1" y2="16.7" stroke="#b5b5b5" stroke-width="1.1"/><line x1="1.0" y1="25.9" x2="-1.6" y2="22.9" stroke="#b5b5b5" stroke-width="1.1"/><line x1="5.7" y1="24.9" x2="5.7" y2="21.0" stroke="#b5b5b5" stroke-width="1.1"/><line x1="-9.4" y1="30.1" x2="-8.5" y2="28.1" stroke="#b5b5b5" stroke-width="1.1"/><line x1="-6.0" y1="20.5" x2="-5.3" y2="16.5" stroke="#b5b5b5" stroke-width="1.1"/><line x1="13.1" y1="29.0" x2="13.8" y2="26.9" stroke="#b5b5b5" stroke-width="1.1"/><line x1="-1.5" y1="43.2" x2="1.6" y2="41.1" stroke="#b5b5b5" stroke-width="1.1"/><line x1="1.7" y1="39.1" x2="-1.2" y2="36.5" stroke="#b5b5b5" stroke-width="1.1"/><line x1="-5.8" y1="11.3" x2="-4.1" y2="9.3" stroke="#b5b5b5" stroke-width="1.1"/><line x1="-9.0" y1="38.8" x2="-8.5" y2="36.0" stroke="#b5b5b5" stroke-width="1.1"/><line x1="-14.0" y1="35.2" x2="-13.6" y2="33.3" stroke="#b5b5b5" stroke-width="1.1"/><line x1="3.7" y1="13.9" x2="3.2" y2="11.6" stroke="#b5b5b5" stroke-width="1.1"/><line x1="-9.1" y1="28.0" x2="-11.7" y2="24.8" stroke="#b5b5b5" stroke-width="1.1"/><line x1="13.2" y1="34.4" x2="10.2" y2="30.9" stroke="#b5b5b5" stroke-width="1.1"/><line x1="5.0" y1="11.7" x2="6.3" y2="9.3" stroke="#b5b5b5" stroke-width="1.1"/><line x1="-0.4" y1="11.9" x2="-2.1" y2="7.9" stroke="#b5b5b5" stroke-width="1.1"/><line x1="-8.4" y1="31.1" x2="-6.1" y2="28.4" stroke="#b5b5b5" stroke-width="1.1"/><line x1="-3.2" y1="17.4" x2="-1.0" y2="15.0" stroke="#b5b5b5" stroke-width="1.1"/><line x1="17.3" y1="30.1" x2="15.3" y2="26.2" stroke="#b5b5b5" stroke-width="1.1"/><line x1="14.4" y1="23.0" x2="11.4" y2="21.1" stroke="#b5b5b5" stroke-width="1.1"/><line x1="3.4" y1="35.8" x2="4.1" y2="31.8" stroke="#b5b5b5" stroke-width="1.1"/><line x1="-3.6" y1="29.9" x2="-3.2" y2="27.8" stroke="#b5b5b5" stroke-width="1.1"/><line x1="12.0" y1="31.6" x2="13.2" y2="29.7" stroke="#b5b5b5" stroke-width="1.1"/><line x1="-13.8" y1="29.1" x2="-12.2" y2="26.4" stroke="#b5b5b5" stroke-width="1.1"/><line x1="6.1" y1="19.2" x2="7.5" y2="15.6" stroke="#b5b5b5" stroke-width="1.1"/><line x1="9.7" y1="15.1" x2="7.2" y2="13.2" stroke="#b5b5b5" stroke-width="1.1"/><line x1="-6.8" y1="22.8" x2="-6.0" y2="20.9" stroke="#b5b5b5" stroke-width="1.1"/><line x1="2.1" y1="15.4" x2="-1.0" y2="13.3" stroke="#b5b5b5" stroke-width="1.1"/><line x1="-12.4" y1="28.1" x2="-13.1" y2="25.9" stroke="#b5b5b5" stroke-width="1.1"/><line x1="-16.8" y1="26.4" x2="-16.6" y2="22.5" stroke="#b5b5b5" stroke-width="1.1"/><line x1="18.1" y1="27.7" x2="20.5" y2="24.7" stroke="#b5b5b5" stroke-width="1.1"/><line x1="-12.5" y1="22.2" x2="-9.9" y2="20.3" stroke="#b5b5b5" stroke-width="1.1"/><line x1="-7.7" y1="13.3" x2="-9.0" y2="9.9" stroke="#b5b5b5" stroke-width="1.1"/><line x1="-0.5" y1="18.2" x2="0.7" y2="15.4" stroke="#b5b5b5" stroke-width="1.1"/><line x1="-13.8" y1="25.2" x2="-16.6" y2="22.1" stroke="#b5b5b5" stroke-width="1.1"/><line x1="-11.2" y1="37.0" x2="-12.9" y2="33.4" stroke="#b5b5b5" stroke-width="1.1"/><line x1="-1.3" y1="9.3" x2="1.1" y2="7.5" stroke="#b5b5b5" stroke-width="1.1"/><line x1="-11.0" y1="15.7" x2="-9.9" y2="13.0" stroke="#b5b5b5" stroke-width="1.1"/><line x1="7.6" y1="27.7" x2="8.3" y2="25.5" stroke="#b5b5b5" stroke-width="1.1"/><line x1="10.3" y1="28.8" x2="10.1" y2="25.8" stroke="#b5b5b5" stroke-width="1.1"/><line x1="16.1" y1="27.0" x2="15.1" y2="23.4" stroke="#b5b5b5" stroke-width="1.1"/><line x1="18.0" y1="25.3" x2="18.6" y2="21.3" stroke="#b5b5b5" stroke-width="1.1"/><line x1="16.8" y1="22.8" x2="14.3" y2="20.2" stroke="#b5b5b5" stroke-width="1.1"/><line x1="2.4" y1="41.0" x2="0.4" y2="38.7" stroke="#b5b5b5" stroke-width="1.1"/><line x1="5.3" y1="28.5" x2="8.0" y2="24.5" stroke="#b5b5b5" stroke-width="1.1"/><line x1="-10.2" y1="36.1" x2="-10.4" y2="33.1" stroke="#b5b5b5" stroke-width="1.1"/><line x1="-9.2" y1="35.4" x2="-10.9" y2="33.0" stroke="#b5b5b5" stroke-width="1.1"/><line x1="-7.4" y1="23.3" x2="-7.8" y2="19.4" stroke="#b5b5b5" stroke-width="1.1"/><line x1="6.2" y1="25.1" x2="8.1" y2="23.2" stroke="#b5b5b5" stroke-width="1.1"/><line x1="0.4" y1="41.9" x2="1.0" y2="39.6" stroke="#b5b5b5" stroke-width="1.1"/><line x1="9.3" y1="27.9" x2="8.0" y2="24.3" stroke="#b5b5b5" stroke-width="1.1"/><line x1="16.2" y1="21.7" x2="18.8" y2="17.8" stroke="#b5b5b5" stroke-width="1.1"/><line x1="5.9" y1="23.1" x2="4.8" y2="20.7" stroke="#b5b5b5" stroke-width="1.1"/><line x1="-9.5" y1="16.1" x2="-10.4" y2="12.5" stroke="#b5b5b5" stroke-width="1.1"/><line x1="-6.1" y1="29.4" x2="-7.5" y2="26.6" stroke="#b5b5b5" stroke-width="1.1"/><line x1="-9.9" y1="15.1" x2="-10.3" y2="12.9" stroke="#b5b5b5" stroke-width="1.1"/><line x1="-7.8" y1="30.5" x2="-9.9" y2="27.5" stroke="#b5b5b5" stroke-width="1.1"/><line x1="6.2" y1="39.2" x2="7.2" y2="37.1" stroke="#b5b5b5" stroke-width="1.1"/><line x1="-6.8" y1="16.4" x2="-7.2" y2="13.3" stroke="#b5b5b5" stroke-width="1.1"/><line x1="1.7" y1="6.4" x2="3.2" y2="4.1" stroke="#b5b5b5" stroke-width="1.1"/><line x1="-9.5" y1="21.4" x2="-12.5" y2="18.4" stroke="#b5b5b5" stroke-width="1.1"/><line x1="-15.9" y1="27.5" x2="-17.0" y2="23.9" stroke="#b5b5b5" stroke-width="1.1"/><line x1="-5.1" y1="23.7" x2="-3.7" y2="21.3" stroke="#b5b5b5" stroke-width="1.1"/><line x1="-4.2" y1="23.2" x2="-7.2" y2="19.3" stroke="#b5b5b5" stroke-width="1.1"/><line x1="7.2" y1="26.2" x2="5.1" y2="24.2" stroke="#b5b5b5" stroke-width="1.1"/><line x1="-6.2" y1="14.6" x2="-3.7" y2="11.7" stroke="#b5b5b5" stroke-width="1.1"/><line x1="10.4" y1="36.1" x2="9.5" y2="33.7" stroke="#b5b5b5" stroke-width="1.1"/><line x1="-4.3" y1="35.0" x2="-6.2" y2="31.8" stroke="#b5b5b5" stroke-width="1.1"/><line x1="9.7" y1="13.7" x2="6.6" y2="10.3" stroke="#b5b5b5" stroke-width="1.1"/><line x1="12.8" y1="25.9" x2="15.1" y2="22.6" stroke="#b5b5b5" stroke-width="1.1"/><line x1="-0.5" y1="31.4" x2="-0.8" y2="28.1" stroke="#b5b5b5" stroke-width="1.1"/><line x1="1.7" y1="35.2" x2="3.2" y2="32.6" stroke="#b5b5b5" stroke-width="1.1"/><line x1="-10.2" y1="15.9" x2="-7.5" y2="14.1" stroke="#b5b5b5" stroke-width="1.1"/><line x1="6.7" y1="39.8" x2="7.7" y2="37.8" stroke="#b5b5b5" stroke-width="1.1"/><line x1="6.0" y1="30.8" x2="6.2" y2="27.0" stroke="#b5b5b5" stroke-width="1.1"/><line x1="2.2" y1="32.7" x2="3.4" y2="29.9" stroke="#b5b5b5" stroke-width="1.1"/><line x1="14.5" y1="18.0" x2="14.5" y2="16.0" stroke="#b5b5b5" stroke-width="1.1"/><line x1="4.6" y1="13.0" x2="4.3" y2="9.8" stroke="#b5b5b5" stroke-width="1.1"/><line x1="13.5" y1="21.1" x2="16.2" y2="17.1" stroke="#b5b5b5" stroke-width="1.1"/><line x1="9.7" y1="30.0" x2="12.2" y2="26.5" stroke="#b5b5b5" stroke-width="1.1"/><line x1="8.1" y1="22.7" x2="8.3" y2="18.8" stroke="#b5b5b5" stroke-width="1.1"/><line x1="-13.7" y1="20.4" x2="-10.7" y2="18.2" stroke="#b5b5b5" stroke-width="1.1"/><line x1="16.1" y1="30.4" x2="16.6" y2="28.1" stroke="#b5b5b5" stroke-width="1.1"/><line x1="5.2" y1="15.4" x2="2.9" y2="13.0" stroke="#b5b5b5" stroke-width="1.1"/><line x1="11.6" y1="27.0" x2="13.4" y2="24.2" stroke="#b5b5b5" stroke-width="1.1"/><line x1="4.1" y1="23.4" x2="2.0" y2="21.3" stroke="#b5b5b5" stroke-width="1.1"/><line x1="-6.6" y1="20.4" x2="-5.6" y2="17.5" stroke="#b5b5b5" stroke-width="1.1"/><line x1="6.9" y1="33.9" x2="9.8" y2="31.2" stroke="#b5b5b5" stroke-width="1.1"/><line x1="-2.2" y1="37.2" x2="-4.2" y2="33.5" stroke="#b5b5b5" stroke-width="1.1"/><line x1="-3.1" y1="19.8" x2="-0.2" y2="16.9" stroke="#b5b5b5" stroke-width="1.1"/><line x1="0.2" y1="39.2" x2="3.0" y2="36.6" stroke="#b5b5b5" stroke-width="1.1"/><line x1="8.5" y1="25.0" x2="5.7" y2="22.0" stroke="#b5b5b5" stroke-width="1.1"/><line x1="-5.7" y1="40.6" x2="-7.6" y2="38.7" stroke="#b5b5b5" stroke-width="1.1"/><line x1="-5.6" y1="25.7" x2="-6.8" y2="23.4" stroke="#b5b5b5" stroke-width="1.1"/><line x1="6.8" y1="37.9" x2="9.5" y2="35.3" stroke="#b5b5b5" stroke-width="1.1"/><line x1="-6.1" y1="16.0" x2="-3.5" y2="13.0" stroke="#b5b5b5" stroke-width="1.1"/><line x1="15.7" y1="27.3" x2="13.9" y2="25.4" stroke="#b5b5b5" stroke-width="1.1"/><line x1="16.8" y1="26.4" x2="18.2" y2="23.8" stroke="#b5b5b5" stroke-width="1.1"/><line x1="-13.6" y1="18.6" x2="-16.2" y2="15.2" stroke="#b5b5b5" stroke-width="1.1"/><line x1="13.2" y1="29.5" x2="13.2" y2="25.8" stroke="#b5b5b5" stroke-width="1.1"/><line x1="-9.1" y1="36.0" x2="-6.6" y2="33.4" stroke="#b5b5b5" stroke-width="1.1"/><line x1="-16.4" y1="22.5" x2="-19.3" y2="18.6" stroke="#b5b5b5" stroke-width="1.1"/><line x1="-4.2" y1="36.2" x2="-5.5" y2="32.6" stroke="#b5b5b5" stroke-width="1.1"/><line x1="-14.7" y1="20.9" x2="-17.2" y2="17.1" stroke="#b5b5b5" stroke-width="1.1"/><line x1="6.9" y1="10.1" x2="5.1" y2="7.7" stroke="#b5b5b5" stroke-width="1.1"/><line x1="-3.9" y1="25.7" x2="-1.0" y2="23.0" stroke="#b5b5b5" stroke-width="1.1"/><line x1="7.9" y1="21.9" x2="8.8" y2="18.3" stroke="#b5b5b5" stroke-width="1.1"/><line x1="-6.7" y1="14.5" x2="-9.7" y2="11.7" stroke="#b5b5b5" stroke-width="1.1"/><line x1="-12.9" y1="36.1" x2="-10.0" y2="32.1" stroke="#b5b5b5" stroke-width="1.1"/><line x1="7.8" y1="23.3" x2="4.9" y2="20.8" stroke="#b5b5b5" stroke-width="1.1"/><line x1="6.7" y1="24.6" x2="7.2" y2="22.4" stroke="#b5b5b5" stroke-width="1.1"/><line x1="-8.0" y1="16.7" x2="-9.4" y2="12.8" stroke="#b5b5b5" stroke-width="1.1"/><line x1="7.1" y1="40.8" x2="7.2" y2="37.5" stroke="#b5b5b5" stroke-width="1.1"/><line x1="10.1" y1="37.2" x2="12.5" y2="35.0" stroke="#b5b5b5" stroke-width="1.1"/><line x1="-13.8" y1="26.9" x2="-13.9" y2="23.4" stroke="#b5b5b5" stroke-width="1.1"/><line x1="-5.7" y1="15.9" x2="-4.5" y2="12.3" stroke="#b5b5b5" stroke-width="1.1"/><line x1="-12.9" y1="27.6" x2="-12.1" y2="24.7" stroke="#b5b5b5" stroke-width="1.1"/><line x1="10.2" y1="30.7" x2="12.0" y2="27.3" stroke="#b5b5b5" stroke-width="1.1"/><line x1="11.6" y1="30.2" x2="12.1" y2="27.2" stroke="#b5b5b5" stroke-width="1.1"/><line x1="9.0" y1="36.7" x2="10.2" y2="33.7" stroke="#b5b5b5" stroke-width="1.1"/><line x1="13.2" y1="18.9" x2="10.1" y2="16.5" stroke="#b5b5b5" stroke-width="1.1"/><line x1="-1.0" y1="19.1" x2="1.9" y2="15.8" stroke="#b5b5b5" stroke-width="1.1"/><line x1="1.2" y1="16.4" x2="-1.9" y2="12.7" stroke="#b5b5b5" stroke-width="1.1"/><line x1="-11.4" y1="23.4" x2="-11.3" y2="19.9" stroke="#b5b5b5" stroke-width="1.1"/><line x1="-10.5" y1="36.3" x2="-12.6" y2="32.3" stroke="#b5b5b5" stroke-width="1.1"/><line x1="-2.9" y1="14.1" x2="-3.0" y2="10.4" stroke="#b5b5b5" stroke-width="1.1"/><line x1="-6.3" y1="38.4" x2="-3.8" y2="34.5" stroke="#b5b5b5" stroke-width="1.1"/><line x1="-0.1" y1="41.2" x2="0.6" y2="37.6" stroke="#b5b5b5" stroke-width="1.1"/><line x1="11.0" y1="29.4" x2="10.7" y2="25.8" stroke="#b5b5b5" stroke-width="1.1"/><line x1="-3.0" y1="25.4" x2="-4.8" y2="21.8" stroke="#b5b5b5" stroke-width="1.1"/><line x1="10.6" y1="14.6" x2="7.9" y2="11.1" stroke="#b5b5b5" stroke-width="1.1"/><line x1="6.9" y1="16.7" x2="6.8" y2="14.2" stroke="#b5b5b5" stroke-width="1.1"/><line x1="15.0" y1="29.7" x2="12.9" y2="27.7" stroke="#b5b5b5" stroke-width="1.1"/><line x1="5.2" y1="21.1" x2="6.8" y2="17.5" stroke="#b5b5b5" stroke-width="1.1"/><line x1="0.5" y1="35.9" x2="-1.3" y2="32.5" stroke="#b5b5b5" stroke-width="1.1"/><line x1="15.8" y1="21.6" x2="15.7" y2="18.6" stroke="#b5b5b5" stroke-width="1.1"/><line x1="-12.2" y1="33.1" x2="-13.6" y2="30.7" stroke="#b5b5b5" stroke-width="1.1"/><line x1="-2.5" y1="15.2" x2="0.6" y2="11.8" stroke="#b5b5b5" stroke-width="1.1"/><line x1="1.6" y1="26.8" x2="2.2" y2="24.7" stroke="#b5b5b5" stroke-width="1.1"/><line x1="-13.4" y1="24.3" x2="-11.4" y2="21.6" stroke="#b5b5b5" stroke-width="1.1"/><line x1="-20.2" y1="47.1" x2="-22.4" y2="44.5" stroke="#b5b5b5" stroke-width="1.1"/><line x1="-16.9" y1="40.0" x2="-14.3" y2="37.8" stroke="#b5b5b5" stroke-width="1.1"/><line x1="-26.0" y1="40.1" x2="-26.2" y2="37.3" stroke="#b5b5b5" stroke-width="1.1"/><line x1="-24.3" y1="41.4" x2="-21.9" y2="37.5" stroke="#b5b5b5" stroke-width="1.1"/><line x1="-19.2" y1="38.4" x2="-18.7" y2="36.1" stroke="#b5b5b5" stroke-width="1.1"/><line x1="-26.3" y1="46.8" x2="-27.7" y2="44.5" stroke="#b5b5b5" stroke-width="1.1"/><line x1="-16.8" y1="36.3" x2="-18.4" y2="34.0" stroke="#b5b5b5" stroke-width="1.1"/><line x1="-15.9" y1="45.1" x2="-17.8" y2="42.9" stroke="#b5b5b5" stroke-width="1.1"/><line x1="-15.7" y1="36.4" x2="-14.4" y2="33.0" stroke="#b5b5b5" stroke-width="1.1"/><line x1="-19.7" y1="41.9" x2="-20.2" y2="39.3" stroke="#b5b5b5" stroke-width="1.1"/><line x1="-18.9" y1="36.7" x2="-19.1" y2="34.2" stroke="#b5b5b5" stroke-width="1.1"/><line x1="-22.4" y1="48.3" x2="-22.0" y2="45.0" stroke="#b5b5b5" stroke-width="1.1"/><line x1="-18.9" y1="34.4" x2="-17.2" y2="30.6" stroke="#b5b5b5" stroke-width="1.1"/><line x1="-17.7" y1="42.6" x2="-15.6" y2="38.7" stroke="#b5b5b5" stroke-width="1.1"/><line x1="-23.6" y1="36.9" x2="-24.6" y2="34.9" stroke="#b5b5b5" stroke-width="1.1"/><line x1="-24.1" y1="35.7" x2="-27.1" y2="32.9" stroke="#b5b5b5" stroke-width="1.1"/><line x1="-27.0" y1="41.9" x2="-24.9" y2="38.5" stroke="#b5b5b5" stroke-width="1.1"/><line x1="-26.4" y1="45.8" x2="-28.3" y2="42.2" stroke="#b5b5b5" stroke-width="1.1"/><line x1="-19.0" y1="42.9" x2="-19.4" y2="38.9" stroke="#b5b5b5" stroke-width="1.1"/><line x1="-24.4" y1="48.5" x2="-26.2" y2="46.3" stroke="#b5b5b5" stroke-width="1.1"/><line x1="-24.4" y1="34.9" x2="-22.4" y2="32.6" stroke="#b5b5b5" stroke-width="1.1"/><line x1="-19.9" y1="38.7" x2="-20.7" y2="35.1" stroke="#b5b5b5" stroke-width="1.1"/><line x1="-20.2" y1="38.6" x2="-18.7" y2="36.3" stroke="#b5b5b5" stroke-width="1.1"/><line x1="-26.6" y1="45.3" x2="-24.4" y2="41.7" stroke="#b5b5b5" stroke-width="1.1"/><line x1="-18.3" y1="49.0" x2="-15.8" y2="45.8" stroke="#b5b5b5" stroke-width="1.1"/><line x1="-24.8" y1="43.5" x2="-25.3" y2="40.0" stroke="#b5b5b5" stroke-width="1.1"/><line x1="18.8" y1="40.0" x2="17.0" y2="37.7" stroke="#b5b5b5" stroke-width="1.1"/><line x1="23.6" y1="49.6" x2="23.8" y2="47.0" stroke="#b5b5b5" stroke-width="1.1"/><line x1="23.6" y1="45.9" x2="23.5" y2="43.5" stroke="#b5b5b5" stroke-width="1.1"/><line x1="26.9" y1="45.8" x2="26.8" y2="43.4" stroke="#b5b5b5" stroke-width="1.1"/><line x1="20.0" y1="46.2" x2="19.6" y2="42.7" stroke="#b5b5b5" stroke-width="1.1"/><line x1="18.6" y1="48.6" x2="19.6" y2="46.3" stroke="#b5b5b5" stroke-width="1.1"/><line x1="24.7" y1="39.9" x2="23.3" y2="36.3" stroke="#b5b5b5" stroke-width="1.1"/><line x1="15.9" y1="43.2" x2="15.4" y2="39.3" stroke="#b5b5b5" stroke-width="1.1"/><line x1="26.6" y1="42.3" x2="27.4" y2="38.6" stroke="#b5b5b5" stroke-width="1.1"/><line x1="20.9" y1="43.8" x2="18.8" y2="41.6" stroke="#b5b5b5" stroke-width="1.1"/><line x1="15.0" y1="39.6" x2="16.3" y2="36.4" stroke="#b5b5b5" stroke-width="1.1"/><line x1="15.3" y1="53.5" x2="18.2" y2="50.7" stroke="#b5b5b5" stroke-width="1.1"/><line x1="19.0" y1="52.6" x2="20.0" y2="49.1" stroke="#b5b5b5" stroke-width="1.1"/><line x1="16.7" y1="50.3" x2="16.4" y2="48.2" stroke="#b5b5b5" stroke-width="1.1"/><line x1="15.0" y1="43.0" x2="13.4" y2="40.5" stroke="#b5b5b5" stroke-width="1.1"/><line x1="25.9" y1="45.1" x2="24.1" y2="42.9" stroke="#b5b5b5" stroke-width="1.1"/><line x1="15.1" y1="45.2" x2="14.6" y2="43.1" stroke="#b5b5b5" stroke-width="1.1"/><line x1="20.9" y1="44.2" x2="18.0" y2="41.3" stroke="#b5b5b5" stroke-width="1.1"/><line x1="16.4" y1="41.7" x2="17.9" y2="38.8" stroke="#b5b5b5" stroke-width="1.1"/><line x1="18.9" y1="47.5" x2="20.3" y2="44.3" stroke="#b5b5b5" stroke-width="1.1"/><line x1="26.3" y1="50.1" x2="25.4" y2="46.2" stroke="#b5b5b5" stroke-width="1.1"/><line x1="14.6" y1="41.8" x2="12.3" y2="39.0" stroke="#b5b5b5" stroke-width="1.1"/><line x1="18.9" y1="45.0" x2="19.7" y2="42.3" stroke="#b5b5b5" stroke-width="1.1"/><line x1="20.5" y1="49.5" x2="23.0" y2="45.6" stroke="#b5b5b5" stroke-width="1.1"/><line x1="19.0" y1="44.9" x2="22.0" y2="41.2" stroke="#b5b5b5" stroke-width="1.1"/><line x1="25.4" y1="40.6" x2="24.2" y2="37.8" stroke="#b5b5b5" stroke-width="1.1"/></svg></div>
<div class="nm" style="left:1885.1px">Sorghum</div>
<div class="sp" style="left:1885.1px;top:122px">(<i>S. bicolor</i>)</div>
<div class="im" style="left:1885.1px"><svg width="136" height="120" viewBox="-68.0 0 136 120"><path d="M-1.3 115.1Q-1.3 69.1 -1.3 23.1" fill="none" stroke="#9e9e9c" stroke-width="2.0" stroke-linecap="round" opacity="1.0"/><ellipse cx="-2.0" cy="116.2" rx="5" ry="1.2" fill="#a0a09e"/><path d="M-2.4 36.6Q-11.4 20.2 -17.0 31.0Q-11.4 30.6 -2.4 39.6Z" fill="#c9c9c7" stroke="#8f8f8d" stroke-width="0.5"/><path d="M-0.2 33.9Q9.9 22.4 16.6 36.2Q9.9 32.8 -0.2 36.9Z" fill="#c9c9c7" stroke="#8f8f8d" stroke-width="0.5"/><path d="M-2.4 50.5Q-17.0 32.5 -22.6 47.4Q-17.0 42.9 -2.4 53.5Z" fill="#c9c9c7" stroke="#8f8f8d" stroke-width="0.5"/><path d="M-0.2 51.8Q12.2 35.9 17.8 52.7Q12.2 46.3 -0.2 54.8Z" fill="#c9c9c7" stroke="#8f8f8d" stroke-width="0.5"/><path d="M-2.4 66.2Q-19.2 46.0 -26.0 61.7Q-19.2 56.4 -2.4 69.2Z" fill="#c9c9c7" stroke="#8f8f8d" stroke-width="0.5"/><path d="M-0.2 68.4Q14.4 52.7 21.1 69.8Q14.4 63.1 -0.2 71.4Z" fill="#c9c9c7" stroke="#8f8f8d" stroke-width="0.5"/><path d="M-2.4 84.1Q-18.1 61.7 -26.0 81.0Q-18.1 72.1 -2.4 87.1Z" fill="#c9c9c7" stroke="#8f8f8d" stroke-width="0.5"/><path d="M-0.2 84.1Q12.2 68.4 21.6 86.4Q12.2 78.8 -0.2 87.1Z" fill="#c9c9c7" stroke="#8f8f8d" stroke-width="0.5"/><path d="M-2.4 97.6Q-15.9 79.6 -26.0 96.7Q-15.9 90.0 -2.4 100.6Z" fill="#c9c9c7" stroke="#8f8f8d" stroke-width="0.5"/><path d="M-0.2 99.8Q11.0 83.0 19.3 102.1Q11.0 93.4 -0.2 102.8Z" fill="#c9c9c7" stroke="#8f8f8d" stroke-width="0.5"/><ellipse cx="-1.3" cy="13.7" rx="6.1" ry="10.8" fill="#a5a5a3" stroke="#858583" stroke-width="0.5"/><circle cx="-4.1" cy="13.0" r="0.9" fill="#777775"/><circle cx="-0.6" cy="8.5" r="0.9" fill="#777775"/><circle cx="-4.1" cy="15.7" r="0.9" fill="#777775"/><circle cx="2.6" cy="13.0" r="0.9" fill="#777775"/><circle cx="2.4" cy="20.1" r="0.9" fill="#777775"/><circle cx="1.8" cy="11.2" r="0.9" fill="#777775"/><circle cx="0.4" cy="20.6" r="0.9" fill="#777775"/><circle cx="-3.3" cy="15.1" r="0.9" fill="#777775"/><circle cx="-4.3" cy="19.1" r="0.9" fill="#777775"/><circle cx="-3.1" cy="13.0" r="0.9" fill="#777775"/><circle cx="2.2" cy="11.8" r="0.9" fill="#777775"/><circle cx="1.4" cy="8.8" r="0.9" fill="#777775"/><circle cx="-1.4" cy="16.6" r="0.9" fill="#777775"/><circle cx="-5.1" cy="20.0" r="0.9" fill="#777775"/><circle cx="-3.4" cy="6.9" r="0.9" fill="#777775"/><circle cx="1.9" cy="8.6" r="0.9" fill="#777775"/><circle cx="1.3" cy="15.4" r="0.9" fill="#777775"/><circle cx="-3.4" cy="8.0" r="0.9" fill="#777775"/></svg></div>
<div class="nm" style="left:2020.8px">Teosinte</div>
<div class="sp" style="left:2020.8px;top:107px">(<i>Zea</i><br><i>diploperennis</i>)</div>
<div class="im" style="left:2020.8px"><svg width="136" height="120" viewBox="-68.0 0 136 120"><path d="M-15.8 110.0Q-13.8 69.0 -16.8 28.0" fill="none" stroke="#4f463f" stroke-width="0.8" stroke-linecap="round" opacity="1.0"/><path d="M-10.8 108.0Q-5.9 71.2 -5.4 34.0" fill="none" stroke="#4f463f" stroke-width="0.8" stroke-linecap="round" opacity="1.0"/><path d="M-1.8 105.0Q3.4 71.7 4.6 38.0" fill="none" stroke="#4f463f" stroke-width="0.8" stroke-linecap="round" opacity="1.0"/><path d="M-18.8 90.0Q-27.1 61.4 -38.8 34.0" fill="none" stroke="#4f463f" stroke-width="0.8" stroke-linecap="round" opacity="1.0"/><path d="M-16.2 26.0Q-20.0 24.3 -23.8 24.7" fill="none" stroke="#4f463f" stroke-width="0.55"/><path d="M-19.6 25.4l-1.8 0.8M-19.6 25.4l-1.4 -1.4" stroke="#4f463f" stroke-width="0.4"/><path d="M-21.9 25.0l-1.8 0.8M-21.9 25.0l-1.4 -1.4" stroke="#4f463f" stroke-width="0.4"/><path d="M-16.2 26.0Q-20.1 22.8 -23.9 21.5" fill="none" stroke="#4f463f" stroke-width="0.55"/><path d="M-19.7 24.0l-2.0 0.2M-19.7 24.0l-0.9 -1.8" stroke="#4f463f" stroke-width="0.4"/><path d="M-22.0 22.6l-2.0 0.2M-22.0 22.6l-0.9 -1.8" stroke="#4f463f" stroke-width="0.4"/><path d="M-16.2 26.0Q-19.4 21.2 -22.6 18.3" fill="none" stroke="#4f463f" stroke-width="0.55"/><path d="M-19.1 22.5l-1.9 -0.5M-19.1 22.5l-0.2 -2.0" stroke="#4f463f" stroke-width="0.4"/><path d="M-21.0 20.2l-1.9 -0.5M-21.0 20.2l-0.2 -2.0" stroke="#4f463f" stroke-width="0.4"/><path d="M-16.2 26.0Q-18.0 19.9 -19.9 15.9" fill="none" stroke="#4f463f" stroke-width="0.55"/><path d="M-17.8 21.5l-1.6 -1.2M-17.8 21.5l0.5 -1.9" stroke="#4f463f" stroke-width="0.4"/><path d="M-18.9 18.4l-1.6 -1.2M-18.9 18.4l0.5 -1.9" stroke="#4f463f" stroke-width="0.4"/><path d="M-16.2 26.0Q-16.2 19.5 -16.2 15.0" fill="none" stroke="#4f463f" stroke-width="0.55"/><path d="M-16.2 21.1l-1.1 -1.7M-16.2 21.1l1.1 -1.7" stroke="#4f463f" stroke-width="0.4"/><path d="M-16.2 17.8l-1.1 -1.7M-16.2 17.8l1.1 -1.7" stroke="#4f463f" stroke-width="0.4"/><path d="M-16.2 26.0Q-14.3 19.9 -12.5 15.9" fill="none" stroke="#4f463f" stroke-width="0.55"/><path d="M-14.5 21.5l-0.5 -1.9M-14.5 21.5l1.6 -1.2" stroke="#4f463f" stroke-width="0.4"/><path d="M-13.4 18.4l-0.5 -1.9M-13.4 18.4l1.6 -1.2" stroke="#4f463f" stroke-width="0.4"/><path d="M-16.2 26.0Q-13.0 21.2 -9.7 18.3" fill="none" stroke="#4f463f" stroke-width="0.55"/><path d="M-13.3 22.5l0.2 -2.0M-13.3 22.5l1.9 -0.5" stroke="#4f463f" stroke-width="0.4"/><path d="M-11.3 20.2l0.2 -2.0M-11.3 20.2l1.9 -0.5" stroke="#4f463f" stroke-width="0.4"/><path d="M-16.2 26.0Q-12.3 22.8 -8.4 21.5" fill="none" stroke="#4f463f" stroke-width="0.55"/><path d="M-12.7 24.0l0.9 -1.8M-12.7 24.0l2.0 0.2" stroke="#4f463f" stroke-width="0.4"/><path d="M-10.4 22.6l0.9 -1.8M-10.4 22.6l2.0 0.2" stroke="#4f463f" stroke-width="0.4"/><path d="M-16.2 26.0Q-12.4 24.3 -8.6 24.7" fill="none" stroke="#4f463f" stroke-width="0.55"/><path d="M-12.8 25.4l1.4 -1.4M-12.8 25.4l1.8 0.8" stroke="#4f463f" stroke-width="0.4"/><path d="M-10.5 25.0l1.4 -1.4M-10.5 25.0l1.8 0.8" stroke="#4f463f" stroke-width="0.4"/><path d="M-4.2 29.0Q-7.3 27.5 -10.4 27.9" fill="none" stroke="#4f463f" stroke-width="0.55"/><path d="M-7.0 28.5l-1.8 0.8M-7.0 28.5l-1.4 -1.4" stroke="#4f463f" stroke-width="0.4"/><path d="M-8.8 28.2l-1.8 0.8M-8.8 28.2l-1.4 -1.4" stroke="#4f463f" stroke-width="0.4"/><path d="M-4.2 29.0Q-7.4 26.2 -10.5 25.3" fill="none" stroke="#4f463f" stroke-width="0.55"/><path d="M-7.0 27.4l-2.0 0.2M-7.0 27.4l-0.9 -1.8" stroke="#4f463f" stroke-width="0.4"/><path d="M-8.9 26.3l-2.0 0.2M-8.9 26.3l-0.9 -1.8" stroke="#4f463f" stroke-width="0.4"/><path d="M-4.2 29.0Q-6.8 24.9 -9.5 22.7" fill="none" stroke="#4f463f" stroke-width="0.55"/><path d="M-6.6 26.2l-1.9 -0.5M-6.6 26.2l-0.2 -2.0" stroke="#4f463f" stroke-width="0.4"/><path d="M-8.1 24.3l-1.9 -0.5M-8.1 24.3l-0.2 -2.0" stroke="#4f463f" stroke-width="0.4"/><path d="M-4.2 29.0Q-5.7 23.9 -7.2 20.7" fill="none" stroke="#4f463f" stroke-width="0.55"/><path d="M-5.5 25.3l-1.6 -1.2M-5.5 25.3l0.5 -1.9" stroke="#4f463f" stroke-width="0.4"/><path d="M-6.4 22.8l-1.6 -1.2M-6.4 22.8l0.5 -1.9" stroke="#4f463f" stroke-width="0.4"/><path d="M-4.2 29.0Q-4.2 23.5 -4.2 20.0" fill="none" stroke="#4f463f" stroke-width="0.55"/><path d="M-4.2 24.9l-1.1 -1.7M-4.2 24.9l1.1 -1.7" stroke="#4f463f" stroke-width="0.4"/><path d="M-4.2 22.2l-1.1 -1.7M-4.2 22.2l1.1 -1.7" stroke="#4f463f" stroke-width="0.4"/><path d="M-4.2 29.0Q-2.7 23.9 -1.2 20.7" fill="none" stroke="#4f463f" stroke-width="0.55"/><path d="M-2.8 25.3l-0.5 -1.9M-2.8 25.3l1.6 -1.2" stroke="#4f463f" stroke-width="0.4"/><path d="M-1.9 22.8l-0.5 -1.9M-1.9 22.8l1.6 -1.2" stroke="#4f463f" stroke-width="0.4"/><path d="M-4.2 29.0Q-1.5 24.9 1.1 22.7" fill="none" stroke="#4f463f" stroke-width="0.55"/><path d="M-1.8 26.2l0.2 -2.0M-1.8 26.2l1.9 -0.5" stroke="#4f463f" stroke-width="0.4"/><path d="M-0.2 24.3l0.2 -2.0M-0.2 24.3l1.9 -0.5" stroke="#4f463f" stroke-width="0.4"/><path d="M-4.2 29.0Q-1.0 26.2 2.2 25.3" fill="none" stroke="#4f463f" stroke-width="0.55"/><path d="M-1.3 27.4l0.9 -1.8M-1.3 27.4l2.0 0.2" stroke="#4f463f" stroke-width="0.4"/><path d="M0.6 26.3l0.9 -1.8M0.6 26.3l2.0 0.2" stroke="#4f463f" stroke-width="0.4"/><path d="M-4.2 29.0Q-1.1 27.5 2.0 27.9" fill="none" stroke="#4f463f" stroke-width="0.55"/><path d="M-1.4 28.5l1.4 -1.4M-1.4 28.5l1.8 0.8" stroke="#4f463f" stroke-width="0.4"/><path d="M0.5 28.2l1.4 -1.4M0.5 28.2l1.8 0.8" stroke="#4f463f" stroke-width="0.4"/><path d="M6.6 34.0Q3.5 32.5 0.4 32.9" fill="none" stroke="#4f463f" stroke-width="0.55"/><path d="M3.8 33.5l-1.8 0.8M3.8 33.5l-1.4 -1.4" stroke="#4f463f" stroke-width="0.4"/><path d="M2.0 33.2l-1.8 0.8M2.0 33.2l-1.4 -1.4" stroke="#4f463f" stroke-width="0.4"/><path d="M6.6 34.0Q3.4 31.2 0.3 30.3" fill="none" stroke="#4f463f" stroke-width="0.55"/><path d="M3.8 32.4l-2.0 0.2M3.8 32.4l-0.9 -1.8" stroke="#4f463f" stroke-width="0.4"/><path d="M1.9 31.3l-2.0 0.2M1.9 31.3l-0.9 -1.8" stroke="#4f463f" stroke-width="0.4"/><path d="M6.6 34.0Q4.0 29.9 1.3 27.7" fill="none" stroke="#4f463f" stroke-width="0.55"/><path d="M4.2 31.2l-1.9 -0.5M4.2 31.2l-0.2 -2.0" stroke="#4f463f" stroke-width="0.4"/><path d="M2.7 29.3l-1.9 -0.5M2.7 29.3l-0.2 -2.0" stroke="#4f463f" stroke-width="0.4"/><path d="M6.6 34.0Q5.1 28.9 3.6 25.7" fill="none" stroke="#4f463f" stroke-width="0.55"/><path d="M5.3 30.3l-1.6 -1.2M5.3 30.3l0.5 -1.9" stroke="#4f463f" stroke-width="0.4"/><path d="M4.4 27.8l-1.6 -1.2M4.4 27.8l0.5 -1.9" stroke="#4f463f" stroke-width="0.4"/><path d="M6.6 34.0Q6.6 28.5 6.6 25.0" fill="none" stroke="#4f463f" stroke-width="0.55"/><path d="M6.6 29.9l-1.1 -1.7M6.6 29.9l1.1 -1.7" stroke="#4f463f" stroke-width="0.4"/><path d="M6.6 27.2l-1.1 -1.7M6.6 27.2l1.1 -1.7" stroke="#4f463f" stroke-width="0.4"/><path d="M6.6 34.0Q8.1 28.9 9.6 25.7" fill="none" stroke="#4f463f" stroke-width="0.55"/><path d="M8.0 30.3l-0.5 -1.9M8.0 30.3l1.6 -1.2" stroke="#4f463f" stroke-width="0.4"/><path d="M8.9 27.8l-0.5 -1.9M8.9 27.8l1.6 -1.2" stroke="#4f463f" stroke-width="0.4"/><path d="M6.6 34.0Q9.3 29.9 11.9 27.7" fill="none" stroke="#4f463f" stroke-width="0.55"/><path d="M9.0 31.2l0.2 -2.0M9.0 31.2l1.9 -0.5" stroke="#4f463f" stroke-width="0.4"/><path d="M10.6 29.3l0.2 -2.0M10.6 29.3l1.9 -0.5" stroke="#4f463f" stroke-width="0.4"/><path d="M6.6 34.0Q9.8 31.2 13.0 30.3" fill="none" stroke="#4f463f" stroke-width="0.55"/><path d="M9.5 32.4l0.9 -1.8M9.5 32.4l2.0 0.2" stroke="#4f463f" stroke-width="0.4"/><path d="M11.4 31.3l0.9 -1.8M11.4 31.3l2.0 0.2" stroke="#4f463f" stroke-width="0.4"/><path d="M6.6 34.0Q9.7 32.5 12.8 32.9" fill="none" stroke="#4f463f" stroke-width="0.55"/><path d="M9.4 33.5l1.4 -1.4M9.4 33.5l1.8 0.8" stroke="#4f463f" stroke-width="0.4"/><path d="M11.3 33.2l1.4 -1.4M11.3 33.2l1.8 0.8" stroke="#4f463f" stroke-width="0.4"/><path d="M-39.8 31.0Q-42.5 29.5 -45.3 30.0" fill="none" stroke="#4f463f" stroke-width="0.55"/><path d="M-42.3 30.6l-1.8 0.8M-42.3 30.6l-1.4 -1.4" stroke="#4f463f" stroke-width="0.4"/><path d="M-43.9 30.3l-1.8 0.8M-43.9 30.3l-1.4 -1.4" stroke="#4f463f" stroke-width="0.4"/><path d="M-39.8 31.0Q-42.5 28.0 -45.2 26.9" fill="none" stroke="#4f463f" stroke-width="0.55"/><path d="M-42.2 29.2l-2.0 -0.1M-42.2 29.2l-0.6 -1.9" stroke="#4f463f" stroke-width="0.4"/><path d="M-43.9 28.0l-2.0 -0.1M-43.9 28.0l-0.6 -1.9" stroke="#4f463f" stroke-width="0.4"/><path d="M-39.8 31.0Q-41.5 26.6 -43.2 24.1" fill="none" stroke="#4f463f" stroke-width="0.55"/><path d="M-41.3 27.9l-1.7 -1.0M-41.3 27.9l0.3 -2.0" stroke="#4f463f" stroke-width="0.4"/><path d="M-42.4 25.9l-1.7 -1.0M-42.4 25.9l0.3 -2.0" stroke="#4f463f" stroke-width="0.4"/><path d="M-39.8 31.0Q-39.8 26.0 -39.8 23.0" fill="none" stroke="#4f463f" stroke-width="0.55"/><path d="M-39.8 27.4l-1.1 -1.7M-39.8 27.4l1.1 -1.7" stroke="#4f463f" stroke-width="0.4"/><path d="M-39.8 25.0l-1.1 -1.7M-39.8 25.0l1.1 -1.7" stroke="#4f463f" stroke-width="0.4"/><path d="M-39.8 31.0Q-38.1 26.6 -36.3 24.1" fill="none" stroke="#4f463f" stroke-width="0.55"/><path d="M-38.2 27.9l-0.3 -2.0M-38.2 27.9l1.7 -1.0" stroke="#4f463f" stroke-width="0.4"/><path d="M-37.2 25.9l-0.3 -2.0M-37.2 25.9l1.7 -1.0" stroke="#4f463f" stroke-width="0.4"/><path d="M-39.8 31.0Q-37.1 28.0 -34.3 26.9" fill="none" stroke="#4f463f" stroke-width="0.55"/><path d="M-37.3 29.2l0.6 -1.9M-37.3 29.2l2.0 -0.1" stroke="#4f463f" stroke-width="0.4"/><path d="M-35.7 28.0l0.6 -1.9M-35.7 28.0l2.0 -0.1" stroke="#4f463f" stroke-width="0.4"/><path d="M-39.8 31.0Q-37.0 29.5 -34.3 30.0" fill="none" stroke="#4f463f" stroke-width="0.55"/><path d="M-37.3 30.6l1.4 -1.4M-37.3 30.6l1.8 0.8" stroke="#4f463f" stroke-width="0.4"/><path d="M-35.6 30.3l1.4 -1.4M-35.6 30.3l1.8 0.8" stroke="#4f463f" stroke-width="0.4"/><path d="M-31.8 49.0C-40.2 50.1 -47.3 60.1 -50.8 68.0C-44.0 63.4 -36.0 54.3 -31.8 49.0Z" fill="#fbf9f5" stroke="#4f463f" stroke-width="0.6"/><path d="M-35.5 50.9L-47.5 63.6" stroke="#6d635a" stroke-width="0.4"/><path d="M-27.8 57.0C-31.3 66.0 -28.8 81.6 -25.8 92.0C-25.2 81.4 -26.7 65.7 -27.8 57.0Z" fill="#fbf9f5" stroke="#4f463f" stroke-width="0.6"/><path d="M-28.5 62.3L-26.8 85.0" stroke="#6d635a" stroke-width="0.4"/><path d="M-16.8 34.0C-23.1 41.3 -23.1 56.0 -21.4 66.0C-18.5 56.6 -17.2 42.1 -16.8 34.0Z" fill="#fbf9f5" stroke="#4f463f" stroke-width="0.6"/><path d="M-18.8 38.6L-21.2 59.5" stroke="#6d635a" stroke-width="0.4"/><path d="M-15.8 37.0C-18.9 44.3 -14.9 55.7 -10.8 63.0C-11.0 55.0 -13.9 43.4 -15.8 37.0Z" fill="#fbf9f5" stroke="#4f463f" stroke-width="0.6"/><path d="M-16.1 41.1L-12.4 57.9" stroke="#6d635a" stroke-width="0.4"/><path d="M-16.8 55.0C-22.2 62.1 -21.3 75.8 -19.2 85.0C-17.0 76.1 -16.7 62.6 -16.8 55.0Z" fill="#fbf9f5" stroke="#4f463f" stroke-width="0.6"/><path d="M-18.3 59.4L-19.4 78.9" stroke="#6d635a" stroke-width="0.4"/><path d="M-14.8 61.0C-18.1 66.5 -15.3 75.3 -12.2 81.0C-11.8 74.8 -13.5 65.9 -14.8 61.0Z" fill="#fbf9f5" stroke="#4f463f" stroke-width="0.6"/><path d="M-15.4 64.1L-13.3 77.1" stroke="#6d635a" stroke-width="0.4"/><path d="M-5.8 42.0C-11.3 48.8 -10.7 62.0 -8.8 71.0C-6.4 62.4 -5.8 49.3 -5.8 42.0Z" fill="#fbf9f5" stroke="#4f463f" stroke-width="0.6"/><path d="M-7.4 46.2L-8.9 65.1" stroke="#6d635a" stroke-width="0.4"/><path d="M-4.8 45.0C-7.8 49.8 -4.7 56.7 -1.4 61.0C-1.2 56.0 -3.3 48.9 -4.8 45.0Z" fill="#fbf9f5" stroke="#4f463f" stroke-width="0.6"/><path d="M-5.2 47.6L-2.6 57.9" stroke="#6d635a" stroke-width="0.4"/><path d="M-6.8 62.0C-10.8 67.3 -8.4 76.2 -5.4 82.0C-4.5 75.9 -5.8 67.0 -6.8 62.0Z" fill="#fbf9f5" stroke="#4f463f" stroke-width="0.6"/><path d="M-7.7 65.1L-6.3 78.0" stroke="#6d635a" stroke-width="0.4"/><path d="M4.2 44.0C4.0 50.5 10.9 55.8 16.6 58.4C13.9 53.2 7.8 47.2 4.2 44.0Z" fill="#fbf9f5" stroke="#4f463f" stroke-width="0.6"/><path d="M5.2 46.9L13.6 56.0" stroke="#6d635a" stroke-width="0.4"/><path d="M3.2 47.0C-1.8 52.6 -1.1 63.5 0.8 71.0C2.9 63.9 3.3 53.1 3.2 47.0Z" fill="#fbf9f5" stroke="#4f463f" stroke-width="0.6"/><path d="M1.8 50.5L0.6 66.1" stroke="#6d635a" stroke-width="0.4"/><path d="M4.2 62.0C1.6 68.9 6.2 78.8 10.6 85.0C10.0 77.7 6.5 67.6 4.2 62.0Z" fill="#fbf9f5" stroke="#4f463f" stroke-width="0.6"/><path d="M4.1 65.7L8.7 80.6" stroke="#6d635a" stroke-width="0.4"/><path d="M2.2 65.0C-1.3 72.6 1.2 85.7 4.2 94.4C4.8 85.5 3.3 72.3 2.2 65.0Z" fill="#fbf9f5" stroke="#4f463f" stroke-width="0.6"/><path d="M1.5 69.5L3.2 88.6" stroke="#6d635a" stroke-width="0.4"/><path d="M-15.8 84.0C-20.6 84.4 -23.1 90.0 -23.8 94.4C-20.5 91.9 -17.4 86.9 -15.8 84.0Z" fill="#fbf9f5" stroke="#4f463f" stroke-width="0.6"/><path d="M-17.7 85.0L-22.6 92.0" stroke="#6d635a" stroke-width="0.4"/><path d="M-7.8 88.0C-11.8 92.8 -11.1 102.1 -9.4 108.4C-7.8 102.4 -7.6 93.1 -7.8 88.0Z" fill="#fbf9f5" stroke="#4f463f" stroke-width="0.6"/><path d="M-8.9 91.0L-9.6 104.3" stroke="#6d635a" stroke-width="0.4"/><path d="M0.2 80.0C-5.6 84.7 -7.7 96.0 -7.8 104.0C-4.2 97.2 -1.2 86.2 0.2 80.0Z" fill="#fbf9f5" stroke="#4f463f" stroke-width="0.6"/><path d="M-1.9 83.3L-6.7 99.0" stroke="#6d635a" stroke-width="0.4"/><path d="M-22.8 70.0C-27.1 73.9 -27.0 82.2 -25.8 88.0C-23.8 82.8 -23.0 74.6 -22.8 70.0Z" fill="#fbf9f5" stroke="#4f463f" stroke-width="0.6"/><path d="M-24.1 72.6L-25.7 84.3" stroke="#6d635a" stroke-width="0.4"/><defs><clipPath id="t1c"><polygon points="36.9,9.5 36.0,13.8 35.4,18.1 34.9,22.4 34.4,26.7 34.0,31.0 33.5,35.2 33.1,39.5 32.7,43.8 32.3,48.1 31.9,52.4 31.6,56.7 31.2,61.0 30.9,65.3 30.5,69.6 30.2,73.9 30.0,78.2 30.1,82.5 30.2,86.8 30.3,91.0 30.4,95.3 30.4,99.6 30.5,103.9 30.6,108.2 30.7,112.5 31.4,113.8 33.5,114.9 36.6,115.6 40.2,115.8 43.8,115.6 46.9,114.9 49.0,113.8 49.7,112.5 49.6,108.2 49.5,103.9 49.4,99.6 49.4,95.3 49.3,91.0 49.2,86.8 49.1,82.5 49.0,78.2 48.7,73.9 48.1,69.6 47.6,65.3 47.1,61.0 46.6,56.7 46.0,52.4 45.5,48.1 44.9,43.8 44.3,39.5 43.7,35.2 43.1,31.0 42.5,26.7 41.8,22.4 41.1,18.1 40.4,13.8 39.4,9.5"/></clipPath></defs><polygon points="36.9,9.5 36.0,13.8 35.4,18.1 34.9,22.4 34.4,26.7 34.0,31.0 33.5,35.2 33.1,39.5 32.7,43.8 32.3,48.1 31.9,52.4 31.6,56.7 31.2,61.0 30.9,65.3 30.5,69.6 30.2,73.9 30.0,78.2 30.1,82.5 30.2,86.8 30.3,91.0 30.4,95.3 30.4,99.6 30.5,103.9 30.6,108.2 30.7,112.5 31.4,113.8 33.5,114.9 36.6,115.6 40.2,115.8 43.8,115.6 46.9,114.9 49.0,113.8 49.7,112.5 49.6,108.2 49.5,103.9 49.4,99.6 49.4,95.3 49.3,91.0 49.2,86.8 49.1,82.5 49.0,78.2 48.7,73.9 48.1,69.6 47.6,65.3 47.1,61.0 46.6,56.7 46.0,52.4 45.5,48.1 44.9,43.8 44.3,39.5 43.7,35.2 43.1,31.0 42.5,26.7 41.8,22.4 41.1,18.1 40.4,13.8 39.4,9.5" fill="#efe8df" stroke="#4f463f" stroke-width="0.8"/><g clip-path="url(#t1c)"><ellipse cx="42.0" cy="16.0" rx="5.0" ry="7" transform="rotate(28 42.0 16.0)" fill="#e6ddd2" stroke="#4f463f" stroke-width="0.7"/><path d="M38.0 18.0q3 -3 7 -1" fill="none" stroke="#6e645b" stroke-width="0.5"/><ellipse cx="36.0" cy="27.5" rx="5.9" ry="7" transform="rotate(-28 36.0 27.5)" fill="#e6ddd2" stroke="#4f463f" stroke-width="0.7"/><path d="M32.0 29.5q3 -3 7 -1" fill="none" stroke="#6e645b" stroke-width="0.5"/><ellipse cx="42.0" cy="39.0" rx="6.8" ry="7" transform="rotate(28 42.0 39.0)" fill="#e6ddd2" stroke="#4f463f" stroke-width="0.7"/><path d="M38.0 41.0q3 -3 7 -1" fill="none" stroke="#6e645b" stroke-width="0.5"/><ellipse cx="36.0" cy="50.5" rx="7.7" ry="7" transform="rotate(-28 36.0 50.5)" fill="#e6ddd2" stroke="#4f463f" stroke-width="0.7"/><path d="M32.0 52.5q3 -3 7 -1" fill="none" stroke="#6e645b" stroke-width="0.5"/><ellipse cx="42.0" cy="62.0" rx="8.6" ry="7" transform="rotate(28 42.0 62.0)" fill="#e6ddd2" stroke="#4f463f" stroke-width="0.7"/><path d="M38.0 64.0q3 -3 7 -1" fill="none" stroke="#6e645b" stroke-width="0.5"/><ellipse cx="36.0" cy="73.5" rx="9.5" ry="7" transform="rotate(-28 36.0 73.5)" fill="#e6ddd2" stroke="#4f463f" stroke-width="0.7"/><path d="M32.0 75.5q3 -3 7 -1" fill="none" stroke="#6e645b" stroke-width="0.5"/><ellipse cx="42.0" cy="85.0" rx="10.4" ry="7" transform="rotate(28 42.0 85.0)" fill="#e6ddd2" stroke="#4f463f" stroke-width="0.7"/><path d="M38.0 87.0q3 -3 7 -1" fill="none" stroke="#6e645b" stroke-width="0.5"/><ellipse cx="36.0" cy="96.5" rx="11.3" ry="7" transform="rotate(-28 36.0 96.5)" fill="#e6ddd2" stroke="#4f463f" stroke-width="0.7"/><path d="M32.0 98.5q3 -3 7 -1" fill="none" stroke="#6e645b" stroke-width="0.5"/><ellipse cx="42.0" cy="108.0" rx="12.2" ry="7" transform="rotate(28 42.0 108.0)" fill="#e6ddd2" stroke="#4f463f" stroke-width="0.7"/><path d="M38.0 110.0q3 -3 7 -1" fill="none" stroke="#6e645b" stroke-width="0.5"/></g><polygon points="36.9,9.5 36.0,13.8 35.4,18.1 34.9,22.4 34.4,26.7 34.0,31.0 33.5,35.2 33.1,39.5 32.7,43.8 32.3,48.1 31.9,52.4 31.6,56.7 31.2,61.0 30.9,65.3 30.5,69.6 30.2,73.9 30.0,78.2 30.1,82.5 30.2,86.8 30.3,91.0 30.4,95.3 30.4,99.6 30.5,103.9 30.6,108.2 30.7,112.5 31.4,113.8 33.5,114.9 36.6,115.6 40.2,115.8 43.8,115.6 46.9,114.9 49.0,113.8 49.7,112.5 49.6,108.2 49.5,103.9 49.4,99.6 49.4,95.3 49.3,91.0 49.2,86.8 49.1,82.5 49.0,78.2 48.7,73.9 48.1,69.6 47.6,65.3 47.1,61.0 46.6,56.7 46.0,52.4 45.5,48.1 44.9,43.8 44.3,39.5 43.7,35.2 43.1,31.0 42.5,26.7 41.8,22.4 41.1,18.1 40.4,13.8 39.4,9.5" fill="none" stroke="#4f463f" stroke-width="0.8"/></svg></div>
<div class="nm" style="left:2156.5px">Teosinte</div>
<div class="sp" style="left:2156.5px;top:107px">(<i>Zea mays</i><br><i>mexicana</i>)</div>
<div class="im" style="left:2156.5px"><svg width="136" height="120" viewBox="-68.0 0 136 120"><path d="M-27.3 106.2Q-27.9 64.7 -28.4 23.2" fill="none" stroke="#4f463f" stroke-width="0.8" stroke-linecap="round" opacity="1.0"/><path d="M-16.1 106.2Q-15.9 66.9 -15.6 27.6" fill="none" stroke="#4f463f" stroke-width="0.8" stroke-linecap="round" opacity="1.0"/><path d="M-4.9 103.9Q-4.6 68.0 -4.4 32.1" fill="none" stroke="#4f463f" stroke-width="0.8" stroke-linecap="round" opacity="1.0"/><path d="M-27.7 18.7Q-31.5 17.0 -35.3 17.3" fill="none" stroke="#4f463f" stroke-width="0.55"/><path d="M-31.2 18.1l-1.8 0.8M-31.2 18.1l-1.4 -1.4" stroke="#4f463f" stroke-width="0.4"/><path d="M-33.4 17.7l-1.8 0.8M-33.4 17.7l-1.4 -1.4" stroke="#4f463f" stroke-width="0.4"/><path d="M-27.7 18.7Q-31.6 15.4 -35.5 14.2" fill="none" stroke="#4f463f" stroke-width="0.55"/><path d="M-31.2 16.7l-2.0 0.2M-31.2 16.7l-0.9 -1.8" stroke="#4f463f" stroke-width="0.4"/><path d="M-33.6 15.3l-2.0 0.2M-33.6 15.3l-0.9 -1.8" stroke="#4f463f" stroke-width="0.4"/><path d="M-27.7 18.7Q-31.0 13.8 -34.2 11.0" fill="none" stroke="#4f463f" stroke-width="0.55"/><path d="M-30.6 15.2l-1.9 -0.5M-30.6 15.2l-0.2 -2.0" stroke="#4f463f" stroke-width="0.4"/><path d="M-32.6 12.9l-1.9 -0.5M-32.6 12.9l-0.2 -2.0" stroke="#4f463f" stroke-width="0.4"/><path d="M-27.7 18.7Q-29.6 12.6 -31.4 8.6" fill="none" stroke="#4f463f" stroke-width="0.55"/><path d="M-29.4 14.1l-1.6 -1.2M-29.4 14.1l0.5 -1.9" stroke="#4f463f" stroke-width="0.4"/><path d="M-30.5 11.1l-1.6 -1.2M-30.5 11.1l0.5 -1.9" stroke="#4f463f" stroke-width="0.4"/><path d="M-27.7 18.7Q-27.7 12.2 -27.7 7.7" fill="none" stroke="#4f463f" stroke-width="0.55"/><path d="M-27.7 13.7l-1.1 -1.7M-27.7 13.7l1.1 -1.7" stroke="#4f463f" stroke-width="0.4"/><path d="M-27.7 10.4l-1.1 -1.7M-27.7 10.4l1.1 -1.7" stroke="#4f463f" stroke-width="0.4"/><path d="M-27.7 18.7Q-25.9 12.6 -24.1 8.6" fill="none" stroke="#4f463f" stroke-width="0.55"/><path d="M-26.1 14.1l-0.5 -1.9M-26.1 14.1l1.6 -1.2" stroke="#4f463f" stroke-width="0.4"/><path d="M-25.0 11.1l-0.5 -1.9M-25.0 11.1l1.6 -1.2" stroke="#4f463f" stroke-width="0.4"/><path d="M-27.7 18.7Q-24.5 13.8 -21.3 11.0" fill="none" stroke="#4f463f" stroke-width="0.55"/><path d="M-24.8 15.2l0.2 -2.0M-24.8 15.2l1.9 -0.5" stroke="#4f463f" stroke-width="0.4"/><path d="M-22.9 12.9l0.2 -2.0M-22.9 12.9l1.9 -0.5" stroke="#4f463f" stroke-width="0.4"/><path d="M-27.7 18.7Q-23.9 15.4 -20.0 14.2" fill="none" stroke="#4f463f" stroke-width="0.55"/><path d="M-24.3 16.7l0.9 -1.8M-24.3 16.7l2.0 0.2" stroke="#4f463f" stroke-width="0.4"/><path d="M-21.9 15.3l0.9 -1.8M-21.9 15.3l2.0 0.2" stroke="#4f463f" stroke-width="0.4"/><path d="M-27.7 18.7Q-24.0 17.0 -20.2 17.3" fill="none" stroke="#4f463f" stroke-width="0.55"/><path d="M-24.3 18.1l1.4 -1.4M-24.3 18.1l1.8 0.8" stroke="#4f463f" stroke-width="0.4"/><path d="M-22.1 17.7l1.4 -1.4M-22.1 17.7l1.8 0.8" stroke="#4f463f" stroke-width="0.4"/><path d="M-15.0 22.0Q-18.1 20.5 -21.2 20.9" fill="none" stroke="#4f463f" stroke-width="0.55"/><path d="M-17.8 21.5l-1.8 0.8M-17.8 21.5l-1.4 -1.4" stroke="#4f463f" stroke-width="0.4"/><path d="M-19.6 21.2l-1.8 0.8M-19.6 21.2l-1.4 -1.4" stroke="#4f463f" stroke-width="0.4"/><path d="M-15.0 22.0Q-18.1 19.2 -21.3 18.4" fill="none" stroke="#4f463f" stroke-width="0.55"/><path d="M-17.8 20.4l-2.0 0.2M-17.8 20.4l-0.9 -1.8" stroke="#4f463f" stroke-width="0.4"/><path d="M-19.7 19.3l-2.0 0.2M-19.7 19.3l-0.9 -1.8" stroke="#4f463f" stroke-width="0.4"/><path d="M-15.0 22.0Q-17.6 17.9 -20.2 15.8" fill="none" stroke="#4f463f" stroke-width="0.55"/><path d="M-17.3 19.2l-1.9 -0.5M-17.3 19.2l-0.2 -2.0" stroke="#4f463f" stroke-width="0.4"/><path d="M-18.9 17.3l-1.9 -0.5M-18.9 17.3l-0.2 -2.0" stroke="#4f463f" stroke-width="0.4"/><path d="M-15.0 22.0Q-16.5 16.9 -18.0 13.8" fill="none" stroke="#4f463f" stroke-width="0.55"/><path d="M-16.3 18.3l-1.6 -1.2M-16.3 18.3l0.5 -1.9" stroke="#4f463f" stroke-width="0.4"/><path d="M-17.2 15.8l-1.6 -1.2M-17.2 15.8l0.5 -1.9" stroke="#4f463f" stroke-width="0.4"/><path d="M-15.0 22.0Q-15.0 16.5 -15.0 13.0" fill="none" stroke="#4f463f" stroke-width="0.55"/><path d="M-15.0 18.0l-1.1 -1.7M-15.0 18.0l1.1 -1.7" stroke="#4f463f" stroke-width="0.4"/><path d="M-15.0 15.3l-1.1 -1.7M-15.0 15.3l1.1 -1.7" stroke="#4f463f" stroke-width="0.4"/><path d="M-15.0 22.0Q-13.5 16.9 -12.0 13.8" fill="none" stroke="#4f463f" stroke-width="0.55"/><path d="M-13.6 18.3l-0.5 -1.9M-13.6 18.3l1.6 -1.2" stroke="#4f463f" stroke-width="0.4"/><path d="M-12.7 15.8l-0.5 -1.9M-12.7 15.8l1.6 -1.2" stroke="#4f463f" stroke-width="0.4"/><path d="M-15.0 22.0Q-12.3 17.9 -9.7 15.8" fill="none" stroke="#4f463f" stroke-width="0.55"/><path d="M-12.6 19.2l0.2 -2.0M-12.6 19.2l1.9 -0.5" stroke="#4f463f" stroke-width="0.4"/><path d="M-11.0 17.3l0.2 -2.0M-11.0 17.3l1.9 -0.5" stroke="#4f463f" stroke-width="0.4"/><path d="M-15.0 22.0Q-11.8 19.2 -8.6 18.4" fill="none" stroke="#4f463f" stroke-width="0.55"/><path d="M-12.1 20.4l0.9 -1.8M-12.1 20.4l2.0 0.2" stroke="#4f463f" stroke-width="0.4"/><path d="M-10.2 19.3l0.9 -1.8M-10.2 19.3l2.0 0.2" stroke="#4f463f" stroke-width="0.4"/><path d="M-15.0 22.0Q-11.9 20.5 -8.8 20.9" fill="none" stroke="#4f463f" stroke-width="0.55"/><path d="M-12.2 21.5l1.4 -1.4M-12.2 21.5l1.8 0.8" stroke="#4f463f" stroke-width="0.4"/><path d="M-10.3 21.2l1.4 -1.4M-10.3 21.2l1.8 0.8" stroke="#4f463f" stroke-width="0.4"/><path d="M-3.7 27.6Q-6.8 26.1 -10.0 26.6" fill="none" stroke="#4f463f" stroke-width="0.55"/><path d="M-6.5 27.2l-1.8 0.8M-6.5 27.2l-1.4 -1.4" stroke="#4f463f" stroke-width="0.4"/><path d="M-8.4 26.8l-1.8 0.8M-8.4 26.8l-1.4 -1.4" stroke="#4f463f" stroke-width="0.4"/><path d="M-3.7 27.6Q-6.9 24.8 -10.1 24.0" fill="none" stroke="#4f463f" stroke-width="0.55"/><path d="M-6.6 26.0l-2.0 0.2M-6.6 26.0l-0.9 -1.8" stroke="#4f463f" stroke-width="0.4"/><path d="M-8.5 24.9l-2.0 0.2M-8.5 24.9l-0.9 -1.8" stroke="#4f463f" stroke-width="0.4"/><path d="M-3.7 27.6Q-6.4 23.5 -9.0 21.4" fill="none" stroke="#4f463f" stroke-width="0.55"/><path d="M-6.1 24.8l-1.9 -0.5M-6.1 24.8l-0.2 -2.0" stroke="#4f463f" stroke-width="0.4"/><path d="M-7.7 22.9l-1.9 -0.5M-7.7 22.9l-0.2 -2.0" stroke="#4f463f" stroke-width="0.4"/><path d="M-3.7 27.6Q-5.2 22.5 -6.8 19.4" fill="none" stroke="#4f463f" stroke-width="0.55"/><path d="M-5.1 23.9l-1.6 -1.2M-5.1 23.9l0.5 -1.9" stroke="#4f463f" stroke-width="0.4"/><path d="M-6.0 21.4l-1.6 -1.2M-6.0 21.4l0.5 -1.9" stroke="#4f463f" stroke-width="0.4"/><path d="M-3.7 27.6Q-3.7 22.1 -3.7 18.6" fill="none" stroke="#4f463f" stroke-width="0.55"/><path d="M-3.7 23.6l-1.1 -1.7M-3.7 23.6l1.1 -1.7" stroke="#4f463f" stroke-width="0.4"/><path d="M-3.7 20.9l-1.1 -1.7M-3.7 20.9l1.1 -1.7" stroke="#4f463f" stroke-width="0.4"/><path d="M-3.7 27.6Q-2.2 22.5 -0.7 19.4" fill="none" stroke="#4f463f" stroke-width="0.55"/><path d="M-2.4 23.9l-0.5 -1.9M-2.4 23.9l1.6 -1.2" stroke="#4f463f" stroke-width="0.4"/><path d="M-1.5 21.4l-0.5 -1.9M-1.5 21.4l1.6 -1.2" stroke="#4f463f" stroke-width="0.4"/><path d="M-3.7 27.6Q-1.1 23.5 1.5 21.4" fill="none" stroke="#4f463f" stroke-width="0.55"/><path d="M-1.4 24.8l0.2 -2.0M-1.4 24.8l1.9 -0.5" stroke="#4f463f" stroke-width="0.4"/><path d="M0.2 22.9l0.2 -2.0M0.2 22.9l1.9 -0.5" stroke="#4f463f" stroke-width="0.4"/><path d="M-3.7 27.6Q-0.6 24.8 2.6 24.0" fill="none" stroke="#4f463f" stroke-width="0.55"/><path d="M-0.9 26.0l0.9 -1.8M-0.9 26.0l2.0 0.2" stroke="#4f463f" stroke-width="0.4"/><path d="M1.0 24.9l0.9 -1.8M1.0 24.9l2.0 0.2" stroke="#4f463f" stroke-width="0.4"/><path d="M-3.7 27.6Q-0.6 26.1 2.5 26.6" fill="none" stroke="#4f463f" stroke-width="0.55"/><path d="M-1.0 27.2l1.4 -1.4M-1.0 27.2l1.8 0.8" stroke="#4f463f" stroke-width="0.4"/><path d="M0.9 26.8l1.4 -1.4M0.9 26.8l1.8 0.8" stroke="#4f463f" stroke-width="0.4"/><path d="M-28.4 29.9C-34.3 36.1 -34.4 49.1 -32.9 57.9C-30.1 49.7 -28.8 37.0 -28.4 29.9Z" fill="#fbf9f5" stroke="#4f463f" stroke-width="0.6"/><path d="M-30.3 33.9L-32.7 52.2" stroke="#6d635a" stroke-width="0.4"/><path d="M-27.3 34.4C-30.4 41.9 -26.4 53.7 -22.4 61.3C-22.5 53.0 -25.4 41.0 -27.3 34.4Z" fill="#fbf9f5" stroke="#4f463f" stroke-width="0.6"/><path d="M-27.6 38.6L-24.0 56.0" stroke="#6d635a" stroke-width="0.4"/><path d="M-28.4 52.3C-33.9 60.9 -33.3 77.2 -31.3 88.2C-29.0 77.6 -28.4 61.4 -28.4 52.3Z" fill="#fbf9f5" stroke="#4f463f" stroke-width="0.6"/><path d="M-30.1 57.6L-31.5 81.0" stroke="#6d635a" stroke-width="0.4"/><path d="M-27.3 59.1C-30.4 68.6 -26.5 84.5 -22.4 94.9C-22.5 84.0 -25.4 67.9 -27.3 59.1Z" fill="#fbf9f5" stroke="#4f463f" stroke-width="0.6"/><path d="M-27.6 64.6L-24.0 87.9" stroke="#6d635a" stroke-width="0.4"/><path d="M-16.1 32.1C-21.1 38.7 -20.6 51.5 -18.8 60.2C-16.7 51.9 -16.1 39.2 -16.1 32.1Z" fill="#fbf9f5" stroke="#4f463f" stroke-width="0.6"/><path d="M-17.6 36.2L-18.9 54.5" stroke="#6d635a" stroke-width="0.4"/><path d="M-15.6 38.9C-18.9 45.0 -16.0 54.9 -12.7 61.3C-12.4 54.4 -14.3 44.4 -15.6 38.9Z" fill="#fbf9f5" stroke="#4f463f" stroke-width="0.6"/><path d="M-16.2 42.4L-13.9 56.9" stroke="#6d635a" stroke-width="0.4"/><path d="M-16.1 56.8C-20.5 65.2 -18.7 80.4 -16.1 90.5C-14.8 80.4 -15.4 65.2 -16.1 56.8Z" fill="#fbf9f5" stroke="#4f463f" stroke-width="0.6"/><path d="M-17.2 61.9L-16.7 83.7" stroke="#6d635a" stroke-width="0.4"/><path d="M-15.0 65.8C-18.2 74.5 -15.3 89.5 -12.0 99.4C-11.7 89.2 -13.6 74.1 -15.0 65.8Z" fill="#fbf9f5" stroke="#4f463f" stroke-width="0.6"/><path d="M-15.5 70.9L-13.2 92.8" stroke="#6d635a" stroke-width="0.4"/><path d="M-4.9 36.6C-10.6 41.8 -11.4 53.3 -10.5 61.3C-7.5 54.2 -5.6 42.9 -4.9 36.6Z" fill="#fbf9f5" stroke="#4f463f" stroke-width="0.6"/><path d="M-6.8 40.1L-10.0 56.2" stroke="#6d635a" stroke-width="0.4"/><path d="M-4.4 41.1C-5.2 47.6 1.3 53.6 6.8 56.8C4.5 51.3 -1.1 44.6 -4.4 41.1Z" fill="#fbf9f5" stroke="#4f463f" stroke-width="0.6"/><path d="M-3.6 44.1L4.0 54.1" stroke="#6d635a" stroke-width="0.4"/><path d="M-4.9 56.8C-9.7 64.4 -8.8 78.6 -6.7 88.2C-4.8 78.9 -4.7 64.7 -4.9 56.8Z" fill="#fbf9f5" stroke="#4f463f" stroke-width="0.6"/><path d="M-6.2 61.5L-7.0 81.9" stroke="#6d635a" stroke-width="0.4"/><path d="M-3.7 61.3C-6.6 70.0 -2.1 83.8 2.3 92.7C1.8 83.0 -1.6 69.0 -3.7 61.3Z" fill="#fbf9f5" stroke="#4f463f" stroke-width="0.6"/><path d="M-3.9 66.2L0.5 86.5" stroke="#6d635a" stroke-width="0.4"/><path d="M-11.6 79.2C-17.2 84.2 -19.9 95.8 -20.6 103.9C-16.9 96.9 -13.3 85.6 -11.6 79.2Z" fill="#fbf9f5" stroke="#4f463f" stroke-width="0.6"/><path d="M-13.8 82.6L-19.3 98.8" stroke="#6d635a" stroke-width="0.4"/><path d="M-7.1 83.7C-9.4 89.8 -6.7 99.7 -3.7 106.2C-3.8 99.3 -5.8 89.3 -7.1 83.7Z" fill="#fbf9f5" stroke="#4f463f" stroke-width="0.6"/><path d="M-7.4 87.2L-4.9 101.7" stroke="#6d635a" stroke-width="0.4"/><path d="M-22.8 86.0C-26.3 91.1 -25.5 100.8 -23.9 107.3C-22.6 100.9 -22.6 91.3 -22.8 86.0Z" fill="#fbf9f5" stroke="#4f463f" stroke-width="0.6"/><path d="M-23.8 89.1L-24.2 103.0" stroke="#6d635a" stroke-width="0.4"/><path d="M-27.3 72.5C-31.4 78.9 -31.0 91.2 -29.5 99.4C-27.8 91.4 -27.3 79.3 -27.3 72.5Z" fill="#fbf9f5" stroke="#4f463f" stroke-width="0.6"/><path d="M-28.5 76.5L-29.6 94.0" stroke="#6d635a" stroke-width="0.4"/><defs><clipPath id="t2c"><polygon points="25.1,9.5 24.3,13.8 23.7,18.2 23.2,22.5 22.7,26.8 22.3,31.2 21.8,35.5 21.4,39.8 21.0,44.2 20.6,48.5 20.2,52.8 19.9,57.2 19.5,61.5 19.2,65.8 18.8,70.2 18.5,74.5 18.3,78.8 18.4,83.2 18.5,87.5 18.6,91.8 18.6,96.2 18.7,100.5 18.8,104.8 18.9,109.2 19.0,113.5 19.7,114.8 21.8,115.9 24.9,116.6 28.5,116.8 32.1,116.6 35.2,115.9 37.3,114.8 38.0,113.5 37.9,109.2 37.8,104.8 37.7,100.5 37.6,96.2 37.6,91.8 37.5,87.5 37.4,83.2 37.3,78.8 37.0,74.5 36.4,70.2 35.9,65.8 35.4,61.5 34.9,57.2 34.3,52.8 33.8,48.5 33.2,44.2 32.6,39.8 32.0,35.5 31.4,31.2 30.8,26.8 30.1,22.5 29.4,18.2 28.7,13.8 27.6,9.5"/></clipPath></defs><polygon points="25.1,9.5 24.3,13.8 23.7,18.2 23.2,22.5 22.7,26.8 22.3,31.2 21.8,35.5 21.4,39.8 21.0,44.2 20.6,48.5 20.2,52.8 19.9,57.2 19.5,61.5 19.2,65.8 18.8,70.2 18.5,74.5 18.3,78.8 18.4,83.2 18.5,87.5 18.6,91.8 18.6,96.2 18.7,100.5 18.8,104.8 18.9,109.2 19.0,113.5 19.7,114.8 21.8,115.9 24.9,116.6 28.5,116.8 32.1,116.6 35.2,115.9 37.3,114.8 38.0,113.5 37.9,109.2 37.8,104.8 37.7,100.5 37.6,96.2 37.6,91.8 37.5,87.5 37.4,83.2 37.3,78.8 37.0,74.5 36.4,70.2 35.9,65.8 35.4,61.5 34.9,57.2 34.3,52.8 33.8,48.5 33.2,44.2 32.6,39.8 32.0,35.5 31.4,31.2 30.8,26.8 30.1,22.5 29.4,18.2 28.7,13.8 27.6,9.5" fill="#cfc9c1" stroke="#4f463f" stroke-width="0.8"/><g clip-path="url(#t2c)"><ellipse cx="30.0" cy="16.0" rx="5.0" ry="7" transform="rotate(28 30.0 16.0)" fill="#d8d3cc" stroke="#4a423b" stroke-width="0.8"/><ellipse cx="28.0" cy="18.0" rx="3.0" ry="3.5" transform="rotate(28 30.0 16.0)" fill="#8f887f"/><ellipse cx="24.0" cy="27.5" rx="5.9" ry="7" transform="rotate(-28 24.0 27.5)" fill="#d8d3cc" stroke="#4a423b" stroke-width="0.8"/><ellipse cx="26.0" cy="29.5" rx="3.5" ry="3.5" transform="rotate(-28 24.0 27.5)" fill="#8f887f"/><ellipse cx="30.0" cy="39.0" rx="6.8" ry="7" transform="rotate(28 30.0 39.0)" fill="#d8d3cc" stroke="#4a423b" stroke-width="0.8"/><ellipse cx="28.0" cy="41.0" rx="4.0" ry="3.5" transform="rotate(28 30.0 39.0)" fill="#8f887f"/><ellipse cx="24.0" cy="50.5" rx="7.7" ry="7" transform="rotate(-28 24.0 50.5)" fill="#d8d3cc" stroke="#4a423b" stroke-width="0.8"/><ellipse cx="26.0" cy="52.5" rx="4.5" ry="3.5" transform="rotate(-28 24.0 50.5)" fill="#8f887f"/><ellipse cx="30.0" cy="62.0" rx="8.6" ry="7" transform="rotate(28 30.0 62.0)" fill="#d8d3cc" stroke="#4a423b" stroke-width="0.8"/><ellipse cx="28.0" cy="64.0" rx="5.0" ry="3.5" transform="rotate(28 30.0 62.0)" fill="#8f887f"/><ellipse cx="24.0" cy="73.5" rx="9.5" ry="7" transform="rotate(-28 24.0 73.5)" fill="#d8d3cc" stroke="#4a423b" stroke-width="0.8"/><ellipse cx="26.0" cy="75.5" rx="5.5" ry="3.5" transform="rotate(-28 24.0 73.5)" fill="#8f887f"/><ellipse cx="30.0" cy="85.0" rx="10.4" ry="7" transform="rotate(28 30.0 85.0)" fill="#d8d3cc" stroke="#4a423b" stroke-width="0.8"/><ellipse cx="28.0" cy="87.0" rx="6.0" ry="3.5" transform="rotate(28 30.0 85.0)" fill="#8f887f"/><ellipse cx="24.0" cy="96.5" rx="11.3" ry="7" transform="rotate(-28 24.0 96.5)" fill="#d8d3cc" stroke="#4a423b" stroke-width="0.8"/><ellipse cx="26.0" cy="98.5" rx="6.5" ry="3.5" transform="rotate(-28 24.0 96.5)" fill="#8f887f"/><ellipse cx="30.0" cy="108.0" rx="12.2" ry="7" transform="rotate(28 30.0 108.0)" fill="#d8d3cc" stroke="#4a423b" stroke-width="0.8"/><ellipse cx="28.0" cy="110.0" rx="7.0" ry="3.5" transform="rotate(28 30.0 108.0)" fill="#8f887f"/></g><polygon points="25.1,9.5 24.3,13.8 23.7,18.2 23.2,22.5 22.7,26.8 22.3,31.2 21.8,35.5 21.4,39.8 21.0,44.2 20.6,48.5 20.2,52.8 19.9,57.2 19.5,61.5 19.2,65.8 18.8,70.2 18.5,74.5 18.3,78.8 18.4,83.2 18.5,87.5 18.6,91.8 18.6,96.2 18.7,100.5 18.8,104.8 18.9,109.2 19.0,113.5 19.7,114.8 21.8,115.9 24.9,116.6 28.5,116.8 32.1,116.6 35.2,115.9 37.3,114.8 38.0,113.5 37.9,109.2 37.8,104.8 37.7,100.5 37.6,96.2 37.6,91.8 37.5,87.5 37.4,83.2 37.3,78.8 37.0,74.5 36.4,70.2 35.9,65.8 35.4,61.5 34.9,57.2 34.3,52.8 33.8,48.5 33.2,44.2 32.6,39.8 32.0,35.5 31.4,31.2 30.8,26.8 30.1,22.5 29.4,18.2 28.7,13.8 27.6,9.5" fill="none" stroke="#4f463f" stroke-width="0.8"/></svg></div>
<div class="nm" style="left:2292.1px">Maize</div>
<div class="sp" style="left:2292.1px;top:107px">(<i>Zea mays</i><br><i>mays</i>)</div>
<div class="im" style="left:2292.1px"><svg width="136" height="120" viewBox="-68.0 0 136 120"><path d="M-20.6 112.9Q-19.8 63.5 -19.0 14.2" fill="none" stroke="#4f463f" stroke-width="1.3" stroke-linecap="round" opacity="1.0"/><path d="M-20.6 112.9Q-19.8 63.5 -19.0 14.2" fill="none" stroke="#f4efe8" stroke-width="0.5" stroke-linecap="round" opacity="1.0"/><path d="M-19.5 15.3Q-19.5 9.1 -19.5 3.0" fill="none" stroke="#4f463f" stroke-width="0.6" stroke-linecap="round" opacity="1.0"/><path d="M-19.5 15.3Q-15.8 14.5 -13.2 11.9" fill="none" stroke="#4f463f" stroke-width="0.48" stroke-linecap="round" opacity="1.0"/><path d="M-19.5 15.3Q-23.1 14.5 -25.7 11.9" fill="none" stroke="#4f463f" stroke-width="0.48" stroke-linecap="round" opacity="1.0"/><path d="M-19.5 12.7Q-16.3 12.0 -14.0 9.7" fill="none" stroke="#4f463f" stroke-width="0.48" stroke-linecap="round" opacity="1.0"/><path d="M-19.5 12.7Q-22.7 12.0 -25.0 9.7" fill="none" stroke="#4f463f" stroke-width="0.48" stroke-linecap="round" opacity="1.0"/><path d="M-19.5 10.1Q-16.7 9.5 -14.7 7.5" fill="none" stroke="#4f463f" stroke-width="0.48" stroke-linecap="round" opacity="1.0"/><path d="M-19.5 10.1Q-22.2 9.5 -24.2 7.5" fill="none" stroke="#4f463f" stroke-width="0.48" stroke-linecap="round" opacity="1.0"/><path d="M-19.5 7.4Q-17.2 7.0 -15.5 5.3" fill="none" stroke="#4f463f" stroke-width="0.48" stroke-linecap="round" opacity="1.0"/><path d="M-19.5 7.4Q-21.7 7.0 -23.4 5.3" fill="none" stroke="#4f463f" stroke-width="0.48" stroke-linecap="round" opacity="1.0"/><path d="M-19.5 4.8Q-17.6 4.4 -16.3 3.1" fill="none" stroke="#4f463f" stroke-width="0.48" stroke-linecap="round" opacity="1.0"/><path d="M-19.5 4.8Q-21.3 4.4 -22.6 3.1" fill="none" stroke="#4f463f" stroke-width="0.48" stroke-linecap="round" opacity="1.0"/><path d="M-19.5 16.4Q-34.9 16.5 -37.4 36.6Q-30.0 20.9 -19.5 16.4Z" fill="#faf7f2" stroke="#4f463f" stroke-width="0.65" stroke-linejoin="round"/><path d="M-18.6 16.4Q-9.0 22.8 -3.8 35.5Q-4.3 19.1 -18.6 16.4Z" fill="#faf7f2" stroke="#4f463f" stroke-width="0.65" stroke-linejoin="round"/><path d="M-20.1 20.9Q-29.2 23.3 -33.6 28.8Q-26.8 27.5 -20.1 20.9Z" fill="#faf7f2" stroke="#4f463f" stroke-width="0.65" stroke-linejoin="round"/><path d="M-18.6 23.2Q-14.6 30.6 -11.2 45.6Q-10.0 29.1 -18.6 23.2Z" fill="#faf7f2" stroke="#4f463f" stroke-width="0.65" stroke-linejoin="round"/><path d="M-20.1 37.7Q-32.1 36.9 -32.9 50.1Q-28.3 40.8 -20.1 37.7Z" fill="#faf7f2" stroke="#4f463f" stroke-width="0.65" stroke-linejoin="round"/><path d="M-19.9 50.1Q-34.5 51.9 -40.3 65.8Q-30.5 57.2 -19.9 50.1Z" fill="#faf7f2" stroke="#4f463f" stroke-width="0.65" stroke-linejoin="round"/><path d="M-17.9 47.8Q-11.7 51.9 -4.4 68.0Q-6.2 48.2 -17.9 47.8Z" fill="#faf7f2" stroke="#4f463f" stroke-width="0.65" stroke-linejoin="round"/><path d="M-17.2 51.2Q-15.6 62.8 -8.9 63.5Q-11.2 59.8 -17.2 51.2Z" fill="#faf7f2" stroke="#4f463f" stroke-width="0.65" stroke-linejoin="round"/><path d="M-21.2 74.8Q-38.3 70.6 -48.2 87.1Q-35.6 76.6 -21.2 74.8Z" fill="#faf7f2" stroke="#4f463f" stroke-width="0.65" stroke-linejoin="round"/><path d="M-17.9 79.2Q-4.3 80.2 4.5 86.0Q-2.4 73.8 -17.9 79.2Z" fill="#faf7f2" stroke="#4f463f" stroke-width="0.65" stroke-linejoin="round"/><path d="M-20.1 71.4Q-28.0 80.6 -26.9 89.3Q-23.5 82.3 -20.1 71.4Z" fill="#faf7f2" stroke="#4f463f" stroke-width="0.65" stroke-linejoin="round"/><path d="M-20.8 98.3Q-31.9 100.4 -31.3 112.9Q-28.5 102.9 -20.8 98.3Z" fill="#faf7f2" stroke="#4f463f" stroke-width="0.65" stroke-linejoin="round"/><path d="M-18.6 100.6Q-6.1 104.0 0.1 105.0Q-5.0 99.3 -18.6 100.6Z" fill="#faf7f2" stroke="#4f463f" stroke-width="0.65" stroke-linejoin="round"/><path d="M-20.1 110.6Q-26.1 109.2 -30.2 112.9Q-25.4 112.1 -20.1 110.6Z" fill="#faf7f2" stroke="#4f463f" stroke-width="0.65" stroke-linejoin="round"/><path d="M-19.5 110.6Q-15.1 112.0 -11.2 114.0Q-14.0 109.3 -19.5 110.6Z" fill="#faf7f2" stroke="#4f463f" stroke-width="0.65" stroke-linejoin="round"/><defs><clipPath id="mcl"><polygon points="23.3,3.0 21.5,7.7 20.1,12.4 19.5,17.1 19.1,21.8 18.7,26.5 18.3,31.2 18.0,36.0 17.7,40.7 17.4,45.4 17.1,50.1 16.8,54.8 16.5,59.5 16.3,64.2 16.0,68.9 15.8,73.6 15.6,78.3 15.3,83.0 15.1,87.8 14.9,92.5 14.7,97.2 14.5,101.9 14.3,106.6 14.1,111.3 13.9,116.0 14.8,117.7 17.6,119.2 21.8,120.2 26.8,120.5 31.8,120.2 36.0,119.2 38.8,117.7 39.8,116.0 39.5,111.3 39.2,106.6 38.9,101.9 38.6,97.2 38.3,92.5 38.0,87.8 37.7,83.0 37.4,78.3 37.1,73.6 36.7,68.9 36.4,64.2 36.1,59.5 35.7,54.8 35.3,50.1 35.0,45.4 34.6,40.7 34.2,36.0 33.8,31.2 33.3,26.5 32.9,21.8 32.3,17.1 31.7,12.4 30.2,7.7 28.3,3.0"/></clipPath></defs><polygon points="23.3,3.0 21.5,7.7 20.1,12.4 19.5,17.1 19.1,21.8 18.7,26.5 18.3,31.2 18.0,36.0 17.7,40.7 17.4,45.4 17.1,50.1 16.8,54.8 16.5,59.5 16.3,64.2 16.0,68.9 15.8,73.6 15.6,78.3 15.3,83.0 15.1,87.8 14.9,92.5 14.7,97.2 14.5,101.9 14.3,106.6 14.1,111.3 13.9,116.0 14.8,117.7 17.6,119.2 21.8,120.2 26.8,120.5 31.8,120.2 36.0,119.2 38.8,117.7 39.8,116.0 39.5,111.3 39.2,106.6 38.9,101.9 38.6,97.2 38.3,92.5 38.0,87.8 37.7,83.0 37.4,78.3 37.1,73.6 36.7,68.9 36.4,64.2 36.1,59.5 35.7,54.8 35.3,50.1 35.0,45.4 34.6,40.7 34.2,36.0 33.8,31.2 33.3,26.5 32.9,21.8 32.3,17.1 31.7,12.4 30.2,7.7 28.3,3.0" fill="#a89e93" stroke="#5f564e" stroke-width="0.9"/><g clip-path="url(#mcl)"><rect x="23.2" y="4.3" width="2.1" height="2.45" rx="1" fill="#f7f3ec"/><rect x="26.3" y="4.3" width="2.1" height="2.45" rx="1" fill="#f7f3ec"/><rect x="29.2" y="4.3" width="2.1" height="2.45" rx="1" fill="#f7f3ec"/><rect x="20.6" y="7.5" width="3.4" height="2.45" rx="1" fill="#f7f3ec"/><rect x="24.4" y="7.5" width="3.4" height="2.45" rx="1" fill="#f7f3ec"/><rect x="28.6" y="7.5" width="3.4" height="2.45" rx="1" fill="#f7f3ec"/><rect x="20.6" y="10.8" width="2.8" height="2.45" rx="1" fill="#f7f3ec"/><rect x="24.3" y="10.8" width="2.8" height="2.45" rx="1" fill="#f7f3ec"/><rect x="28.2" y="10.8" width="2.8" height="2.45" rx="1" fill="#f7f3ec"/><rect x="31.5" y="10.8" width="2.8" height="2.45" rx="1" fill="#f7f3ec"/><rect x="18.8" y="14.0" width="3.2" height="2.45" rx="1" fill="#f7f3ec"/><rect x="22.5" y="14.0" width="3.2" height="2.45" rx="1" fill="#f7f3ec"/><rect x="26.6" y="14.0" width="3.2" height="2.45" rx="1" fill="#f7f3ec"/><rect x="30.6" y="14.0" width="3.2" height="2.45" rx="1" fill="#f7f3ec"/><rect x="20.2" y="17.2" width="3.4" height="2.45" rx="1" fill="#f7f3ec"/><rect x="24.3" y="17.2" width="3.4" height="2.45" rx="1" fill="#f7f3ec"/><rect x="28.1" y="17.2" width="3.4" height="2.45" rx="1" fill="#f7f3ec"/><rect x="32.5" y="17.2" width="3.4" height="2.45" rx="1" fill="#f7f3ec"/><rect x="17.6" y="20.4" width="3.7" height="2.45" rx="1" fill="#f7f3ec"/><rect x="22.6" y="20.4" width="3.7" height="2.45" rx="1" fill="#f7f3ec"/><rect x="27.0" y="20.4" width="3.7" height="2.45" rx="1" fill="#f7f3ec"/><rect x="31.5" y="20.4" width="3.7" height="2.45" rx="1" fill="#f7f3ec"/><rect x="19.6" y="23.6" width="2.7" height="2.45" rx="1" fill="#f7f3ec"/><rect x="23.0" y="23.6" width="2.7" height="2.45" rx="1" fill="#f7f3ec"/><rect x="26.6" y="23.6" width="2.7" height="2.45" rx="1" fill="#f7f3ec"/><rect x="30.1" y="23.6" width="2.7" height="2.45" rx="1" fill="#f7f3ec"/><rect x="33.3" y="23.6" width="2.7" height="2.45" rx="1" fill="#f7f3ec"/><rect x="17.8" y="26.8" width="2.9" height="2.45" rx="1" fill="#f7f3ec"/><rect x="21.3" y="26.8" width="2.9" height="2.45" rx="1" fill="#f7f3ec"/><rect x="25.1" y="26.8" width="2.9" height="2.45" rx="1" fill="#f7f3ec"/><rect x="28.6" y="26.8" width="2.9" height="2.45" rx="1" fill="#f7f3ec"/><rect x="32.2" y="26.8" width="2.9" height="2.45" rx="1" fill="#f7f3ec"/><rect x="18.8" y="29.9" width="3.0" height="2.45" rx="1" fill="#f7f3ec"/><rect x="22.6" y="29.9" width="3.0" height="2.45" rx="1" fill="#f7f3ec"/><rect x="26.3" y="29.9" width="3.0" height="2.45" rx="1" fill="#f7f3ec"/><rect x="30.0" y="29.9" width="3.0" height="2.45" rx="1" fill="#f7f3ec"/><rect x="34.2" y="29.9" width="3.0" height="2.45" rx="1" fill="#f7f3ec"/><rect x="17.2" y="33.1" width="3.1" height="2.45" rx="1" fill="#f7f3ec"/><rect x="21.3" y="33.1" width="3.1" height="2.45" rx="1" fill="#f7f3ec"/><rect x="25.0" y="33.1" width="3.1" height="2.45" rx="1" fill="#f7f3ec"/><rect x="28.9" y="33.1" width="3.1" height="2.45" rx="1" fill="#f7f3ec"/><rect x="32.9" y="33.1" width="3.1" height="2.45" rx="1" fill="#f7f3ec"/><rect x="18.2" y="36.4" width="3.3" height="2.45" rx="1" fill="#f7f3ec"/><rect x="22.5" y="36.4" width="3.3" height="2.45" rx="1" fill="#f7f3ec"/><rect x="26.5" y="36.4" width="3.3" height="2.45" rx="1" fill="#f7f3ec"/><rect x="30.4" y="36.4" width="3.3" height="2.45" rx="1" fill="#f7f3ec"/><rect x="34.4" y="36.4" width="3.3" height="2.45" rx="1" fill="#f7f3ec"/><rect x="16.5" y="39.6" width="3.4" height="2.45" rx="1" fill="#f7f3ec"/><rect x="20.5" y="39.6" width="3.4" height="2.45" rx="1" fill="#f7f3ec"/><rect x="24.8" y="39.6" width="3.4" height="2.45" rx="1" fill="#f7f3ec"/><rect x="29.1" y="39.6" width="3.4" height="2.45" rx="1" fill="#f7f3ec"/><rect x="33.1" y="39.6" width="3.4" height="2.45" rx="1" fill="#f7f3ec"/><rect x="17.7" y="42.8" width="2.6" height="2.45" rx="1" fill="#f7f3ec"/><rect x="21.4" y="42.8" width="2.6" height="2.45" rx="1" fill="#f7f3ec"/><rect x="24.7" y="42.8" width="2.6" height="2.45" rx="1" fill="#f7f3ec"/><rect x="28.1" y="42.8" width="2.6" height="2.45" rx="1" fill="#f7f3ec"/><rect x="31.5" y="42.8" width="2.6" height="2.45" rx="1" fill="#f7f3ec"/><rect x="35.1" y="42.8" width="2.6" height="2.45" rx="1" fill="#f7f3ec"/><rect x="16.1" y="46.0" width="2.7" height="2.45" rx="1" fill="#f7f3ec"/><rect x="20.0" y="46.0" width="2.7" height="2.45" rx="1" fill="#f7f3ec"/><rect x="23.7" y="46.0" width="2.7" height="2.45" rx="1" fill="#f7f3ec"/><rect x="26.9" y="46.0" width="2.7" height="2.45" rx="1" fill="#f7f3ec"/><rect x="30.6" y="46.0" width="2.7" height="2.45" rx="1" fill="#f7f3ec"/><rect x="34.2" y="46.0" width="2.7" height="2.45" rx="1" fill="#f7f3ec"/><rect x="17.3" y="49.2" width="2.8" height="2.45" rx="1" fill="#f7f3ec"/><rect x="21.0" y="49.2" width="2.8" height="2.45" rx="1" fill="#f7f3ec"/><rect x="25.0" y="49.2" width="2.8" height="2.45" rx="1" fill="#f7f3ec"/><rect x="28.6" y="49.2" width="2.8" height="2.45" rx="1" fill="#f7f3ec"/><rect x="32.1" y="49.2" width="2.8" height="2.45" rx="1" fill="#f7f3ec"/><rect x="35.4" y="49.2" width="2.8" height="2.45" rx="1" fill="#f7f3ec"/><rect x="15.8" y="52.4" width="2.9" height="2.45" rx="1" fill="#f7f3ec"/><rect x="19.8" y="52.4" width="2.9" height="2.45" rx="1" fill="#f7f3ec"/><rect x="23.5" y="52.4" width="2.9" height="2.45" rx="1" fill="#f7f3ec"/><rect x="27.2" y="52.4" width="2.9" height="2.45" rx="1" fill="#f7f3ec"/><rect x="30.5" y="52.4" width="2.9" height="2.45" rx="1" fill="#f7f3ec"/><rect x="34.6" y="52.4" width="2.9" height="2.45" rx="1" fill="#f7f3ec"/><rect x="17.1" y="55.6" width="3.0" height="2.45" rx="1" fill="#f7f3ec"/><rect x="21.1" y="55.6" width="3.0" height="2.45" rx="1" fill="#f7f3ec"/><rect x="24.5" y="55.6" width="3.0" height="2.45" rx="1" fill="#f7f3ec"/><rect x="28.8" y="55.6" width="3.0" height="2.45" rx="1" fill="#f7f3ec"/><rect x="32.4" y="55.6" width="3.0" height="2.45" rx="1" fill="#f7f3ec"/><rect x="36.3" y="55.6" width="3.0" height="2.45" rx="1" fill="#f7f3ec"/><rect x="15.3" y="58.8" width="3.1" height="2.45" rx="1" fill="#f7f3ec"/><rect x="19.4" y="58.8" width="3.1" height="2.45" rx="1" fill="#f7f3ec"/><rect x="23.3" y="58.8" width="3.1" height="2.45" rx="1" fill="#f7f3ec"/><rect x="27.1" y="58.8" width="3.1" height="2.45" rx="1" fill="#f7f3ec"/><rect x="30.9" y="58.8" width="3.1" height="2.45" rx="1" fill="#f7f3ec"/><rect x="35.0" y="58.8" width="3.1" height="2.45" rx="1" fill="#f7f3ec"/><rect x="16.7" y="62.0" width="3.2" height="2.45" rx="1" fill="#f7f3ec"/><rect x="20.7" y="62.0" width="3.2" height="2.45" rx="1" fill="#f7f3ec"/><rect x="24.5" y="62.0" width="3.2" height="2.45" rx="1" fill="#f7f3ec"/><rect x="28.8" y="62.0" width="3.2" height="2.45" rx="1" fill="#f7f3ec"/><rect x="32.4" y="62.0" width="3.2" height="2.45" rx="1" fill="#f7f3ec"/><rect x="36.4" y="62.0" width="3.2" height="2.45" rx="1" fill="#f7f3ec"/><rect x="14.8" y="65.2" width="3.2" height="2.45" rx="1" fill="#f7f3ec"/><rect x="19.2" y="65.2" width="3.2" height="2.45" rx="1" fill="#f7f3ec"/><rect x="23.1" y="65.2" width="3.2" height="2.45" rx="1" fill="#f7f3ec"/><rect x="27.2" y="65.2" width="3.2" height="2.45" rx="1" fill="#f7f3ec"/><rect x="30.9" y="65.2" width="3.2" height="2.45" rx="1" fill="#f7f3ec"/><rect x="35.2" y="65.2" width="3.2" height="2.45" rx="1" fill="#f7f3ec"/><rect x="16.4" y="68.4" width="2.6" height="2.45" rx="1" fill="#f7f3ec"/><rect x="19.7" y="68.4" width="2.6" height="2.45" rx="1" fill="#f7f3ec"/><rect x="23.0" y="68.4" width="2.6" height="2.45" rx="1" fill="#f7f3ec"/><rect x="27.1" y="68.4" width="2.6" height="2.45" rx="1" fill="#f7f3ec"/><rect x="30.0" y="68.4" width="2.6" height="2.45" rx="1" fill="#f7f3ec"/><rect x="33.5" y="68.4" width="2.6" height="2.45" rx="1" fill="#f7f3ec"/><rect x="36.9" y="68.4" width="2.6" height="2.45" rx="1" fill="#f7f3ec"/><rect x="15.0" y="71.6" width="2.7" height="2.45" rx="1" fill="#f7f3ec"/><rect x="18.2" y="71.6" width="2.7" height="2.45" rx="1" fill="#f7f3ec"/><rect x="21.9" y="71.6" width="2.7" height="2.45" rx="1" fill="#f7f3ec"/><rect x="25.3" y="71.6" width="2.7" height="2.45" rx="1" fill="#f7f3ec"/><rect x="29.1" y="71.6" width="2.7" height="2.45" rx="1" fill="#f7f3ec"/><rect x="32.1" y="71.6" width="2.7" height="2.45" rx="1" fill="#f7f3ec"/><rect x="35.8" y="71.6" width="2.7" height="2.45" rx="1" fill="#f7f3ec"/><rect x="16.2" y="74.8" width="2.8" height="2.45" rx="1" fill="#f7f3ec"/><rect x="20.0" y="74.8" width="2.8" height="2.45" rx="1" fill="#f7f3ec"/><rect x="23.3" y="74.8" width="2.8" height="2.45" rx="1" fill="#f7f3ec"/><rect x="26.8" y="74.8" width="2.8" height="2.45" rx="1" fill="#f7f3ec"/><rect x="30.5" y="74.8" width="2.8" height="2.45" rx="1" fill="#f7f3ec"/><rect x="33.8" y="74.8" width="2.8" height="2.45" rx="1" fill="#f7f3ec"/><rect x="37.2" y="74.8" width="2.8" height="2.45" rx="1" fill="#f7f3ec"/><rect x="14.6" y="78.0" width="2.8" height="2.45" rx="1" fill="#f7f3ec"/><rect x="18.4" y="78.0" width="2.8" height="2.45" rx="1" fill="#f7f3ec"/><rect x="21.9" y="78.0" width="2.8" height="2.45" rx="1" fill="#f7f3ec"/><rect x="25.3" y="78.0" width="2.8" height="2.45" rx="1" fill="#f7f3ec"/><rect x="29.1" y="78.0" width="2.8" height="2.45" rx="1" fill="#f7f3ec"/><rect x="32.9" y="78.0" width="2.8" height="2.45" rx="1" fill="#f7f3ec"/><rect x="36.1" y="78.0" width="2.8" height="2.45" rx="1" fill="#f7f3ec"/><rect x="15.9" y="81.2" width="2.9" height="2.45" rx="1" fill="#f7f3ec"/><rect x="19.4" y="81.2" width="2.9" height="2.45" rx="1" fill="#f7f3ec"/><rect x="23.1" y="81.2" width="2.9" height="2.45" rx="1" fill="#f7f3ec"/><rect x="26.8" y="81.2" width="2.9" height="2.45" rx="1" fill="#f7f3ec"/><rect x="30.4" y="81.2" width="2.9" height="2.45" rx="1" fill="#f7f3ec"/><rect x="34.2" y="81.2" width="2.9" height="2.45" rx="1" fill="#f7f3ec"/><rect x="37.7" y="81.2" width="2.9" height="2.45" rx="1" fill="#f7f3ec"/><rect x="14.1" y="84.4" width="2.9" height="2.45" rx="1" fill="#f7f3ec"/><rect x="17.7" y="84.4" width="2.9" height="2.45" rx="1" fill="#f7f3ec"/><rect x="21.8" y="84.4" width="2.9" height="2.45" rx="1" fill="#f7f3ec"/><rect x="25.5" y="84.4" width="2.9" height="2.45" rx="1" fill="#f7f3ec"/><rect x="28.9" y="84.4" width="2.9" height="2.45" rx="1" fill="#f7f3ec"/><rect x="33.1" y="84.4" width="2.9" height="2.45" rx="1" fill="#f7f3ec"/><rect x="36.5" y="84.4" width="2.9" height="2.45" rx="1" fill="#f7f3ec"/><rect x="15.5" y="87.6" width="3.0" height="2.45" rx="1" fill="#f7f3ec"/><rect x="19.4" y="87.6" width="3.0" height="2.45" rx="1" fill="#f7f3ec"/><rect x="23.0" y="87.6" width="3.0" height="2.45" rx="1" fill="#f7f3ec"/><rect x="26.8" y="87.6" width="3.0" height="2.45" rx="1" fill="#f7f3ec"/><rect x="30.7" y="87.6" width="3.0" height="2.45" rx="1" fill="#f7f3ec"/><rect x="34.3" y="87.6" width="3.0" height="2.45" rx="1" fill="#f7f3ec"/><rect x="38.6" y="87.6" width="3.0" height="2.45" rx="1" fill="#f7f3ec"/><rect x="13.6" y="90.8" width="3.1" height="2.45" rx="1" fill="#f7f3ec"/><rect x="17.9" y="90.8" width="3.1" height="2.45" rx="1" fill="#f7f3ec"/><rect x="21.4" y="90.8" width="3.1" height="2.45" rx="1" fill="#f7f3ec"/><rect x="25.3" y="90.8" width="3.1" height="2.45" rx="1" fill="#f7f3ec"/><rect x="29.2" y="90.8" width="3.1" height="2.45" rx="1" fill="#f7f3ec"/><rect x="32.9" y="90.8" width="3.1" height="2.45" rx="1" fill="#f7f3ec"/><rect x="36.8" y="90.8" width="3.1" height="2.45" rx="1" fill="#f7f3ec"/><rect x="15.2" y="94.0" width="3.1" height="2.45" rx="1" fill="#f7f3ec"/><rect x="19.1" y="94.0" width="3.1" height="2.45" rx="1" fill="#f7f3ec"/><rect x="23.3" y="94.0" width="3.1" height="2.45" rx="1" fill="#f7f3ec"/><rect x="27.3" y="94.0" width="3.1" height="2.45" rx="1" fill="#f7f3ec"/><rect x="30.6" y="94.0" width="3.1" height="2.45" rx="1" fill="#f7f3ec"/><rect x="34.9" y="94.0" width="3.1" height="2.45" rx="1" fill="#f7f3ec"/><rect x="38.5" y="94.0" width="3.1" height="2.45" rx="1" fill="#f7f3ec"/><rect x="13.9" y="97.2" width="2.6" height="2.45" rx="1" fill="#f7f3ec"/><rect x="17.0" y="97.2" width="2.6" height="2.45" rx="1" fill="#f7f3ec"/><rect x="20.8" y="97.2" width="2.6" height="2.45" rx="1" fill="#f7f3ec"/><rect x="24.0" y="97.2" width="2.6" height="2.45" rx="1" fill="#f7f3ec"/><rect x="27.1" y="97.2" width="2.6" height="2.45" rx="1" fill="#f7f3ec"/><rect x="30.5" y="97.2" width="2.6" height="2.45" rx="1" fill="#f7f3ec"/><rect x="34.0" y="97.2" width="2.6" height="2.45" rx="1" fill="#f7f3ec"/><rect x="37.8" y="97.2" width="2.6" height="2.45" rx="1" fill="#f7f3ec"/><rect x="14.7" y="100.4" width="2.7" height="2.45" rx="1" fill="#f7f3ec"/><rect x="18.4" y="100.4" width="2.7" height="2.45" rx="1" fill="#f7f3ec"/><rect x="21.8" y="100.4" width="2.7" height="2.45" rx="1" fill="#f7f3ec"/><rect x="25.2" y="100.4" width="2.7" height="2.45" rx="1" fill="#f7f3ec"/><rect x="29.0" y="100.4" width="2.7" height="2.45" rx="1" fill="#f7f3ec"/><rect x="32.1" y="100.4" width="2.7" height="2.45" rx="1" fill="#f7f3ec"/><rect x="35.8" y="100.4" width="2.7" height="2.45" rx="1" fill="#f7f3ec"/><rect x="39.3" y="100.4" width="2.7" height="2.45" rx="1" fill="#f7f3ec"/><rect x="13.7" y="103.6" width="2.7" height="2.45" rx="1" fill="#f7f3ec"/><rect x="16.9" y="103.6" width="2.7" height="2.45" rx="1" fill="#f7f3ec"/><rect x="20.7" y="103.6" width="2.7" height="2.45" rx="1" fill="#f7f3ec"/><rect x="23.9" y="103.6" width="2.7" height="2.45" rx="1" fill="#f7f3ec"/><rect x="27.5" y="103.6" width="2.7" height="2.45" rx="1" fill="#f7f3ec"/><rect x="31.0" y="103.6" width="2.7" height="2.45" rx="1" fill="#f7f3ec"/><rect x="34.7" y="103.6" width="2.7" height="2.45" rx="1" fill="#f7f3ec"/><rect x="38.2" y="103.6" width="2.7" height="2.45" rx="1" fill="#f7f3ec"/><rect x="14.4" y="106.8" width="2.8" height="2.45" rx="1" fill="#f7f3ec"/><rect x="18.0" y="106.8" width="2.8" height="2.45" rx="1" fill="#f7f3ec"/><rect x="21.8" y="106.8" width="2.8" height="2.45" rx="1" fill="#f7f3ec"/><rect x="25.5" y="106.8" width="2.8" height="2.45" rx="1" fill="#f7f3ec"/><rect x="28.9" y="106.8" width="2.8" height="2.45" rx="1" fill="#f7f3ec"/><rect x="32.3" y="106.8" width="2.8" height="2.45" rx="1" fill="#f7f3ec"/><rect x="36.3" y="106.8" width="2.8" height="2.45" rx="1" fill="#f7f3ec"/><rect x="39.4" y="106.8" width="2.8" height="2.45" rx="1" fill="#f7f3ec"/><rect x="12.8" y="110.0" width="2.8" height="2.45" rx="1" fill="#f7f3ec"/><rect x="16.4" y="110.0" width="2.8" height="2.45" rx="1" fill="#f7f3ec"/><rect x="20.0" y="110.0" width="2.8" height="2.45" rx="1" fill="#f7f3ec"/><rect x="24.0" y="110.0" width="2.8" height="2.45" rx="1" fill="#f7f3ec"/><rect x="27.3" y="110.0" width="2.8" height="2.45" rx="1" fill="#f7f3ec"/><rect x="31.2" y="110.0" width="2.8" height="2.45" rx="1" fill="#f7f3ec"/><rect x="34.9" y="110.0" width="2.8" height="2.45" rx="1" fill="#f7f3ec"/><rect x="38.6" y="110.0" width="2.8" height="2.45" rx="1" fill="#f7f3ec"/><rect x="14.6" y="113.2" width="2.9" height="2.45" rx="1" fill="#f7f3ec"/><rect x="18.0" y="113.2" width="2.9" height="2.45" rx="1" fill="#f7f3ec"/><rect x="21.8" y="113.2" width="2.9" height="2.45" rx="1" fill="#f7f3ec"/><rect x="25.5" y="113.2" width="2.9" height="2.45" rx="1" fill="#f7f3ec"/><rect x="29.1" y="113.2" width="2.9" height="2.45" rx="1" fill="#f7f3ec"/><rect x="32.5" y="113.2" width="2.9" height="2.45" rx="1" fill="#f7f3ec"/><rect x="36.5" y="113.2" width="2.9" height="2.45" rx="1" fill="#f7f3ec"/><rect x="39.7" y="113.2" width="2.9" height="2.45" rx="1" fill="#f7f3ec"/><rect x="12.7" y="116.4" width="2.9" height="2.45" rx="1" fill="#f7f3ec"/><rect x="16.8" y="116.4" width="2.9" height="2.45" rx="1" fill="#f7f3ec"/><rect x="20.2" y="116.4" width="2.9" height="2.45" rx="1" fill="#f7f3ec"/><rect x="23.7" y="116.4" width="2.9" height="2.45" rx="1" fill="#f7f3ec"/><rect x="27.7" y="116.4" width="2.9" height="2.45" rx="1" fill="#f7f3ec"/><rect x="31.2" y="116.4" width="2.9" height="2.45" rx="1" fill="#f7f3ec"/><rect x="34.7" y="116.4" width="2.9" height="2.45" rx="1" fill="#f7f3ec"/><rect x="38.4" y="116.4" width="2.9" height="2.45" rx="1" fill="#f7f3ec"/></g><polygon points="23.3,3.0 21.5,7.7 20.1,12.4 19.5,17.1 19.1,21.8 18.7,26.5 18.3,31.2 18.0,36.0 17.7,40.7 17.4,45.4 17.1,50.1 16.8,54.8 16.5,59.5 16.3,64.2 16.0,68.9 15.8,73.6 15.6,78.3 15.3,83.0 15.1,87.8 14.9,92.5 14.7,97.2 14.5,101.9 14.3,106.6 14.1,111.3 13.9,116.0 14.8,117.7 17.6,119.2 21.8,120.2 26.8,120.5 31.8,120.2 36.0,119.2 38.8,117.7 39.8,116.0 39.5,111.3 39.2,106.6 38.9,101.9 38.6,97.2 38.3,92.5 38.0,87.8 37.7,83.0 37.4,78.3 37.1,73.6 36.7,68.9 36.4,64.2 36.1,59.5 35.7,54.8 35.3,50.1 35.0,45.4 34.6,40.7 34.2,36.0 33.8,31.2 33.3,26.5 32.9,21.8 32.3,17.1 31.7,12.4 30.2,7.7 28.3,3.0" fill="none" stroke="#5f564e" stroke-width="0.9"/></svg></div>
<div class="bar"><div class="fill"></div></div>
<div class="tk" style="left:532.1px"></div>
<div class="tk" style="left:667.8px"></div>
<div class="tk" style="left:803.5px"></div>
<div class="tk" style="left:939.1px"></div>
<div class="tk" style="left:1074.8px"></div>
<div class="tk" style="left:1210.5px"></div>
<div class="tk" style="left:1346.2px"></div>
<div class="tk" style="left:1481.9px"></div>
<div class="tk" style="left:1617.5px"></div>
<div class="tk" style="left:1753.2px"></div>
<div class="tk" style="left:1888.9px"></div>
<div class="tk" style="left:2024.6px"></div>
<div class="tk" style="left:2160.3px"></div>
<div class="tk" style="left:2295.9px"></div>
<div class="lb" style="left:383.6px;top:421.0px;height:96px">1:<br>Cellular<br>Organisms</div>
<div class="lb" style="left:519.3px;top:421.0px;height:96px">2:<br>Domain:<br>Eukaryota</div>
<div class="lb" style="left:655.0px;top:421.0px;height:96px">3:<br>Kingdom:<br>Viridiplantae</div>
<div class="lb" style="left:790.6px;top:421.0px;height:96px">4:<br>Phylum:<br>Streptophyta</div>
<div class="lb" style="left:926.3px;top:421.0px;height:96px">5:<br>Land plants<br>(Embryophyta)</div>
<div class="lb" style="left:1062.0px;top:421.0px;height:96px">6:<br>Class:<br>Magnoliopsida</div>
<div class="lb" style="left:1197.7px;top:421.0px;height:96px">7:<br>Monocots<br>(Liliopsida)</div>
<div class="lb" style="left:1333.4px;top:421.0px;height:96px">8:<br>Order:<br>Poales</div>
<div class="lb" style="left:1469.0px;top:421.0px;height:96px">9:<br>Family:<br>Poaceae</div>
<div class="lb" style="left:1604.7px;top:421.0px;height:96px">10:<br>Subfamily:<br>Panicoideae</div>
<div class="lb" style="left:1740.4px;top:421.0px;height:96px">11:<br>Tribe:<br>Andropogoneae</div>
<div class="lb" style="left:1876.1px;top:421.0px;height:96px">12:<br>Genus:<br>Zea</div>
<div class="lb" style="left:2011.8px;top:421.0px;height:128px">13:<br>Species:<br>Zea<br>mays</div>
<div class="lb" style="left:2147.4px;top:421.0px;height:128px">14:<br>Subspecies:<br>Zea mays<br>mays</div>
</body></html>
